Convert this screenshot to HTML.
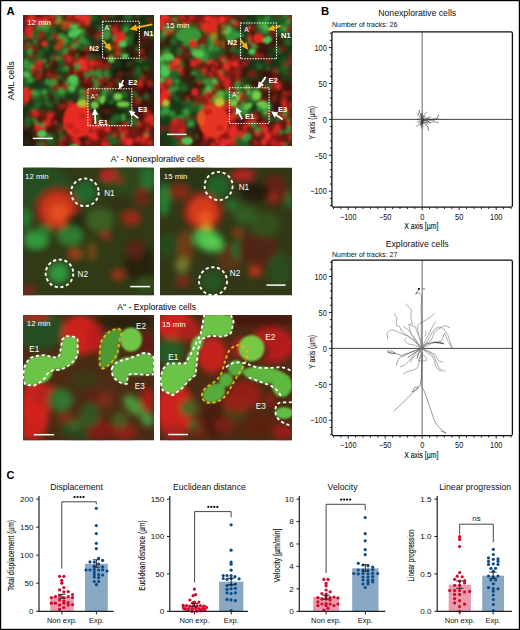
<!DOCTYPE html>
<html><head><meta charset="utf-8"><style>
html,body{margin:0;padding:0;background:#fff;}
body{width:520px;height:630px;overflow:hidden;}
svg{display:block;}
</style></head><body>
<svg width="520" height="630" viewBox="0 0 520 630">
<rect width="520" height="630" fill="#fff"/>
<rect x="0.5" y="0.5" width="519" height="629" fill="none" stroke="#000" stroke-width="1.4"/>
<text x="6.6" y="15" font-family="Liberation Sans, sans-serif" font-size="11.3" font-weight="bold">A</text>
<text x="321" y="15" font-family="Liberation Sans, sans-serif" font-size="11.3" font-weight="bold">B</text>
<text x="6.6" y="479.2" font-family="Liberation Sans, sans-serif" font-size="11" font-weight="bold">C</text>
<text transform="translate(14,100) rotate(-90)" font-family="Liberation Sans, sans-serif" font-size="9">AML cells</text>
<text x="110.8" y="162" font-family="Liberation Sans, sans-serif" font-size="8.75">A' - Nonexplorative cells</text>
<text x="117.2" y="309.6" font-family="Liberation Sans, sans-serif" font-size="8.6">A'' - Explorative cells</text>
<clipPath id="c1"><rect x="23" y="15" width="131" height="131"/></clipPath>
<g clip-path="url(#c1)">
<rect x="23" y="15" width="131" height="131" fill="#402a12"/>
<filter id="f1_0" x="-20%" y="-20%" width="140%" height="140%"><feGaussianBlur stdDeviation="3.2"/></filter>
<g filter="url(#f1_0)"><rect x="22.50" y="14.50" width="11.92" height="11.92" fill="#851914"/>
<rect x="33.42" y="14.50" width="11.92" height="11.92" fill="#851914"/>
<rect x="44.33" y="14.50" width="11.92" height="11.92" fill="#64150f"/>
<rect x="55.25" y="14.50" width="11.92" height="11.92" fill="#433410"/>
<rect x="66.17" y="14.50" width="11.92" height="11.92" fill="#851914"/>
<rect x="77.08" y="14.50" width="11.92" height="11.92" fill="#851914"/>
<rect x="88.00" y="14.50" width="11.92" height="11.92" fill="#163414"/>
<rect x="98.92" y="14.50" width="11.92" height="11.92" fill="#163414"/>
<rect x="109.83" y="14.50" width="11.92" height="11.92" fill="#191308"/>
<rect x="120.75" y="14.50" width="11.92" height="11.92" fill="#163414"/>
<rect x="131.67" y="14.50" width="11.92" height="11.92" fill="#191308"/>
<rect x="142.58" y="14.50" width="11.92" height="11.92" fill="#163414"/>
<rect x="22.50" y="25.42" width="11.92" height="11.92" fill="#64150f"/>
<rect x="33.42" y="25.42" width="11.92" height="11.92" fill="#1f5822"/>
<rect x="44.33" y="25.42" width="11.92" height="11.92" fill="#1f5822"/>
<rect x="55.25" y="25.42" width="11.92" height="11.92" fill="#163414"/>
<rect x="66.17" y="25.42" width="11.92" height="11.92" fill="#2e7531"/>
<rect x="77.08" y="25.42" width="11.92" height="11.92" fill="#433410"/>
<rect x="88.00" y="25.42" width="11.92" height="11.92" fill="#3c1009"/>
<rect x="98.92" y="25.42" width="11.92" height="11.92" fill="#1f5822"/>
<rect x="109.83" y="25.42" width="11.92" height="11.92" fill="#64150f"/>
<rect x="120.75" y="25.42" width="11.92" height="11.92" fill="#163414"/>
<rect x="131.67" y="25.42" width="11.92" height="11.92" fill="#191308"/>
<rect x="142.58" y="25.42" width="11.92" height="11.92" fill="#163414"/>
<rect x="22.50" y="36.33" width="11.92" height="11.92" fill="#3c1009"/>
<rect x="33.42" y="36.33" width="11.92" height="11.92" fill="#64150f"/>
<rect x="44.33" y="36.33" width="11.92" height="11.92" fill="#163414"/>
<rect x="55.25" y="36.33" width="11.92" height="11.92" fill="#433410"/>
<rect x="66.17" y="36.33" width="11.92" height="11.92" fill="#1f5822"/>
<rect x="77.08" y="36.33" width="11.92" height="11.92" fill="#1f5822"/>
<rect x="88.00" y="36.33" width="11.92" height="11.92" fill="#163414"/>
<rect x="98.92" y="36.33" width="11.92" height="11.92" fill="#163414"/>
<rect x="109.83" y="36.33" width="11.92" height="11.92" fill="#64150f"/>
<rect x="120.75" y="36.33" width="11.92" height="11.92" fill="#1f5822"/>
<rect x="131.67" y="36.33" width="11.92" height="11.92" fill="#191308"/>
<rect x="142.58" y="36.33" width="11.92" height="11.92" fill="#3c1009"/>
<rect x="22.50" y="47.25" width="11.92" height="11.92" fill="#1f5822"/>
<rect x="33.42" y="47.25" width="11.92" height="11.92" fill="#163414"/>
<rect x="44.33" y="47.25" width="11.92" height="11.92" fill="#163414"/>
<rect x="55.25" y="47.25" width="11.92" height="11.92" fill="#1f5822"/>
<rect x="66.17" y="47.25" width="11.92" height="11.92" fill="#64150f"/>
<rect x="77.08" y="47.25" width="11.92" height="11.92" fill="#3c1009"/>
<rect x="88.00" y="47.25" width="11.92" height="11.92" fill="#191308"/>
<rect x="98.92" y="47.25" width="11.92" height="11.92" fill="#191308"/>
<rect x="109.83" y="47.25" width="11.92" height="11.92" fill="#433410"/>
<rect x="120.75" y="47.25" width="11.92" height="11.92" fill="#191308"/>
<rect x="131.67" y="47.25" width="11.92" height="11.92" fill="#3c1009"/>
<rect x="142.58" y="47.25" width="11.92" height="11.92" fill="#191308"/>
<rect x="22.50" y="58.17" width="11.92" height="11.92" fill="#1f5822"/>
<rect x="33.42" y="58.17" width="11.92" height="11.92" fill="#64150f"/>
<rect x="44.33" y="58.17" width="11.92" height="11.92" fill="#3c1009"/>
<rect x="55.25" y="58.17" width="11.92" height="11.92" fill="#1f5822"/>
<rect x="66.17" y="58.17" width="11.92" height="11.92" fill="#64150f"/>
<rect x="77.08" y="58.17" width="11.92" height="11.92" fill="#851914"/>
<rect x="88.00" y="58.17" width="11.92" height="11.92" fill="#851914"/>
<rect x="98.92" y="58.17" width="11.92" height="11.92" fill="#3c1009"/>
<rect x="109.83" y="58.17" width="11.92" height="11.92" fill="#163414"/>
<rect x="120.75" y="58.17" width="11.92" height="11.92" fill="#191308"/>
<rect x="131.67" y="58.17" width="11.92" height="11.92" fill="#163414"/>
<rect x="142.58" y="58.17" width="11.92" height="11.92" fill="#163414"/>
<rect x="22.50" y="69.08" width="11.92" height="11.92" fill="#2e7531"/>
<rect x="33.42" y="69.08" width="11.92" height="11.92" fill="#3c1009"/>
<rect x="44.33" y="69.08" width="11.92" height="11.92" fill="#3c1009"/>
<rect x="55.25" y="69.08" width="11.92" height="11.92" fill="#163414"/>
<rect x="66.17" y="69.08" width="11.92" height="11.92" fill="#64150f"/>
<rect x="77.08" y="69.08" width="11.92" height="11.92" fill="#64150f"/>
<rect x="88.00" y="69.08" width="11.92" height="11.92" fill="#64150f"/>
<rect x="98.92" y="69.08" width="11.92" height="11.92" fill="#1f5822"/>
<rect x="109.83" y="69.08" width="11.92" height="11.92" fill="#191308"/>
<rect x="120.75" y="69.08" width="11.92" height="11.92" fill="#191308"/>
<rect x="131.67" y="69.08" width="11.92" height="11.92" fill="#163414"/>
<rect x="142.58" y="69.08" width="11.92" height="11.92" fill="#3c1009"/>
<rect x="22.50" y="80.00" width="11.92" height="11.92" fill="#163414"/>
<rect x="33.42" y="80.00" width="11.92" height="11.92" fill="#163414"/>
<rect x="44.33" y="80.00" width="11.92" height="11.92" fill="#1f5822"/>
<rect x="55.25" y="80.00" width="11.92" height="11.92" fill="#3c1009"/>
<rect x="66.17" y="80.00" width="11.92" height="11.92" fill="#2e7531"/>
<rect x="77.08" y="80.00" width="11.92" height="11.92" fill="#3c1009"/>
<rect x="88.00" y="80.00" width="11.92" height="11.92" fill="#64150f"/>
<rect x="98.92" y="80.00" width="11.92" height="11.92" fill="#3c1009"/>
<rect x="109.83" y="80.00" width="11.92" height="11.92" fill="#3c1009"/>
<rect x="120.75" y="80.00" width="11.92" height="11.92" fill="#3c1009"/>
<rect x="131.67" y="80.00" width="11.92" height="11.92" fill="#64150f"/>
<rect x="142.58" y="80.00" width="11.92" height="11.92" fill="#3c1009"/>
<rect x="22.50" y="90.92" width="11.92" height="11.92" fill="#851914"/>
<rect x="33.42" y="90.92" width="11.92" height="11.92" fill="#1f5822"/>
<rect x="44.33" y="90.92" width="11.92" height="11.92" fill="#3c1009"/>
<rect x="55.25" y="90.92" width="11.92" height="11.92" fill="#1f5822"/>
<rect x="66.17" y="90.92" width="11.92" height="11.92" fill="#163414"/>
<rect x="77.08" y="90.92" width="11.92" height="11.92" fill="#433410"/>
<rect x="88.00" y="90.92" width="11.92" height="11.92" fill="#3c1009"/>
<rect x="98.92" y="90.92" width="11.92" height="11.92" fill="#1f5822"/>
<rect x="109.83" y="90.92" width="11.92" height="11.92" fill="#163414"/>
<rect x="120.75" y="90.92" width="11.92" height="11.92" fill="#163414"/>
<rect x="131.67" y="90.92" width="11.92" height="11.92" fill="#3c1009"/>
<rect x="142.58" y="90.92" width="11.92" height="11.92" fill="#3c1009"/>
<rect x="22.50" y="101.83" width="11.92" height="11.92" fill="#163414"/>
<rect x="33.42" y="101.83" width="11.92" height="11.92" fill="#163414"/>
<rect x="44.33" y="101.83" width="11.92" height="11.92" fill="#163414"/>
<rect x="55.25" y="101.83" width="11.92" height="11.92" fill="#3c1009"/>
<rect x="66.17" y="101.83" width="11.92" height="11.92" fill="#851914"/>
<rect x="77.08" y="101.83" width="11.92" height="11.92" fill="#756419"/>
<rect x="88.00" y="101.83" width="11.92" height="11.92" fill="#163414"/>
<rect x="98.92" y="101.83" width="11.92" height="11.92" fill="#191308"/>
<rect x="109.83" y="101.83" width="11.92" height="11.92" fill="#191308"/>
<rect x="120.75" y="101.83" width="11.92" height="11.92" fill="#163414"/>
<rect x="131.67" y="101.83" width="11.92" height="11.92" fill="#3c1009"/>
<rect x="142.58" y="101.83" width="11.92" height="11.92" fill="#3c1009"/>
<rect x="22.50" y="112.75" width="11.92" height="11.92" fill="#163414"/>
<rect x="33.42" y="112.75" width="11.92" height="11.92" fill="#64150f"/>
<rect x="44.33" y="112.75" width="11.92" height="11.92" fill="#64150f"/>
<rect x="55.25" y="112.75" width="11.92" height="11.92" fill="#3c1009"/>
<rect x="66.17" y="112.75" width="11.92" height="11.92" fill="#851914"/>
<rect x="77.08" y="112.75" width="11.92" height="11.92" fill="#851914"/>
<rect x="88.00" y="112.75" width="11.92" height="11.92" fill="#3c1009"/>
<rect x="98.92" y="112.75" width="11.92" height="11.92" fill="#191308"/>
<rect x="109.83" y="112.75" width="11.92" height="11.92" fill="#163414"/>
<rect x="120.75" y="112.75" width="11.92" height="11.92" fill="#163414"/>
<rect x="131.67" y="112.75" width="11.92" height="11.92" fill="#3c1009"/>
<rect x="142.58" y="112.75" width="11.92" height="11.92" fill="#64150f"/>
<rect x="22.50" y="123.67" width="11.92" height="11.92" fill="#191308"/>
<rect x="33.42" y="123.67" width="11.92" height="11.92" fill="#64150f"/>
<rect x="44.33" y="123.67" width="11.92" height="11.92" fill="#3c1009"/>
<rect x="55.25" y="123.67" width="11.92" height="11.92" fill="#163414"/>
<rect x="66.17" y="123.67" width="11.92" height="11.92" fill="#851914"/>
<rect x="77.08" y="123.67" width="11.92" height="11.92" fill="#851914"/>
<rect x="88.00" y="123.67" width="11.92" height="11.92" fill="#851914"/>
<rect x="98.92" y="123.67" width="11.92" height="11.92" fill="#851914"/>
<rect x="109.83" y="123.67" width="11.92" height="11.92" fill="#64150f"/>
<rect x="120.75" y="123.67" width="11.92" height="11.92" fill="#64150f"/>
<rect x="131.67" y="123.67" width="11.92" height="11.92" fill="#64150f"/>
<rect x="142.58" y="123.67" width="11.92" height="11.92" fill="#64150f"/>
<rect x="22.50" y="134.58" width="11.92" height="11.92" fill="#191308"/>
<rect x="33.42" y="134.58" width="11.92" height="11.92" fill="#3c1009"/>
<rect x="44.33" y="134.58" width="11.92" height="11.92" fill="#1f5822"/>
<rect x="55.25" y="134.58" width="11.92" height="11.92" fill="#3c1009"/>
<rect x="66.17" y="134.58" width="11.92" height="11.92" fill="#64150f"/>
<rect x="77.08" y="134.58" width="11.92" height="11.92" fill="#3c1009"/>
<rect x="88.00" y="134.58" width="11.92" height="11.92" fill="#851914"/>
<rect x="98.92" y="134.58" width="11.92" height="11.92" fill="#64150f"/>
<rect x="109.83" y="134.58" width="11.92" height="11.92" fill="#163414"/>
<rect x="120.75" y="134.58" width="11.92" height="11.92" fill="#851914"/>
<rect x="131.67" y="134.58" width="11.92" height="11.92" fill="#64150f"/>
<rect x="142.58" y="134.58" width="11.92" height="11.92" fill="#851914"/></g>
<filter id="f1_1" x="-20%" y="-20%" width="140%" height="140%"><feGaussianBlur stdDeviation="1.4"/></filter>
<g filter="url(#f1_1)"><ellipse cx="31.6" cy="16.5" rx="2.7" ry="2.9" fill="#eb2d26" transform="rotate(142 31.6 16.5)"/>
<ellipse cx="45.4" cy="18.6" rx="2.7" ry="3.0" fill="#d72820" transform="rotate(41 45.4 18.6)"/>
<ellipse cx="52.3" cy="15.6" rx="2.9" ry="3.5" fill="#d72820" transform="rotate(69 52.3 15.6)"/>
<ellipse cx="58.9" cy="16.4" rx="2.8" ry="2.4" fill="#3c9637" transform="rotate(42 58.9 16.4)"/>
<ellipse cx="70.0" cy="15.6" rx="2.9" ry="3.1" fill="#c8231e" transform="rotate(33 70.0 15.6)"/>
<ellipse cx="77.4" cy="16.0" rx="3.2" ry="3.5" fill="#eb2d26" transform="rotate(169 77.4 16.0)"/>
<ellipse cx="82.3" cy="18.2" rx="2.9" ry="3.5" fill="#eb2d26" transform="rotate(152 82.3 18.2)"/>
<ellipse cx="86.3" cy="15.6" rx="3.3" ry="3.1" fill="#eb2d26" transform="rotate(31 86.3 15.6)"/>
<ellipse cx="91.8" cy="18.2" rx="2.7" ry="2.7" fill="#286428" transform="rotate(140 91.8 18.2)"/>
<ellipse cx="95.6" cy="17.5" rx="2.1" ry="2.3" fill="#286428" transform="rotate(177 95.6 17.5)"/>
<ellipse cx="100.7" cy="16.2" rx="3.6" ry="4.1" fill="#1e3716" transform="rotate(97 100.7 16.2)"/>
<ellipse cx="105.1" cy="17.6" rx="2.9" ry="2.9" fill="#781e14" transform="rotate(48 105.1 17.6)"/>
<ellipse cx="113.0" cy="15.5" rx="3.3" ry="4.0" fill="#2d5524" transform="rotate(133 113.0 15.5)"/>
<ellipse cx="116.3" cy="17.8" rx="2.1" ry="2.5" fill="#2d200f" transform="rotate(103 116.3 17.8)"/>
<ellipse cx="126.2" cy="16.9" rx="2.9" ry="3.0" fill="#286428" transform="rotate(110 126.2 16.9)"/>
<ellipse cx="129.4" cy="16.4" rx="2.9" ry="3.5" fill="#286428" transform="rotate(144 129.4 16.4)"/>
<ellipse cx="137.6" cy="16.5" rx="3.1" ry="2.4" fill="#2d5524" transform="rotate(3 137.6 16.5)"/>
<ellipse cx="145.4" cy="15.9" rx="2.6" ry="2.0" fill="#1e3716" transform="rotate(29 145.4 15.9)"/>
<ellipse cx="150.1" cy="16.6" rx="2.7" ry="2.5" fill="#1e3716" transform="rotate(85 150.1 16.6)"/>
<ellipse cx="30.2" cy="21.3" rx="3.4" ry="3.5" fill="#eb2d26" transform="rotate(38 30.2 21.3)"/>
<ellipse cx="36.9" cy="20.6" rx="2.2" ry="2.5" fill="#eb2d26" transform="rotate(29 36.9 20.6)"/>
<ellipse cx="41.4" cy="22.7" rx="3.6" ry="4.1" fill="#eb2d26" transform="rotate(93 41.4 22.7)"/>
<ellipse cx="50.3" cy="22.9" rx="3.0" ry="2.3" fill="#d72820" transform="rotate(54 50.3 22.9)"/>
<ellipse cx="57.3" cy="21.8" rx="2.5" ry="3.0" fill="#a08223" transform="rotate(134 57.3 21.8)"/>
<ellipse cx="59.8" cy="20.6" rx="2.1" ry="2.4" fill="#a08223" transform="rotate(173 59.8 20.6)"/>
<ellipse cx="64.5" cy="24.0" rx="3.1" ry="3.1" fill="#a08223" transform="rotate(68 64.5 24.0)"/>
<ellipse cx="69.7" cy="23.3" rx="2.3" ry="1.9" fill="#eb2d26" transform="rotate(120 69.7 23.3)"/>
<ellipse cx="80.2" cy="24.1" rx="2.0" ry="1.7" fill="#c8231e" transform="rotate(59 80.2 24.1)"/>
<ellipse cx="87.1" cy="21.9" rx="3.1" ry="3.6" fill="#eb2d26" transform="rotate(168 87.1 21.9)"/>
<ellipse cx="92.6" cy="23.3" rx="3.6" ry="3.1" fill="#1e3716" transform="rotate(131 92.6 23.3)"/>
<ellipse cx="105.0" cy="23.6" rx="3.3" ry="3.1" fill="#1e3716" transform="rotate(61 105.0 23.6)"/>
<ellipse cx="116.6" cy="24.4" rx="2.2" ry="2.3" fill="#6e1c12" transform="rotate(19 116.6 24.4)"/>
<ellipse cx="132.5" cy="23.9" rx="3.0" ry="3.4" fill="#2d200f" transform="rotate(68 132.5 23.9)"/>
<ellipse cx="135.3" cy="20.9" rx="3.4" ry="3.5" fill="#2d200f" transform="rotate(167 135.3 20.9)"/>
<ellipse cx="140.5" cy="23.7" rx="2.0" ry="2.2" fill="#2d5524" transform="rotate(17 140.5 23.7)"/>
<ellipse cx="149.6" cy="21.5" rx="2.7" ry="2.2" fill="#781e14" transform="rotate(30 149.6 21.5)"/>
<ellipse cx="29.0" cy="29.3" rx="3.6" ry="4.3" fill="#d72820" transform="rotate(53 29.0 29.3)"/>
<ellipse cx="39.0" cy="28.2" rx="2.0" ry="2.5" fill="#37963a" transform="rotate(53 39.0 28.2)"/>
<ellipse cx="45.5" cy="26.8" rx="3.5" ry="4.3" fill="#37963a" transform="rotate(175 45.5 26.8)"/>
<ellipse cx="62.7" cy="27.8" rx="3.1" ry="2.7" fill="#1e3716" transform="rotate(97 62.7 27.8)"/>
<ellipse cx="64.8" cy="25.9" rx="3.6" ry="3.5" fill="#b43c19" transform="rotate(117 64.8 25.9)"/>
<ellipse cx="72.6" cy="27.2" rx="2.5" ry="2.3" fill="#50c350" transform="rotate(152 72.6 27.2)"/>
<ellipse cx="75.1" cy="26.9" rx="2.9" ry="3.1" fill="#50c350" transform="rotate(44 75.1 26.9)"/>
<ellipse cx="94.3" cy="25.9" rx="2.5" ry="2.8" fill="#1e3716" transform="rotate(89 94.3 25.9)"/>
<ellipse cx="99.7" cy="27.6" rx="2.1" ry="2.6" fill="#235f23" transform="rotate(31 99.7 27.6)"/>
<ellipse cx="108.1" cy="28.9" rx="2.2" ry="2.2" fill="#37963a" transform="rotate(165 108.1 28.9)"/>
<ellipse cx="114.8" cy="29.3" rx="2.5" ry="3.0" fill="#d72820" transform="rotate(145 114.8 29.3)"/>
<ellipse cx="122.6" cy="28.6" rx="2.3" ry="2.2" fill="#1e3716" transform="rotate(28 122.6 28.6)"/>
<ellipse cx="127.0" cy="26.6" rx="3.5" ry="4.1" fill="#286428" transform="rotate(99 127.0 26.6)"/>
<ellipse cx="132.7" cy="27.4" rx="2.5" ry="2.2" fill="#2d200f" transform="rotate(4 132.7 27.4)"/>
<ellipse cx="136.0" cy="27.9" rx="2.6" ry="2.1" fill="#2d200f" transform="rotate(23 136.0 27.9)"/>
<ellipse cx="146.0" cy="27.2" rx="2.4" ry="1.8" fill="#1e3716" transform="rotate(95 146.0 27.2)"/>
<ellipse cx="152.1" cy="27.3" rx="3.2" ry="2.8" fill="#1e3716" transform="rotate(89 152.1 27.3)"/>
<ellipse cx="24.4" cy="32.3" rx="3.5" ry="4.2" fill="#781e12" transform="rotate(50 24.4 32.3)"/>
<ellipse cx="28.7" cy="30.9" rx="3.4" ry="2.8" fill="#d72820" transform="rotate(138 28.7 30.9)"/>
<ellipse cx="34.8" cy="33.4" rx="2.6" ry="2.9" fill="#235f23" transform="rotate(133 34.8 33.4)"/>
<ellipse cx="42.1" cy="34.2" rx="2.9" ry="2.4" fill="#96261c" transform="rotate(45 42.1 34.2)"/>
<ellipse cx="51.8" cy="30.8" rx="3.1" ry="2.9" fill="#235f23" transform="rotate(93 51.8 30.8)"/>
<ellipse cx="58.9" cy="34.6" rx="3.0" ry="2.7" fill="#1e3716" transform="rotate(164 58.9 34.6)"/>
<ellipse cx="64.4" cy="33.7" rx="3.1" ry="3.4" fill="#1e3716" transform="rotate(80 64.4 33.7)"/>
<ellipse cx="72.8" cy="32.2" rx="2.7" ry="2.2" fill="#379637" transform="rotate(59 72.8 32.2)"/>
<ellipse cx="82.8" cy="31.1" rx="2.7" ry="2.1" fill="#3c9637" transform="rotate(53 82.8 31.1)"/>
<ellipse cx="89.0" cy="31.4" rx="2.0" ry="2.2" fill="#3a1c0e" transform="rotate(109 89.0 31.4)"/>
<ellipse cx="94.9" cy="31.8" rx="2.4" ry="2.5" fill="#3a1c0e" transform="rotate(45 94.9 31.8)"/>
<ellipse cx="102.3" cy="33.9" rx="2.9" ry="2.9" fill="#96261c" transform="rotate(154 102.3 33.9)"/>
<ellipse cx="106.4" cy="32.2" rx="2.2" ry="2.5" fill="#37963a" transform="rotate(21 106.4 32.2)"/>
<ellipse cx="111.4" cy="34.5" rx="3.6" ry="2.9" fill="#781e12" transform="rotate(90 111.4 34.5)"/>
<ellipse cx="115.5" cy="32.6" rx="2.8" ry="2.1" fill="#d72820" transform="rotate(80 115.5 32.6)"/>
<ellipse cx="120.5" cy="32.2" rx="3.1" ry="3.1" fill="#781e12" transform="rotate(117 120.5 32.2)"/>
<ellipse cx="125.1" cy="30.6" rx="3.0" ry="3.5" fill="#286428" transform="rotate(149 125.1 30.6)"/>
<ellipse cx="133.3" cy="32.5" rx="2.7" ry="3.0" fill="#2d5524" transform="rotate(178 133.3 32.5)"/>
<ellipse cx="135.0" cy="33.1" rx="2.6" ry="1.9" fill="#2d200f" transform="rotate(70 135.0 33.1)"/>
<ellipse cx="141.0" cy="34.1" rx="3.2" ry="3.8" fill="#2d200f" transform="rotate(135 141.0 34.1)"/>
<ellipse cx="147.4" cy="33.2" rx="3.0" ry="2.9" fill="#1e3716" transform="rotate(113 147.4 33.2)"/>
<ellipse cx="153.2" cy="33.8" rx="3.2" ry="3.7" fill="#1e3716" transform="rotate(109 153.2 33.8)"/>
<ellipse cx="24.6" cy="38.5" rx="2.9" ry="2.4" fill="#2d6428" transform="rotate(150 24.6 38.5)"/>
<ellipse cx="30.4" cy="35.8" rx="3.2" ry="3.1" fill="#d72820" transform="rotate(64 30.4 35.8)"/>
<ellipse cx="33.7" cy="37.7" rx="3.1" ry="3.0" fill="#2d6428" transform="rotate(124 33.7 37.7)"/>
<ellipse cx="39.5" cy="36.5" rx="2.4" ry="1.9" fill="#96261c" transform="rotate(150 39.5 36.5)"/>
<ellipse cx="45.1" cy="37.7" rx="2.3" ry="2.4" fill="#1e3716" transform="rotate(128 45.1 37.7)"/>
<ellipse cx="49.8" cy="38.1" rx="2.9" ry="2.4" fill="#286428" transform="rotate(142 49.8 38.1)"/>
<ellipse cx="55.1" cy="36.6" rx="3.1" ry="3.7" fill="#96261c" transform="rotate(5 55.1 36.6)"/>
<ellipse cx="61.3" cy="36.9" rx="3.2" ry="3.7" fill="#3c9637" transform="rotate(34 61.3 36.9)"/>
<ellipse cx="64.5" cy="39.6" rx="3.5" ry="3.9" fill="#3c9637" transform="rotate(109 64.5 39.6)"/>
<ellipse cx="74.4" cy="36.2" rx="2.6" ry="2.9" fill="#379637" transform="rotate(43 74.4 36.2)"/>
<ellipse cx="81.8" cy="36.9" rx="2.6" ry="2.6" fill="#37963a" transform="rotate(18 81.8 36.9)"/>
<ellipse cx="97.6" cy="36.5" rx="3.1" ry="3.6" fill="#962016" transform="rotate(174 97.6 36.5)"/>
<ellipse cx="100.5" cy="39.0" rx="3.1" ry="2.5" fill="#286428" transform="rotate(72 100.5 39.0)"/>
<ellipse cx="105.6" cy="36.3" rx="3.3" ry="3.3" fill="#37963a" transform="rotate(104 105.6 36.3)"/>
<ellipse cx="115.5" cy="38.1" rx="3.6" ry="2.8" fill="#3c8c37" transform="rotate(144 115.5 38.1)"/>
<ellipse cx="120.5" cy="37.2" rx="3.5" ry="3.3" fill="#781e12" transform="rotate(158 120.5 37.2)"/>
<ellipse cx="124.9" cy="39.3" rx="2.2" ry="2.4" fill="#37963a" transform="rotate(10 124.9 39.3)"/>
<ellipse cx="129.8" cy="37.5" rx="3.4" ry="2.6" fill="#235f23" transform="rotate(11 129.8 37.5)"/>
<ellipse cx="134.5" cy="36.8" rx="2.1" ry="1.6" fill="#2d200f" transform="rotate(115 134.5 36.8)"/>
<ellipse cx="142.2" cy="39.1" rx="2.6" ry="2.8" fill="#2d200f" transform="rotate(175 142.2 39.1)"/>
<ellipse cx="145.4" cy="35.9" rx="2.9" ry="2.7" fill="#781e14" transform="rotate(109 145.4 35.9)"/>
<ellipse cx="151.6" cy="35.9" rx="2.7" ry="2.3" fill="#286428" transform="rotate(158 151.6 35.9)"/>
<ellipse cx="26.2" cy="43.6" rx="3.2" ry="3.6" fill="#3a1c0e" transform="rotate(45 26.2 43.6)"/>
<ellipse cx="29.2" cy="44.4" rx="3.4" ry="2.6" fill="#2d6428" transform="rotate(16 29.2 44.4)"/>
<ellipse cx="35.5" cy="42.2" rx="2.1" ry="2.1" fill="#3c8c37" transform="rotate(80 35.5 42.2)"/>
<ellipse cx="46.5" cy="44.3" rx="2.8" ry="2.3" fill="#286428" transform="rotate(144 46.5 44.3)"/>
<ellipse cx="61.7" cy="42.0" rx="3.3" ry="3.8" fill="#b43c19" transform="rotate(154 61.7 42.0)"/>
<ellipse cx="65.5" cy="41.7" rx="2.5" ry="2.3" fill="#3c9637" transform="rotate(141 65.5 41.7)"/>
<ellipse cx="71.2" cy="41.1" rx="2.7" ry="3.4" fill="#235f23" transform="rotate(129 71.2 41.1)"/>
<ellipse cx="76.7" cy="42.9" rx="3.3" ry="3.0" fill="#96261c" transform="rotate(28 76.7 42.9)"/>
<ellipse cx="81.0" cy="41.1" rx="2.9" ry="2.3" fill="#37963a" transform="rotate(147 81.0 41.1)"/>
<ellipse cx="85.2" cy="41.9" rx="2.5" ry="2.8" fill="#37963a" transform="rotate(90 85.2 41.9)"/>
<ellipse cx="89.6" cy="44.4" rx="2.5" ry="2.0" fill="#286428" transform="rotate(176 89.6 44.4)"/>
<ellipse cx="97.7" cy="44.4" rx="3.3" ry="4.0" fill="#781e14" transform="rotate(166 97.7 44.4)"/>
<ellipse cx="99.6" cy="42.8" rx="3.6" ry="4.1" fill="#1e3716" transform="rotate(127 99.6 42.8)"/>
<ellipse cx="105.6" cy="44.5" rx="2.6" ry="2.6" fill="#1e3716" transform="rotate(176 105.6 44.5)"/>
<ellipse cx="109.8" cy="41.3" rx="2.9" ry="3.5" fill="#1e3716" transform="rotate(33 109.8 41.3)"/>
<ellipse cx="117.1" cy="40.9" rx="2.9" ry="2.5" fill="#d72820" transform="rotate(19 117.1 40.9)"/>
<ellipse cx="126.4" cy="41.0" rx="3.4" ry="3.6" fill="#37963a" transform="rotate(31 126.4 41.0)"/>
<ellipse cx="129.4" cy="42.2" rx="3.1" ry="2.8" fill="#235f23" transform="rotate(160 129.4 42.2)"/>
<ellipse cx="137.8" cy="44.3" rx="3.1" ry="3.1" fill="#2d200f" transform="rotate(170 137.8 44.3)"/>
<ellipse cx="142.3" cy="44.0" rx="2.4" ry="2.1" fill="#6e1c12" transform="rotate(134 142.3 44.0)"/>
<ellipse cx="146.5" cy="42.7" rx="3.4" ry="3.9" fill="#3a1c0e" transform="rotate(105 146.5 42.7)"/>
<ellipse cx="25.4" cy="46.5" rx="3.1" ry="2.3" fill="#962016" transform="rotate(22 25.4 46.5)"/>
<ellipse cx="32.1" cy="48.7" rx="2.9" ry="3.0" fill="#96261c" transform="rotate(99 32.1 48.7)"/>
<ellipse cx="35.8" cy="49.0" rx="2.7" ry="2.8" fill="#781e14" transform="rotate(55 35.8 49.0)"/>
<ellipse cx="40.7" cy="48.1" rx="3.6" ry="3.0" fill="#1e3716" transform="rotate(115 40.7 48.1)"/>
<ellipse cx="46.6" cy="48.0" rx="2.6" ry="3.2" fill="#286428" transform="rotate(161 46.6 48.0)"/>
<ellipse cx="52.3" cy="49.5" rx="2.6" ry="2.6" fill="#1e3716" transform="rotate(143 52.3 49.5)"/>
<ellipse cx="56.8" cy="47.7" rx="2.7" ry="2.2" fill="#b43c19" transform="rotate(64 56.8 47.7)"/>
<ellipse cx="58.8" cy="46.4" rx="3.4" ry="3.5" fill="#b43c19" transform="rotate(52 58.8 46.4)"/>
<ellipse cx="64.9" cy="47.8" rx="3.1" ry="3.0" fill="#235f23" transform="rotate(140 64.9 47.8)"/>
<ellipse cx="71.7" cy="47.7" rx="3.1" ry="2.5" fill="#96261c" transform="rotate(23 71.7 47.7)"/>
<ellipse cx="74.8" cy="45.8" rx="2.8" ry="3.4" fill="#37963a" transform="rotate(72 74.8 45.8)"/>
<ellipse cx="82.3" cy="46.1" rx="3.6" ry="3.7" fill="#235f23" transform="rotate(96 82.3 46.1)"/>
<ellipse cx="87.8" cy="49.6" rx="2.9" ry="2.8" fill="#962016" transform="rotate(121 87.8 49.6)"/>
<ellipse cx="107.3" cy="49.2" rx="3.1" ry="2.4" fill="#2d5524" transform="rotate(70 107.3 49.2)"/>
<ellipse cx="110.3" cy="47.8" rx="2.2" ry="2.6" fill="#a08223" transform="rotate(19 110.3 47.8)"/>
<ellipse cx="117.8" cy="46.5" rx="2.7" ry="3.2" fill="#d72820" transform="rotate(179 117.8 46.5)"/>
<ellipse cx="127.9" cy="47.9" rx="3.2" ry="3.0" fill="#2d200f" transform="rotate(87 127.9 47.9)"/>
<ellipse cx="137.0" cy="49.5" rx="2.4" ry="2.5" fill="#2d6428" transform="rotate(79 137.0 49.5)"/>
<ellipse cx="142.8" cy="46.7" rx="3.1" ry="3.0" fill="#2d200f" transform="rotate(23 142.8 46.7)"/>
<ellipse cx="151.9" cy="49.6" rx="3.0" ry="2.5" fill="#2d200f" transform="rotate(74 151.9 49.6)"/>
<ellipse cx="29.6" cy="51.6" rx="2.8" ry="2.5" fill="#37963a" transform="rotate(109 29.6 51.6)"/>
<ellipse cx="41.4" cy="52.9" rx="2.5" ry="2.8" fill="#286428" transform="rotate(116 41.4 52.9)"/>
<ellipse cx="47.3" cy="52.0" rx="2.5" ry="2.1" fill="#1e3716" transform="rotate(25 47.3 52.0)"/>
<ellipse cx="61.6" cy="53.0" rx="2.4" ry="2.0" fill="#235f23" transform="rotate(102 61.6 53.0)"/>
<ellipse cx="65.5" cy="50.8" rx="2.5" ry="2.6" fill="#37963a" transform="rotate(15 65.5 50.8)"/>
<ellipse cx="77.9" cy="52.1" rx="2.8" ry="2.2" fill="#3a1c0e" transform="rotate(59 77.9 52.1)"/>
<ellipse cx="91.7" cy="50.9" rx="3.2" ry="2.5" fill="#2d200f" transform="rotate(57 91.7 50.9)"/>
<ellipse cx="118.0" cy="53.3" rx="3.1" ry="2.7" fill="#b43c19" transform="rotate(93 118.0 53.3)"/>
<ellipse cx="123.1" cy="52.2" rx="3.0" ry="3.5" fill="#2d5524" transform="rotate(109 123.1 52.2)"/>
<ellipse cx="125.9" cy="53.5" rx="2.8" ry="2.9" fill="#2d200f" transform="rotate(96 125.9 53.5)"/>
<ellipse cx="132.9" cy="53.3" rx="2.1" ry="2.1" fill="#3a1c0e" transform="rotate(32 132.9 53.3)"/>
<ellipse cx="141.6" cy="51.8" rx="2.8" ry="2.8" fill="#962016" transform="rotate(73 141.6 51.8)"/>
<ellipse cx="152.1" cy="53.0" rx="3.4" ry="3.7" fill="#2d200f" transform="rotate(123 152.1 53.0)"/>
<ellipse cx="31.3" cy="56.4" rx="2.2" ry="2.6" fill="#96261c" transform="rotate(39 31.3 56.4)"/>
<ellipse cx="37.0" cy="57.2" rx="2.3" ry="2.6" fill="#781e14" transform="rotate(69 37.0 57.2)"/>
<ellipse cx="39.1" cy="58.2" rx="3.1" ry="3.5" fill="#286428" transform="rotate(109 39.1 58.2)"/>
<ellipse cx="52.4" cy="58.4" rx="2.9" ry="3.5" fill="#286428" transform="rotate(83 52.4 58.4)"/>
<ellipse cx="56.1" cy="57.5" rx="2.7" ry="2.8" fill="#96261c" transform="rotate(10 56.1 57.5)"/>
<ellipse cx="58.9" cy="58.6" rx="2.1" ry="1.7" fill="#37963a" transform="rotate(25 58.9 58.6)"/>
<ellipse cx="65.2" cy="56.9" rx="3.5" ry="3.7" fill="#96261c" transform="rotate(144 65.2 56.9)"/>
<ellipse cx="69.8" cy="59.1" rx="2.9" ry="2.7" fill="#d72820" transform="rotate(29 69.8 59.1)"/>
<ellipse cx="77.6" cy="57.1" rx="2.6" ry="2.8" fill="#3c8c37" transform="rotate(179 77.6 57.1)"/>
<ellipse cx="79.2" cy="57.6" rx="2.5" ry="2.9" fill="#3a1c0e" transform="rotate(79 79.2 57.6)"/>
<ellipse cx="86.5" cy="57.9" rx="3.1" ry="3.7" fill="#962016" transform="rotate(31 86.5 57.9)"/>
<ellipse cx="91.0" cy="57.2" rx="3.6" ry="2.7" fill="#2d5524" transform="rotate(162 91.0 57.2)"/>
<ellipse cx="97.4" cy="56.5" rx="2.2" ry="2.0" fill="#2d5524" transform="rotate(175 97.4 56.5)"/>
<ellipse cx="102.2" cy="57.7" rx="2.8" ry="3.2" fill="#2d200f" transform="rotate(130 102.2 57.7)"/>
<ellipse cx="111.3" cy="58.1" rx="3.3" ry="2.8" fill="#a08223" transform="rotate(68 111.3 58.1)"/>
<ellipse cx="137.0" cy="59.0" rx="2.2" ry="2.8" fill="#286428" transform="rotate(149 137.0 59.0)"/>
<ellipse cx="139.5" cy="57.4" rx="3.2" ry="3.8" fill="#3a1c0e" transform="rotate(97 139.5 57.4)"/>
<ellipse cx="144.4" cy="59.1" rx="3.5" ry="3.7" fill="#781e14" transform="rotate(62 144.4 59.1)"/>
<ellipse cx="27.3" cy="64.7" rx="2.9" ry="3.0" fill="#37963a" transform="rotate(77 27.3 64.7)"/>
<ellipse cx="32.3" cy="63.8" rx="3.1" ry="3.3" fill="#235f23" transform="rotate(97 32.3 63.8)"/>
<ellipse cx="39.1" cy="63.4" rx="2.9" ry="3.1" fill="#d72820" transform="rotate(86 39.1 63.4)"/>
<ellipse cx="44.6" cy="60.9" rx="2.5" ry="2.2" fill="#3c8c37" transform="rotate(75 44.6 60.9)"/>
<ellipse cx="52.7" cy="63.7" rx="2.9" ry="2.8" fill="#962016" transform="rotate(90 52.7 63.7)"/>
<ellipse cx="54.4" cy="62.4" rx="2.3" ry="2.7" fill="#3a1c0e" transform="rotate(65 54.4 62.4)"/>
<ellipse cx="67.2" cy="64.0" rx="3.2" ry="2.9" fill="#781e12" transform="rotate(26 67.2 64.0)"/>
<ellipse cx="75.0" cy="62.7" rx="2.2" ry="1.9" fill="#d72820" transform="rotate(35 75.0 62.7)"/>
<ellipse cx="81.1" cy="61.6" rx="3.4" ry="3.5" fill="#eb2d26" transform="rotate(100 81.1 61.6)"/>
<ellipse cx="84.8" cy="63.4" rx="3.3" ry="2.5" fill="#eb2d26" transform="rotate(134 84.8 63.4)"/>
<ellipse cx="91.8" cy="63.2" rx="2.9" ry="2.3" fill="#eb2d26" transform="rotate(43 91.8 63.2)"/>
<ellipse cx="95.2" cy="63.5" rx="2.6" ry="3.0" fill="#c8231e" transform="rotate(41 95.2 63.5)"/>
<ellipse cx="100.5" cy="63.0" rx="3.3" ry="2.8" fill="#962016" transform="rotate(83 100.5 63.0)"/>
<ellipse cx="111.5" cy="63.3" rx="2.4" ry="1.9" fill="#1e3716" transform="rotate(149 111.5 63.3)"/>
<ellipse cx="117.5" cy="64.7" rx="2.2" ry="2.5" fill="#1e3716" transform="rotate(114 117.5 64.7)"/>
<ellipse cx="129.8" cy="64.5" rx="3.3" ry="3.1" fill="#2d5524" transform="rotate(166 129.8 64.5)"/>
<ellipse cx="140.4" cy="60.9" rx="2.3" ry="2.6" fill="#286428" transform="rotate(68 140.4 60.9)"/>
<ellipse cx="146.9" cy="61.9" rx="3.1" ry="3.7" fill="#1e3716" transform="rotate(91 146.9 61.9)"/>
<ellipse cx="153.4" cy="63.9" rx="2.4" ry="1.9" fill="#1e3716" transform="rotate(150 153.4 63.9)"/>
<ellipse cx="30.4" cy="66.1" rx="3.3" ry="3.4" fill="#37963a" transform="rotate(166 30.4 66.1)"/>
<ellipse cx="34.0" cy="68.6" rx="2.7" ry="2.6" fill="#d72820" transform="rotate(172 34.0 68.6)"/>
<ellipse cx="39.4" cy="67.9" rx="2.3" ry="2.2" fill="#d72820" transform="rotate(158 39.4 67.9)"/>
<ellipse cx="46.8" cy="66.1" rx="2.7" ry="3.2" fill="#2d6428" transform="rotate(32 46.8 66.1)"/>
<ellipse cx="54.9" cy="66.1" rx="3.6" ry="4.2" fill="#3a1c0e" transform="rotate(71 54.9 66.1)"/>
<ellipse cx="62.0" cy="69.3" rx="2.6" ry="3.2" fill="#235f23" transform="rotate(85 62.0 69.3)"/>
<ellipse cx="66.0" cy="69.6" rx="2.7" ry="2.8" fill="#37963a" transform="rotate(57 66.0 69.6)"/>
<ellipse cx="77.3" cy="67.0" rx="3.3" ry="3.7" fill="#3c8c37" transform="rotate(75 77.3 67.0)"/>
<ellipse cx="82.1" cy="68.2" rx="2.9" ry="2.2" fill="#eb2d26" transform="rotate(162 82.1 68.2)"/>
<ellipse cx="85.5" cy="68.1" rx="2.9" ry="2.9" fill="#eb2d26" transform="rotate(114 85.5 68.1)"/>
<ellipse cx="90.8" cy="67.9" rx="2.0" ry="1.7" fill="#c8231e" transform="rotate(59 90.8 67.9)"/>
<ellipse cx="99.7" cy="66.3" rx="2.8" ry="3.3" fill="#962016" transform="rotate(179 99.7 66.3)"/>
<ellipse cx="106.6" cy="66.0" rx="3.0" ry="3.5" fill="#962016" transform="rotate(48 106.6 66.0)"/>
<ellipse cx="111.4" cy="68.2" rx="2.1" ry="1.8" fill="#1e3716" transform="rotate(169 111.4 68.2)"/>
<ellipse cx="130.4" cy="66.7" rx="2.8" ry="3.1" fill="#2d200f" transform="rotate(54 130.4 66.7)"/>
<ellipse cx="138.3" cy="69.2" rx="2.5" ry="3.0" fill="#286428" transform="rotate(155 138.3 69.2)"/>
<ellipse cx="145.9" cy="68.9" rx="2.5" ry="2.8" fill="#286428" transform="rotate(160 145.9 68.9)"/>
<ellipse cx="26.2" cy="74.4" rx="3.6" ry="3.0" fill="#50c350" transform="rotate(21 26.2 74.4)"/>
<ellipse cx="34.1" cy="72.0" rx="2.1" ry="2.6" fill="#962016" transform="rotate(60 34.1 72.0)"/>
<ellipse cx="41.5" cy="71.8" rx="2.0" ry="2.5" fill="#2d6428" transform="rotate(6 41.5 71.8)"/>
<ellipse cx="48.7" cy="74.0" rx="3.3" ry="2.5" fill="#962016" transform="rotate(95 48.7 74.0)"/>
<ellipse cx="65.3" cy="72.5" rx="2.3" ry="1.9" fill="#1e3716" transform="rotate(123 65.3 72.5)"/>
<ellipse cx="75.6" cy="72.8" rx="2.0" ry="1.6" fill="#d72820" transform="rotate(113 75.6 72.8)"/>
<ellipse cx="82.8" cy="72.7" rx="2.5" ry="2.0" fill="#781e12" transform="rotate(76 82.8 72.7)"/>
<ellipse cx="87.2" cy="74.8" rx="2.9" ry="3.0" fill="#3c8c37" transform="rotate(90 87.2 74.8)"/>
<ellipse cx="91.7" cy="73.2" rx="2.7" ry="2.7" fill="#3c8c37" transform="rotate(150 91.7 73.2)"/>
<ellipse cx="96.2" cy="73.2" rx="3.0" ry="2.6" fill="#3c8c37" transform="rotate(56 96.2 73.2)"/>
<ellipse cx="99.3" cy="72.8" rx="2.4" ry="2.3" fill="#3c8c37" transform="rotate(126 99.3 72.8)"/>
<ellipse cx="106.9" cy="73.4" rx="2.7" ry="2.9" fill="#37963a" transform="rotate(64 106.9 73.4)"/>
<ellipse cx="109.2" cy="74.0" rx="2.5" ry="1.9" fill="#235f23" transform="rotate(61 109.2 74.0)"/>
<ellipse cx="117.4" cy="74.4" rx="2.1" ry="1.7" fill="#2d200f" transform="rotate(178 117.4 74.4)"/>
<ellipse cx="119.8" cy="73.7" rx="3.0" ry="2.6" fill="#6e1c12" transform="rotate(173 119.8 73.7)"/>
<ellipse cx="125.0" cy="74.0" rx="2.9" ry="2.7" fill="#2d200f" transform="rotate(53 125.0 74.0)"/>
<ellipse cx="131.4" cy="72.8" rx="2.1" ry="1.8" fill="#6e1c12" transform="rotate(169 131.4 72.8)"/>
<ellipse cx="136.8" cy="73.5" rx="2.6" ry="2.3" fill="#286428" transform="rotate(27 136.8 73.5)"/>
<ellipse cx="142.4" cy="74.5" rx="3.1" ry="2.8" fill="#286428" transform="rotate(90 142.4 74.5)"/>
<ellipse cx="144.6" cy="72.4" rx="3.4" ry="3.4" fill="#3a1c0e" transform="rotate(57 144.6 72.4)"/>
<ellipse cx="151.8" cy="72.1" rx="2.4" ry="1.8" fill="#3a1c0e" transform="rotate(56 151.8 72.1)"/>
<ellipse cx="30.6" cy="79.5" rx="3.2" ry="4.0" fill="#379637" transform="rotate(48 30.6 79.5)"/>
<ellipse cx="34.5" cy="76.4" rx="2.8" ry="2.3" fill="#3a1c0e" transform="rotate(166 34.5 76.4)"/>
<ellipse cx="38.9" cy="76.0" rx="3.2" ry="3.7" fill="#962016" transform="rotate(12 38.9 76.0)"/>
<ellipse cx="50.0" cy="76.0" rx="2.3" ry="2.0" fill="#962016" transform="rotate(53 50.0 76.0)"/>
<ellipse cx="54.7" cy="76.9" rx="3.4" ry="3.0" fill="#962016" transform="rotate(100 54.7 76.9)"/>
<ellipse cx="60.1" cy="77.6" rx="2.3" ry="2.5" fill="#286428" transform="rotate(137 60.1 77.6)"/>
<ellipse cx="74.3" cy="79.2" rx="2.2" ry="2.6" fill="#3c8c37" transform="rotate(27 74.3 79.2)"/>
<ellipse cx="91.4" cy="77.7" rx="3.1" ry="2.5" fill="#781e12" transform="rotate(36 91.4 77.7)"/>
<ellipse cx="94.5" cy="79.8" rx="2.4" ry="2.1" fill="#3c8c37" transform="rotate(45 94.5 79.8)"/>
<ellipse cx="100.1" cy="76.1" rx="2.3" ry="2.1" fill="#37963a" transform="rotate(82 100.1 76.1)"/>
<ellipse cx="106.8" cy="78.4" rx="2.6" ry="2.5" fill="#96261c" transform="rotate(44 106.8 78.4)"/>
<ellipse cx="112.7" cy="79.6" rx="2.2" ry="1.7" fill="#2d200f" transform="rotate(144 112.7 79.6)"/>
<ellipse cx="116.3" cy="79.7" rx="3.2" ry="3.0" fill="#6e1c12" transform="rotate(82 116.3 79.7)"/>
<ellipse cx="120.8" cy="77.9" rx="2.2" ry="1.8" fill="#2d200f" transform="rotate(102 120.8 77.9)"/>
<ellipse cx="127.1" cy="76.6" rx="3.0" ry="2.5" fill="#2d200f" transform="rotate(14 127.1 76.6)"/>
<ellipse cx="130.3" cy="78.6" rx="3.4" ry="3.0" fill="#2d200f" transform="rotate(77 130.3 78.6)"/>
<ellipse cx="137.9" cy="79.7" rx="3.1" ry="2.4" fill="#1e3716" transform="rotate(34 137.9 79.7)"/>
<ellipse cx="143.4" cy="78.9" rx="2.6" ry="3.2" fill="#962016" transform="rotate(91 143.4 78.9)"/>
<ellipse cx="147.9" cy="79.1" rx="3.1" ry="2.8" fill="#3a1c0e" transform="rotate(22 147.9 79.1)"/>
<ellipse cx="149.6" cy="77.1" rx="3.5" ry="3.0" fill="#3a1c0e" transform="rotate(44 149.6 77.1)"/>
<ellipse cx="24.8" cy="82.6" rx="2.1" ry="2.5" fill="#286428" transform="rotate(126 24.8 82.6)"/>
<ellipse cx="47.2" cy="81.6" rx="2.5" ry="2.5" fill="#37963a" transform="rotate(162 47.2 81.6)"/>
<ellipse cx="52.3" cy="83.2" rx="3.4" ry="3.5" fill="#37963a" transform="rotate(85 52.3 83.2)"/>
<ellipse cx="55.2" cy="82.7" rx="2.3" ry="2.6" fill="#37963a" transform="rotate(24 55.2 82.7)"/>
<ellipse cx="69.0" cy="82.5" rx="3.1" ry="3.7" fill="#379637" transform="rotate(16 69.0 82.5)"/>
<ellipse cx="74.7" cy="82.4" rx="3.3" ry="3.6" fill="#50c350" transform="rotate(177 74.7 82.4)"/>
<ellipse cx="85.9" cy="81.1" rx="2.6" ry="2.7" fill="#962016" transform="rotate(24 85.9 81.1)"/>
<ellipse cx="97.0" cy="83.3" rx="3.0" ry="3.5" fill="#3c8c37" transform="rotate(103 97.0 83.3)"/>
<ellipse cx="100.8" cy="81.3" rx="3.1" ry="3.6" fill="#962016" transform="rotate(3 100.8 81.3)"/>
<ellipse cx="110.4" cy="84.4" rx="2.5" ry="2.5" fill="#962016" transform="rotate(171 110.4 84.4)"/>
<ellipse cx="119.4" cy="82.7" rx="2.3" ry="2.2" fill="#2d6428" transform="rotate(118 119.4 82.7)"/>
<ellipse cx="126.6" cy="83.5" rx="2.5" ry="2.3" fill="#3a1c0e" transform="rotate(71 126.6 83.5)"/>
<ellipse cx="131.6" cy="84.5" rx="2.7" ry="3.2" fill="#3a1c0e" transform="rotate(175 131.6 84.5)"/>
<ellipse cx="140.4" cy="84.0" rx="2.8" ry="2.9" fill="#d72820" transform="rotate(126 140.4 84.0)"/>
<ellipse cx="147.6" cy="83.3" rx="2.0" ry="2.1" fill="#3a1c0e" transform="rotate(101 147.6 83.3)"/>
<ellipse cx="150.1" cy="83.4" rx="3.2" ry="3.7" fill="#962016" transform="rotate(79 150.1 83.4)"/>
<ellipse cx="26.2" cy="87.3" rx="3.2" ry="3.0" fill="#286428" transform="rotate(29 26.2 87.3)"/>
<ellipse cx="31.9" cy="89.9" rx="3.6" ry="3.0" fill="#1e3716" transform="rotate(88 31.9 89.9)"/>
<ellipse cx="43.9" cy="88.7" rx="3.6" ry="4.5" fill="#1e3716" transform="rotate(22 43.9 88.7)"/>
<ellipse cx="55.1" cy="86.8" rx="3.0" ry="2.7" fill="#96261c" transform="rotate(100 55.1 86.8)"/>
<ellipse cx="60.6" cy="88.3" rx="3.0" ry="3.7" fill="#962016" transform="rotate(107 60.6 88.3)"/>
<ellipse cx="65.0" cy="86.7" rx="3.6" ry="2.9" fill="#962016" transform="rotate(68 65.0 86.7)"/>
<ellipse cx="71.8" cy="88.5" rx="3.3" ry="3.2" fill="#50c350" transform="rotate(150 71.8 88.5)"/>
<ellipse cx="79.3" cy="87.6" rx="2.3" ry="2.2" fill="#3a1c0e" transform="rotate(154 79.3 87.6)"/>
<ellipse cx="95.9" cy="87.6" rx="3.2" ry="2.7" fill="#3c8c37" transform="rotate(108 95.9 87.6)"/>
<ellipse cx="106.4" cy="89.3" rx="3.5" ry="3.0" fill="#962016" transform="rotate(153 106.4 89.3)"/>
<ellipse cx="112.7" cy="86.5" rx="2.7" ry="3.3" fill="#962016" transform="rotate(84 112.7 86.5)"/>
<ellipse cx="114.9" cy="88.2" rx="3.4" ry="3.8" fill="#3a1c0e" transform="rotate(86 114.9 88.2)"/>
<ellipse cx="131.8" cy="86.9" rx="2.3" ry="2.3" fill="#3a1c0e" transform="rotate(158 131.8 86.9)"/>
<ellipse cx="24.8" cy="92.2" rx="2.8" ry="2.7" fill="#eb2d26" transform="rotate(133 24.8 92.2)"/>
<ellipse cx="30.9" cy="92.3" rx="2.3" ry="2.3" fill="#c8231e" transform="rotate(80 30.9 92.3)"/>
<ellipse cx="35.7" cy="93.2" rx="3.3" ry="4.1" fill="#37963a" transform="rotate(101 35.7 93.2)"/>
<ellipse cx="41.5" cy="92.4" rx="2.7" ry="2.7" fill="#235f23" transform="rotate(71 41.5 92.4)"/>
<ellipse cx="44.5" cy="92.1" rx="3.0" ry="2.6" fill="#37963a" transform="rotate(141 44.5 92.1)"/>
<ellipse cx="51.8" cy="92.4" rx="2.6" ry="2.4" fill="#2d6428" transform="rotate(107 51.8 92.4)"/>
<ellipse cx="55.4" cy="94.3" rx="2.5" ry="2.1" fill="#2d6428" transform="rotate(72 55.4 94.3)"/>
<ellipse cx="61.5" cy="91.8" rx="3.4" ry="4.2" fill="#37963a" transform="rotate(109 61.5 91.8)"/>
<ellipse cx="67.2" cy="92.0" rx="3.0" ry="2.8" fill="#286428" transform="rotate(128 67.2 92.0)"/>
<ellipse cx="77.1" cy="91.5" rx="2.2" ry="2.3" fill="#1e3716" transform="rotate(132 77.1 91.5)"/>
<ellipse cx="82.0" cy="91.7" rx="2.9" ry="3.1" fill="#3c9637" transform="rotate(126 82.0 91.7)"/>
<ellipse cx="87.8" cy="91.9" rx="3.6" ry="2.9" fill="#b43c19" transform="rotate(174 87.8 91.9)"/>
<ellipse cx="94.6" cy="91.6" rx="3.3" ry="3.6" fill="#962016" transform="rotate(57 94.6 91.6)"/>
<ellipse cx="104.8" cy="92.0" rx="2.8" ry="3.4" fill="#37963a" transform="rotate(16 104.8 92.0)"/>
<ellipse cx="111.4" cy="91.7" rx="2.2" ry="2.7" fill="#286428" transform="rotate(63 111.4 91.7)"/>
<ellipse cx="121.4" cy="94.7" rx="2.3" ry="2.8" fill="#1e3716" transform="rotate(1 121.4 94.7)"/>
<ellipse cx="124.4" cy="94.4" rx="3.3" ry="3.8" fill="#286428" transform="rotate(139 124.4 94.4)"/>
<ellipse cx="134.8" cy="94.0" rx="2.8" ry="3.1" fill="#2d6428" transform="rotate(120 134.8 94.0)"/>
<ellipse cx="145.8" cy="94.1" rx="2.6" ry="2.7" fill="#3a1c0e" transform="rotate(37 145.8 94.1)"/>
<ellipse cx="35.4" cy="98.6" rx="2.1" ry="2.4" fill="#235f23" transform="rotate(147 35.4 98.6)"/>
<ellipse cx="46.8" cy="97.8" rx="3.1" ry="3.4" fill="#2d6428" transform="rotate(163 46.8 97.8)"/>
<ellipse cx="51.1" cy="96.3" rx="3.1" ry="3.1" fill="#3a1c0e" transform="rotate(105 51.1 96.3)"/>
<ellipse cx="57.1" cy="97.1" rx="2.7" ry="2.2" fill="#235f23" transform="rotate(3 57.1 97.1)"/>
<ellipse cx="69.0" cy="96.4" rx="3.6" ry="3.4" fill="#1e3716" transform="rotate(85 69.0 96.4)"/>
<ellipse cx="74.3" cy="98.3" rx="3.5" ry="3.8" fill="#1e3716" transform="rotate(98 74.3 98.3)"/>
<ellipse cx="82.6" cy="98.2" rx="3.2" ry="3.1" fill="#3c9637" transform="rotate(12 82.6 98.2)"/>
<ellipse cx="87.5" cy="97.6" rx="2.2" ry="2.6" fill="#b43c19" transform="rotate(20 87.5 97.6)"/>
<ellipse cx="89.4" cy="98.2" rx="2.4" ry="2.1" fill="#2d6428" transform="rotate(110 89.4 98.2)"/>
<ellipse cx="96.3" cy="97.7" rx="3.0" ry="2.6" fill="#962016" transform="rotate(112 96.3 97.7)"/>
<ellipse cx="100.2" cy="100.1" rx="3.6" ry="3.5" fill="#37963a" transform="rotate(96 100.2 100.1)"/>
<ellipse cx="116.0" cy="98.5" rx="2.8" ry="3.0" fill="#286428" transform="rotate(137 116.0 98.5)"/>
<ellipse cx="120.9" cy="98.9" rx="2.8" ry="2.9" fill="#1e3716" transform="rotate(55 120.9 98.9)"/>
<ellipse cx="137.9" cy="99.5" rx="3.3" ry="3.8" fill="#962016" transform="rotate(97 137.9 99.5)"/>
<ellipse cx="139.8" cy="100.1" rx="3.4" ry="3.3" fill="#2d6428" transform="rotate(131 139.8 100.1)"/>
<ellipse cx="146.6" cy="96.6" rx="2.9" ry="3.2" fill="#2d6428" transform="rotate(112 146.6 96.6)"/>
<ellipse cx="23.6" cy="102.2" rx="3.1" ry="3.2" fill="#c8231e" transform="rotate(20 23.6 102.2)"/>
<ellipse cx="31.0" cy="103.7" rx="3.5" ry="3.4" fill="#1e3716" transform="rotate(110 31.0 103.7)"/>
<ellipse cx="36.0" cy="103.9" rx="2.1" ry="1.7" fill="#286428" transform="rotate(8 36.0 103.9)"/>
<ellipse cx="39.8" cy="104.3" rx="2.2" ry="2.6" fill="#286428" transform="rotate(16 39.8 104.3)"/>
<ellipse cx="46.4" cy="103.4" rx="2.2" ry="2.3" fill="#286428" transform="rotate(45 46.4 103.4)"/>
<ellipse cx="49.8" cy="104.9" rx="3.0" ry="2.7" fill="#286428" transform="rotate(85 49.8 104.9)"/>
<ellipse cx="57.0" cy="101.9" rx="2.1" ry="2.2" fill="#235f23" transform="rotate(148 57.0 101.9)"/>
<ellipse cx="62.2" cy="102.6" rx="3.5" ry="4.3" fill="#3a1c0e" transform="rotate(142 62.2 102.6)"/>
<ellipse cx="70.3" cy="104.7" rx="2.3" ry="2.1" fill="#eb2d26" transform="rotate(124 70.3 104.7)"/>
<ellipse cx="76.0" cy="101.6" rx="3.4" ry="3.9" fill="#1e3716" transform="rotate(0 76.0 101.6)"/>
<ellipse cx="82.1" cy="104.0" rx="3.4" ry="3.9" fill="#5ab43c" transform="rotate(124 82.1 104.0)"/>
<ellipse cx="84.1" cy="104.3" rx="3.4" ry="2.8" fill="#d2b42d" transform="rotate(154 84.1 104.3)"/>
<ellipse cx="92.6" cy="104.0" rx="2.8" ry="2.3" fill="#1e3716" transform="rotate(44 92.6 104.0)"/>
<ellipse cx="94.8" cy="102.6" rx="3.0" ry="3.5" fill="#1e3716" transform="rotate(78 94.8 102.6)"/>
<ellipse cx="100.8" cy="104.2" rx="3.5" ry="2.9" fill="#2d200f" transform="rotate(23 100.8 104.2)"/>
<ellipse cx="111.7" cy="102.0" rx="3.0" ry="2.6" fill="#286428" transform="rotate(149 111.7 102.0)"/>
<ellipse cx="119.9" cy="104.0" rx="3.5" ry="4.2" fill="#2d5524" transform="rotate(4 119.9 104.0)"/>
<ellipse cx="127.9" cy="104.3" rx="3.2" ry="2.9" fill="#1e3716" transform="rotate(145 127.9 104.3)"/>
<ellipse cx="133.2" cy="101.3" rx="2.2" ry="2.5" fill="#3a1c0e" transform="rotate(175 133.2 101.3)"/>
<ellipse cx="137.7" cy="102.1" rx="3.3" ry="3.1" fill="#962016" transform="rotate(15 137.7 102.1)"/>
<ellipse cx="143.0" cy="101.5" rx="2.6" ry="2.0" fill="#3a1c0e" transform="rotate(13 143.0 101.5)"/>
<ellipse cx="150.7" cy="103.3" rx="3.4" ry="4.0" fill="#3a1c0e" transform="rotate(31 150.7 103.3)"/>
<ellipse cx="27.0" cy="107.2" rx="3.6" ry="3.8" fill="#1e3716" transform="rotate(126 27.0 107.2)"/>
<ellipse cx="32.5" cy="109.5" rx="2.5" ry="1.9" fill="#286428" transform="rotate(87 32.5 109.5)"/>
<ellipse cx="36.7" cy="106.8" rx="2.3" ry="2.0" fill="#286428" transform="rotate(36 36.7 106.8)"/>
<ellipse cx="47.3" cy="109.6" rx="2.5" ry="3.0" fill="#1e3716" transform="rotate(38 47.3 109.6)"/>
<ellipse cx="61.6" cy="107.4" rx="3.0" ry="3.0" fill="#962016" transform="rotate(143 61.6 107.4)"/>
<ellipse cx="64.1" cy="106.5" rx="2.8" ry="3.1" fill="#962016" transform="rotate(100 64.1 106.5)"/>
<ellipse cx="75.7" cy="108.4" rx="2.4" ry="2.0" fill="#eb2d26" transform="rotate(109 75.7 108.4)"/>
<ellipse cx="80.0" cy="107.6" rx="2.0" ry="1.5" fill="#d2b42d" transform="rotate(141 80.0 107.6)"/>
<ellipse cx="84.1" cy="106.5" rx="2.5" ry="2.2" fill="#d2b42d" transform="rotate(157 84.1 106.5)"/>
<ellipse cx="101.6" cy="109.0" rx="2.0" ry="2.5" fill="#2d200f" transform="rotate(5 101.6 109.0)"/>
<ellipse cx="112.5" cy="110.0" rx="2.2" ry="1.7" fill="#2d200f" transform="rotate(25 112.5 110.0)"/>
<ellipse cx="114.5" cy="108.4" rx="2.0" ry="1.8" fill="#2d200f" transform="rotate(47 114.5 108.4)"/>
<ellipse cx="122.8" cy="108.3" rx="2.4" ry="2.1" fill="#1e3716" transform="rotate(86 122.8 108.3)"/>
<ellipse cx="127.9" cy="107.0" rx="2.1" ry="1.9" fill="#286428" transform="rotate(39 127.9 107.0)"/>
<ellipse cx="132.9" cy="109.1" rx="3.3" ry="4.0" fill="#3a1c0e" transform="rotate(12 132.9 109.1)"/>
<ellipse cx="134.9" cy="107.9" rx="2.4" ry="1.9" fill="#3a1c0e" transform="rotate(35 134.9 107.9)"/>
<ellipse cx="143.2" cy="109.9" rx="2.9" ry="2.5" fill="#962016" transform="rotate(94 143.2 109.9)"/>
<ellipse cx="145.1" cy="106.6" rx="2.1" ry="2.4" fill="#3a1c0e" transform="rotate(160 145.1 106.6)"/>
<ellipse cx="26.9" cy="111.4" rx="2.8" ry="2.3" fill="#1e3716" transform="rotate(147 26.9 111.4)"/>
<ellipse cx="31.8" cy="115.0" rx="3.1" ry="3.6" fill="#781e14" transform="rotate(11 31.8 115.0)"/>
<ellipse cx="35.5" cy="113.3" rx="3.3" ry="3.4" fill="#d72820" transform="rotate(152 35.5 113.3)"/>
<ellipse cx="42.4" cy="112.7" rx="2.9" ry="2.7" fill="#781e14" transform="rotate(112 42.4 112.7)"/>
<ellipse cx="51.1" cy="114.5" rx="2.7" ry="2.8" fill="#d72820" transform="rotate(11 51.1 114.5)"/>
<ellipse cx="57.4" cy="113.8" rx="3.5" ry="3.4" fill="#3a1c0e" transform="rotate(92 57.4 113.8)"/>
<ellipse cx="61.5" cy="112.3" rx="3.2" ry="3.8" fill="#3a1c0e" transform="rotate(23 61.5 112.3)"/>
<ellipse cx="71.7" cy="114.2" rx="2.6" ry="3.2" fill="#eb2d26" transform="rotate(46 71.7 114.2)"/>
<ellipse cx="91.7" cy="112.1" rx="2.3" ry="2.1" fill="#1e3716" transform="rotate(115 91.7 112.1)"/>
<ellipse cx="95.9" cy="114.5" rx="3.1" ry="3.6" fill="#3a1c0e" transform="rotate(101 95.9 114.5)"/>
<ellipse cx="102.8" cy="111.4" rx="2.1" ry="1.9" fill="#2d200f" transform="rotate(97 102.8 111.4)"/>
<ellipse cx="106.9" cy="111.3" rx="2.4" ry="2.9" fill="#6e1c12" transform="rotate(62 106.9 111.3)"/>
<ellipse cx="112.0" cy="111.3" rx="2.6" ry="3.3" fill="#2d200f" transform="rotate(42 112.0 111.3)"/>
<ellipse cx="114.9" cy="111.3" rx="3.0" ry="2.5" fill="#2d200f" transform="rotate(151 114.9 111.3)"/>
<ellipse cx="127.0" cy="115.1" rx="3.3" ry="3.5" fill="#1e3716" transform="rotate(129 127.0 115.1)"/>
<ellipse cx="131.4" cy="112.3" rx="3.5" ry="2.7" fill="#286428" transform="rotate(150 131.4 112.3)"/>
<ellipse cx="135.0" cy="113.0" rx="2.8" ry="2.8" fill="#3a1c0e" transform="rotate(91 135.0 113.0)"/>
<ellipse cx="147.4" cy="112.4" rx="3.1" ry="3.7" fill="#962016" transform="rotate(99 147.4 112.4)"/>
<ellipse cx="25.7" cy="119.8" rx="2.4" ry="1.8" fill="#1e3716" transform="rotate(118 25.7 119.8)"/>
<ellipse cx="34.2" cy="120.3" rx="2.4" ry="1.8" fill="#3c8c37" transform="rotate(148 34.2 120.3)"/>
<ellipse cx="49.4" cy="116.7" rx="3.0" ry="3.5" fill="#d72820" transform="rotate(10 49.4 116.7)"/>
<ellipse cx="61.8" cy="117.1" rx="2.2" ry="2.6" fill="#3a1c0e" transform="rotate(157 61.8 117.1)"/>
<ellipse cx="65.4" cy="116.6" rx="2.7" ry="2.5" fill="#3a1c0e" transform="rotate(77 65.4 116.6)"/>
<ellipse cx="71.8" cy="118.0" rx="2.2" ry="1.7" fill="#eb2d26" transform="rotate(173 71.8 118.0)"/>
<ellipse cx="74.2" cy="118.7" rx="2.9" ry="3.6" fill="#c8231e" transform="rotate(26 74.2 118.7)"/>
<ellipse cx="82.3" cy="116.7" rx="3.5" ry="3.0" fill="#eb2d26" transform="rotate(111 82.3 116.7)"/>
<ellipse cx="86.8" cy="119.4" rx="3.4" ry="2.8" fill="#eb2d26" transform="rotate(72 86.8 119.4)"/>
<ellipse cx="91.8" cy="116.4" rx="2.6" ry="2.1" fill="#962016" transform="rotate(164 91.8 116.4)"/>
<ellipse cx="96.4" cy="118.0" rx="3.5" ry="4.2" fill="#2d6428" transform="rotate(15 96.4 118.0)"/>
<ellipse cx="102.2" cy="120.0" rx="2.8" ry="2.3" fill="#2d200f" transform="rotate(1 102.2 120.0)"/>
<ellipse cx="115.8" cy="118.5" rx="3.6" ry="4.3" fill="#286428" transform="rotate(48 115.8 118.5)"/>
<ellipse cx="119.7" cy="117.9" rx="3.2" ry="2.9" fill="#286428" transform="rotate(123 119.7 117.9)"/>
<ellipse cx="131.9" cy="117.4" rx="3.4" ry="4.1" fill="#1e3716" transform="rotate(125 131.9 117.4)"/>
<ellipse cx="136.7" cy="119.3" rx="3.4" ry="3.9" fill="#962016" transform="rotate(125 136.7 119.3)"/>
<ellipse cx="139.6" cy="119.6" rx="3.1" ry="3.3" fill="#3a1c0e" transform="rotate(76 139.6 119.6)"/>
<ellipse cx="147.9" cy="120.3" rx="3.5" ry="3.9" fill="#d72820" transform="rotate(107 147.9 120.3)"/>
<ellipse cx="150.9" cy="117.9" rx="3.5" ry="4.0" fill="#d72820" transform="rotate(93 150.9 117.9)"/>
<ellipse cx="26.8" cy="122.0" rx="3.2" ry="3.3" fill="#1e3716" transform="rotate(176 26.8 122.0)"/>
<ellipse cx="36.7" cy="122.9" rx="2.7" ry="2.2" fill="#3c8c37" transform="rotate(31 36.7 122.9)"/>
<ellipse cx="42.6" cy="125.0" rx="3.1" ry="3.1" fill="#3c8c37" transform="rotate(116 42.6 125.0)"/>
<ellipse cx="47.5" cy="122.9" rx="3.2" ry="3.6" fill="#d72820" transform="rotate(133 47.5 122.9)"/>
<ellipse cx="54.8" cy="122.4" rx="2.0" ry="1.6" fill="#d72820" transform="rotate(121 54.8 122.4)"/>
<ellipse cx="59.2" cy="125.1" rx="3.3" ry="2.5" fill="#1e3716" transform="rotate(14 59.2 125.1)"/>
<ellipse cx="64.2" cy="121.5" rx="2.1" ry="2.0" fill="#3a1c0e" transform="rotate(147 64.2 121.5)"/>
<ellipse cx="77.6" cy="125.2" rx="3.3" ry="2.7" fill="#eb2d26" transform="rotate(103 77.6 125.2)"/>
<ellipse cx="82.4" cy="122.0" rx="2.6" ry="2.7" fill="#c8231e" transform="rotate(144 82.4 122.0)"/>
<ellipse cx="85.3" cy="124.8" rx="3.3" ry="2.6" fill="#c8231e" transform="rotate(3 85.3 124.8)"/>
<ellipse cx="89.4" cy="121.7" rx="2.1" ry="1.8" fill="#2d6428" transform="rotate(55 89.4 121.7)"/>
<ellipse cx="97.9" cy="124.5" rx="2.2" ry="2.7" fill="#eb2d26" transform="rotate(40 97.9 124.5)"/>
<ellipse cx="102.2" cy="123.4" rx="3.5" ry="3.3" fill="#6e1c12" transform="rotate(128 102.2 123.4)"/>
<ellipse cx="111.9" cy="122.4" rx="3.2" ry="2.8" fill="#286428" transform="rotate(166 111.9 122.4)"/>
<ellipse cx="125.2" cy="124.7" rx="2.2" ry="2.4" fill="#d72820" transform="rotate(77 125.2 124.7)"/>
<ellipse cx="129.8" cy="121.5" rx="2.8" ry="2.4" fill="#286428" transform="rotate(37 129.8 121.5)"/>
<ellipse cx="135.3" cy="122.7" rx="3.6" ry="4.1" fill="#2d6428" transform="rotate(25 135.3 122.7)"/>
<ellipse cx="139.8" cy="124.5" rx="2.4" ry="2.3" fill="#d72820" transform="rotate(26 139.8 124.5)"/>
<ellipse cx="147.7" cy="124.0" rx="2.3" ry="2.0" fill="#781e12" transform="rotate(151 147.7 124.0)"/>
<ellipse cx="152.5" cy="123.6" rx="2.4" ry="2.9" fill="#d72820" transform="rotate(162 152.5 123.6)"/>
<ellipse cx="23.6" cy="126.4" rx="3.3" ry="3.6" fill="#6e1c12" transform="rotate(47 23.6 126.4)"/>
<ellipse cx="28.8" cy="129.1" rx="2.6" ry="3.0" fill="#2d200f" transform="rotate(34 28.8 129.1)"/>
<ellipse cx="37.3" cy="127.7" rx="3.3" ry="3.0" fill="#d72820" transform="rotate(106 37.3 127.7)"/>
<ellipse cx="42.4" cy="129.4" rx="2.6" ry="2.0" fill="#d72820" transform="rotate(145 42.4 129.4)"/>
<ellipse cx="44.6" cy="128.3" rx="2.5" ry="1.9" fill="#d72820" transform="rotate(107 44.6 128.3)"/>
<ellipse cx="49.4" cy="129.4" rx="2.9" ry="3.4" fill="#3a1c0e" transform="rotate(76 49.4 129.4)"/>
<ellipse cx="54.0" cy="127.0" rx="3.3" ry="3.3" fill="#3a1c0e" transform="rotate(168 54.0 127.0)"/>
<ellipse cx="60.4" cy="129.5" rx="3.4" ry="3.7" fill="#781e14" transform="rotate(39 60.4 129.5)"/>
<ellipse cx="66.1" cy="126.5" rx="3.3" ry="2.9" fill="#286428" transform="rotate(117 66.1 126.5)"/>
<ellipse cx="69.4" cy="127.7" rx="2.4" ry="2.2" fill="#eb2d26" transform="rotate(165 69.4 127.7)"/>
<ellipse cx="75.9" cy="127.4" rx="3.3" ry="3.0" fill="#eb2d26" transform="rotate(27 75.9 127.4)"/>
<ellipse cx="81.6" cy="130.1" rx="2.8" ry="2.3" fill="#c8231e" transform="rotate(159 81.6 130.1)"/>
<ellipse cx="92.9" cy="127.6" rx="2.5" ry="2.4" fill="#eb2d26" transform="rotate(20 92.9 127.6)"/>
<ellipse cx="96.9" cy="126.9" rx="2.4" ry="2.2" fill="#eb2d26" transform="rotate(78 96.9 126.9)"/>
<ellipse cx="101.2" cy="126.5" rx="2.7" ry="2.3" fill="#eb2d26" transform="rotate(145 101.2 126.5)"/>
<ellipse cx="107.4" cy="128.8" rx="3.3" ry="2.9" fill="#eb2d26" transform="rotate(30 107.4 128.8)"/>
<ellipse cx="118.0" cy="129.1" rx="2.6" ry="2.5" fill="#781e12" transform="rotate(164 118.0 129.1)"/>
<ellipse cx="120.6" cy="128.7" rx="2.3" ry="2.3" fill="#d72820" transform="rotate(16 120.6 128.7)"/>
<ellipse cx="125.9" cy="129.0" rx="2.4" ry="2.9" fill="#781e12" transform="rotate(178 125.9 129.0)"/>
<ellipse cx="129.6" cy="128.9" rx="2.3" ry="2.7" fill="#781e12" transform="rotate(51 129.6 128.9)"/>
<ellipse cx="147.5" cy="129.1" rx="2.5" ry="1.9" fill="#d72820" transform="rotate(32 147.5 129.1)"/>
<ellipse cx="33.6" cy="133.4" rx="2.6" ry="2.1" fill="#2d200f" transform="rotate(29 33.6 133.4)"/>
<ellipse cx="38.9" cy="134.5" rx="3.0" ry="3.1" fill="#781e12" transform="rotate(130 38.9 134.5)"/>
<ellipse cx="48.8" cy="131.4" rx="3.0" ry="3.7" fill="#3a1c0e" transform="rotate(151 48.8 131.4)"/>
<ellipse cx="60.4" cy="133.1" rx="2.1" ry="2.1" fill="#286428" transform="rotate(98 60.4 133.1)"/>
<ellipse cx="66.5" cy="132.2" rx="3.3" ry="2.9" fill="#1e3716" transform="rotate(53 66.5 132.2)"/>
<ellipse cx="74.5" cy="133.9" rx="3.2" ry="3.2" fill="#eb2d26" transform="rotate(39 74.5 133.9)"/>
<ellipse cx="81.1" cy="131.5" rx="2.3" ry="2.1" fill="#eb2d26" transform="rotate(29 81.1 131.5)"/>
<ellipse cx="86.4" cy="133.0" rx="3.0" ry="2.8" fill="#eb2d26" transform="rotate(138 86.4 133.0)"/>
<ellipse cx="91.9" cy="135.2" rx="3.4" ry="3.2" fill="#eb2d26" transform="rotate(154 91.9 135.2)"/>
<ellipse cx="95.2" cy="132.5" rx="2.8" ry="2.3" fill="#c8231e" transform="rotate(104 95.2 132.5)"/>
<ellipse cx="115.0" cy="134.9" rx="2.5" ry="1.9" fill="#d72820" transform="rotate(124 115.0 134.9)"/>
<ellipse cx="122.4" cy="134.7" rx="2.7" ry="2.5" fill="#3c8c37" transform="rotate(110 122.4 134.7)"/>
<ellipse cx="125.1" cy="133.1" rx="3.4" ry="2.7" fill="#d72820" transform="rotate(131 125.1 133.1)"/>
<ellipse cx="133.0" cy="133.7" rx="2.2" ry="2.6" fill="#781e12" transform="rotate(9 133.0 133.7)"/>
<ellipse cx="134.8" cy="132.3" rx="2.6" ry="2.9" fill="#781e12" transform="rotate(40 134.8 132.3)"/>
<ellipse cx="146.5" cy="134.7" rx="2.6" ry="3.2" fill="#3c8c37" transform="rotate(101 146.5 134.7)"/>
<ellipse cx="26.2" cy="139.5" rx="3.6" ry="3.7" fill="#2d200f" transform="rotate(1 26.2 139.5)"/>
<ellipse cx="33.8" cy="137.7" rx="2.2" ry="2.4" fill="#2d200f" transform="rotate(106 33.8 137.7)"/>
<ellipse cx="44.0" cy="137.2" rx="3.0" ry="2.5" fill="#3a1c0e" transform="rotate(71 44.0 137.2)"/>
<ellipse cx="49.4" cy="136.7" rx="2.3" ry="2.5" fill="#37963a" transform="rotate(44 49.4 136.7)"/>
<ellipse cx="62.6" cy="138.6" rx="3.6" ry="4.0" fill="#2d6428" transform="rotate(103 62.6 138.6)"/>
<ellipse cx="64.1" cy="138.6" rx="2.9" ry="2.8" fill="#962016" transform="rotate(100 64.1 138.6)"/>
<ellipse cx="71.1" cy="140.2" rx="2.2" ry="2.6" fill="#781e12" transform="rotate(133 71.1 140.2)"/>
<ellipse cx="75.7" cy="138.7" rx="3.1" ry="3.8" fill="#d72820" transform="rotate(9 75.7 138.7)"/>
<ellipse cx="82.9" cy="139.9" rx="3.1" ry="3.0" fill="#3a1c0e" transform="rotate(67 82.9 139.9)"/>
<ellipse cx="95.2" cy="137.3" rx="2.5" ry="2.9" fill="#eb2d26" transform="rotate(16 95.2 137.3)"/>
<ellipse cx="105.0" cy="139.8" rx="2.1" ry="1.8" fill="#d72820" transform="rotate(126 105.0 139.8)"/>
<ellipse cx="110.4" cy="137.3" rx="3.2" ry="2.9" fill="#286428" transform="rotate(44 110.4 137.3)"/>
<ellipse cx="122.2" cy="140.2" rx="2.0" ry="2.0" fill="#c8231e" transform="rotate(87 122.2 140.2)"/>
<ellipse cx="126.0" cy="140.2" rx="2.7" ry="3.3" fill="#eb2d26" transform="rotate(93 126.0 140.2)"/>
<ellipse cx="138.2" cy="139.1" rx="3.3" ry="2.6" fill="#d72820" transform="rotate(152 138.2 139.1)"/>
<ellipse cx="145.1" cy="137.0" rx="2.8" ry="3.1" fill="#eb2d26" transform="rotate(92 145.1 137.0)"/>
<ellipse cx="26.9" cy="142.9" rx="2.7" ry="3.3" fill="#2d200f" transform="rotate(172 26.9 142.9)"/>
<ellipse cx="40.0" cy="144.3" rx="3.3" ry="3.8" fill="#2d6428" transform="rotate(110 40.0 144.3)"/>
<ellipse cx="44.6" cy="145.1" rx="2.2" ry="2.5" fill="#962016" transform="rotate(178 44.6 145.1)"/>
<ellipse cx="51.2" cy="141.8" rx="2.3" ry="2.3" fill="#235f23" transform="rotate(74 51.2 141.8)"/>
<ellipse cx="62.0" cy="144.3" rx="3.5" ry="4.3" fill="#962016" transform="rotate(65 62.0 144.3)"/>
<ellipse cx="64.6" cy="143.1" rx="2.1" ry="2.0" fill="#3a1c0e" transform="rotate(2 64.6 143.1)"/>
<ellipse cx="77.3" cy="144.0" rx="3.3" ry="3.7" fill="#d72820" transform="rotate(55 77.3 144.0)"/>
<ellipse cx="87.7" cy="142.3" rx="2.5" ry="3.1" fill="#962016" transform="rotate(9 87.7 142.3)"/>
<ellipse cx="103.0" cy="141.6" rx="2.8" ry="3.4" fill="#781e12" transform="rotate(174 103.0 141.6)"/>
<ellipse cx="105.1" cy="145.1" rx="3.6" ry="3.4" fill="#d72820" transform="rotate(49 105.1 145.1)"/>
<ellipse cx="111.2" cy="143.0" rx="2.7" ry="2.3" fill="#286428" transform="rotate(93 111.2 143.0)"/>
<ellipse cx="115.3" cy="141.5" rx="3.2" ry="3.6" fill="#286428" transform="rotate(166 115.3 141.5)"/>
<ellipse cx="127.8" cy="142.9" rx="3.6" ry="4.2" fill="#c8231e" transform="rotate(100 127.8 142.9)"/>
<ellipse cx="129.9" cy="142.0" rx="3.1" ry="3.8" fill="#eb2d26" transform="rotate(35 129.9 142.0)"/>
<ellipse cx="142.9" cy="142.0" rx="2.4" ry="2.2" fill="#d72820" transform="rotate(1 142.9 142.0)"/>
<ellipse cx="149.7" cy="143.3" rx="3.1" ry="2.8" fill="#c8231e" transform="rotate(24 149.7 143.3)"/></g>
<filter id="f1_2" x="-20%" y="-20%" width="140%" height="140%"><feGaussianBlur stdDeviation="1.2"/></filter>
<g filter="url(#f1_2)"><ellipse cx="94.7" cy="105" rx="4" ry="3.8" fill="#73c846" opacity="1"/>
<ellipse cx="102.6" cy="99.5" rx="2.6" ry="4.5" fill="#6ec644" opacity="1" transform="rotate(20 102.6 99.5)"/>
<ellipse cx="117.9" cy="96.5" rx="4.5" ry="3.8" fill="#73c846" opacity="1"/>
<ellipse cx="123.2" cy="104.2" rx="6.5" ry="3" fill="#6ec644" opacity="1"/>
<ellipse cx="123.5" cy="117.5" rx="2.5" ry="4" fill="#3c8c32" opacity="1"/>
<ellipse cx="75" cy="33" rx="7.5" ry="3.5" fill="#4ec452" opacity="1" transform="rotate(-20 75 33)"/>
<ellipse cx="73" cy="79" rx="5" ry="4" fill="#4ec452" opacity="1"/>
<ellipse cx="125" cy="56" rx="4" ry="2.5" fill="#4ec452" opacity="1"/>
<ellipse cx="120.7" cy="36.9" rx="5" ry="5" fill="#de2a22" opacity="1"/>
<ellipse cx="122.6" cy="44.2" rx="4" ry="3" fill="#4ec452" opacity="1"/>
<ellipse cx="107" cy="34.5" rx="3.5" ry="3.5" fill="#34943a" opacity="1"/>
<ellipse cx="126" cy="29.5" rx="2.5" ry="2.5" fill="#34943a" opacity="1"/>
<ellipse cx="111" cy="60" rx="3" ry="2.5" fill="#4ec452" opacity="1"/>
<ellipse cx="44.5" cy="43.8" rx="3.2" ry="3" fill="#de2a22" opacity="1"/>
<ellipse cx="42" cy="134" rx="5" ry="4" fill="#4ec452" opacity="1"/>
<ellipse cx="74" cy="148" rx="5" ry="4" fill="#4ec452" opacity="1"/>
<ellipse cx="77.5" cy="120.5" rx="14.5" ry="17" fill="#e82c22" opacity="1"/>
<ellipse cx="70" cy="126" rx="4" ry="3" fill="#c3231c" opacity="1"/>
<ellipse cx="82" cy="116" rx="3.5" ry="3" fill="#c8261e" opacity="1"/>
<ellipse cx="76" cy="131" rx="4" ry="3" fill="#d2281e" opacity="1"/>
<ellipse cx="82" cy="103.5" rx="4.5" ry="3.5" fill="#afbe37" opacity="1"/>
<ellipse cx="26" cy="95" rx="4" ry="7" fill="#de2a22" opacity="1"/>
<ellipse cx="26" cy="64" rx="3" ry="5" fill="#34943a" opacity="1"/>
<ellipse cx="28" cy="122" rx="4" ry="6" fill="#265822" opacity="1"/></g>
</g>
<text x="27.2" y="25.2" font-family="Liberation Sans, sans-serif" font-size="7.9" fill="#fff">12 min</text>
<rect x="102.6" y="21.3" width="36.80000000000001" height="36.900000000000006" fill="none" stroke="#fff" stroke-width="1.1" stroke-dasharray="1.5 1.2"/>
<rect x="87.9" y="88.7" width="43.900000000000006" height="36.89999999999999" fill="none" stroke="#fff" stroke-width="1.1" stroke-dasharray="1.5 1.2"/>
<text x="104.6" y="30" font-family="Liberation Sans, sans-serif" font-size="6.8" fill="#fff">A'</text>
<text x="90.6" y="98.5" font-family="Liberation Sans, sans-serif" font-size="6.8" fill="#fff">A''</text>
<text x="143.8" y="36.3" font-family="Liberation Sans, sans-serif" font-size="7.6" font-weight="bold" fill="#fff">N1</text>
<text x="89.2" y="51.2" font-family="Liberation Sans, sans-serif" font-size="7.6" font-weight="bold" fill="#fff">N2</text>
<line x1="152.3" y1="24.4" x2="136.25" y2="27.76" stroke="#f2b214" stroke-width="1.9"/><polygon points="129.4,29.2 136.04,24.33 137.44,30.99" fill="#f2b214"/>
<line x1="103.2" y1="40.6" x2="107.06" y2="45.29" stroke="#f2b214" stroke-width="1.9"/><polygon points="111.2,50.3 104.12,47.06 109.37,42.74" fill="#f2b214"/>
<line x1="95.4" y1="124" x2="95.03" y2="114.30" stroke="#fff" stroke-width="1.8"/><polygon points="94.8,108.3 98.30,114.67 91.80,114.92" fill="#fff"/>
<line x1="123.3" y1="80" x2="121.33" y2="84.22" stroke="#fff" stroke-width="1.7"/><polygon points="119,89.2 118.82,82.49 124.26,85.03" fill="#fff"/>
<line x1="138.2" y1="118.2" x2="133.08" y2="114.06" stroke="#fff" stroke-width="1.7"/><polygon points="128.8,110.6 135.35,112.04 131.58,116.71" fill="#fff"/>
<text x="98.8" y="125" font-family="Liberation Sans, sans-serif" font-size="7.6" font-weight="bold" fill="#fff">E1</text>
<text x="128.3" y="85.3" font-family="Liberation Sans, sans-serif" font-size="7.6" font-weight="bold" fill="#fff">E2</text>
<text x="138" y="111.8" font-family="Liberation Sans, sans-serif" font-size="7.6" font-weight="bold" fill="#fff">E3</text>
<line x1="32.8" y1="138.4" x2="52.8" y2="138.4" stroke="#fff" stroke-width="1.5"/>
<clipPath id="c2"><rect x="160" y="15" width="132" height="131"/></clipPath>
<g clip-path="url(#c2)">
<rect x="160" y="15" width="132" height="131" fill="#402a12"/>
<filter id="f2_0" x="-20%" y="-20%" width="140%" height="140%"><feGaussianBlur stdDeviation="3.2"/></filter>
<g filter="url(#f2_0)"><rect x="159.50" y="14.50" width="12.00" height="11.92" fill="#851914"/>
<rect x="170.50" y="14.50" width="12.00" height="11.92" fill="#433410"/>
<rect x="181.50" y="14.50" width="12.00" height="11.92" fill="#851914"/>
<rect x="192.50" y="14.50" width="12.00" height="11.92" fill="#64150f"/>
<rect x="203.50" y="14.50" width="12.00" height="11.92" fill="#851914"/>
<rect x="214.50" y="14.50" width="12.00" height="11.92" fill="#851914"/>
<rect x="225.50" y="14.50" width="12.00" height="11.92" fill="#64150f"/>
<rect x="236.50" y="14.50" width="12.00" height="11.92" fill="#163414"/>
<rect x="247.50" y="14.50" width="12.00" height="11.92" fill="#163414"/>
<rect x="258.50" y="14.50" width="12.00" height="11.92" fill="#1f5822"/>
<rect x="269.50" y="14.50" width="12.00" height="11.92" fill="#1f5822"/>
<rect x="280.50" y="14.50" width="12.00" height="11.92" fill="#1f5822"/>
<rect x="159.50" y="25.42" width="12.00" height="11.92" fill="#64150f"/>
<rect x="170.50" y="25.42" width="12.00" height="11.92" fill="#1f5822"/>
<rect x="181.50" y="25.42" width="12.00" height="11.92" fill="#1f5822"/>
<rect x="192.50" y="25.42" width="12.00" height="11.92" fill="#1f5822"/>
<rect x="203.50" y="25.42" width="12.00" height="11.92" fill="#433410"/>
<rect x="214.50" y="25.42" width="12.00" height="11.92" fill="#433410"/>
<rect x="225.50" y="25.42" width="12.00" height="11.92" fill="#2e7531"/>
<rect x="236.50" y="25.42" width="12.00" height="11.92" fill="#163414"/>
<rect x="247.50" y="25.42" width="12.00" height="11.92" fill="#3c1009"/>
<rect x="258.50" y="25.42" width="12.00" height="11.92" fill="#2e7531"/>
<rect x="269.50" y="25.42" width="12.00" height="11.92" fill="#163414"/>
<rect x="280.50" y="25.42" width="12.00" height="11.92" fill="#1f5822"/>
<rect x="159.50" y="36.33" width="12.00" height="11.92" fill="#3c1009"/>
<rect x="170.50" y="36.33" width="12.00" height="11.92" fill="#163414"/>
<rect x="181.50" y="36.33" width="12.00" height="11.92" fill="#1f5822"/>
<rect x="192.50" y="36.33" width="12.00" height="11.92" fill="#64150f"/>
<rect x="203.50" y="36.33" width="12.00" height="11.92" fill="#1f5822"/>
<rect x="214.50" y="36.33" width="12.00" height="11.92" fill="#433410"/>
<rect x="225.50" y="36.33" width="12.00" height="11.92" fill="#3c1009"/>
<rect x="236.50" y="36.33" width="12.00" height="11.92" fill="#163414"/>
<rect x="247.50" y="36.33" width="12.00" height="11.92" fill="#64150f"/>
<rect x="258.50" y="36.33" width="12.00" height="11.92" fill="#3c1009"/>
<rect x="269.50" y="36.33" width="12.00" height="11.92" fill="#3c1009"/>
<rect x="280.50" y="36.33" width="12.00" height="11.92" fill="#163414"/>
<rect x="159.50" y="47.25" width="12.00" height="11.92" fill="#1f5822"/>
<rect x="170.50" y="47.25" width="12.00" height="11.92" fill="#163414"/>
<rect x="181.50" y="47.25" width="12.00" height="11.92" fill="#163414"/>
<rect x="192.50" y="47.25" width="12.00" height="11.92" fill="#2e7531"/>
<rect x="203.50" y="47.25" width="12.00" height="11.92" fill="#1f5822"/>
<rect x="214.50" y="47.25" width="12.00" height="11.92" fill="#1f5822"/>
<rect x="225.50" y="47.25" width="12.00" height="11.92" fill="#3c1009"/>
<rect x="236.50" y="47.25" width="12.00" height="11.92" fill="#163414"/>
<rect x="247.50" y="47.25" width="12.00" height="11.92" fill="#3c1009"/>
<rect x="258.50" y="47.25" width="12.00" height="11.92" fill="#3c1009"/>
<rect x="269.50" y="47.25" width="12.00" height="11.92" fill="#163414"/>
<rect x="280.50" y="47.25" width="12.00" height="11.92" fill="#163414"/>
<rect x="159.50" y="58.17" width="12.00" height="11.92" fill="#2e7531"/>
<rect x="170.50" y="58.17" width="12.00" height="11.92" fill="#64150f"/>
<rect x="181.50" y="58.17" width="12.00" height="11.92" fill="#3c1009"/>
<rect x="192.50" y="58.17" width="12.00" height="11.92" fill="#64150f"/>
<rect x="203.50" y="58.17" width="12.00" height="11.92" fill="#64150f"/>
<rect x="214.50" y="58.17" width="12.00" height="11.92" fill="#64150f"/>
<rect x="225.50" y="58.17" width="12.00" height="11.92" fill="#851914"/>
<rect x="236.50" y="58.17" width="12.00" height="11.92" fill="#3c1009"/>
<rect x="247.50" y="58.17" width="12.00" height="11.92" fill="#163414"/>
<rect x="258.50" y="58.17" width="12.00" height="11.92" fill="#163414"/>
<rect x="269.50" y="58.17" width="12.00" height="11.92" fill="#163414"/>
<rect x="280.50" y="58.17" width="12.00" height="11.92" fill="#1f5822"/>
<rect x="159.50" y="69.08" width="12.00" height="11.92" fill="#2e7531"/>
<rect x="170.50" y="69.08" width="12.00" height="11.92" fill="#163414"/>
<rect x="181.50" y="69.08" width="12.00" height="11.92" fill="#3c1009"/>
<rect x="192.50" y="69.08" width="12.00" height="11.92" fill="#1f5822"/>
<rect x="203.50" y="69.08" width="12.00" height="11.92" fill="#64150f"/>
<rect x="214.50" y="69.08" width="12.00" height="11.92" fill="#64150f"/>
<rect x="225.50" y="69.08" width="12.00" height="11.92" fill="#64150f"/>
<rect x="236.50" y="69.08" width="12.00" height="11.92" fill="#3c1009"/>
<rect x="247.50" y="69.08" width="12.00" height="11.92" fill="#163414"/>
<rect x="258.50" y="69.08" width="12.00" height="11.92" fill="#3c1009"/>
<rect x="269.50" y="69.08" width="12.00" height="11.92" fill="#3c1009"/>
<rect x="280.50" y="69.08" width="12.00" height="11.92" fill="#163414"/>
<rect x="159.50" y="80.00" width="12.00" height="11.92" fill="#851914"/>
<rect x="170.50" y="80.00" width="12.00" height="11.92" fill="#1f5822"/>
<rect x="181.50" y="80.00" width="12.00" height="11.92" fill="#163414"/>
<rect x="192.50" y="80.00" width="12.00" height="11.92" fill="#3c1009"/>
<rect x="203.50" y="80.00" width="12.00" height="11.92" fill="#2e7531"/>
<rect x="214.50" y="80.00" width="12.00" height="11.92" fill="#3c1009"/>
<rect x="225.50" y="80.00" width="12.00" height="11.92" fill="#64150f"/>
<rect x="236.50" y="80.00" width="12.00" height="11.92" fill="#1f5822"/>
<rect x="247.50" y="80.00" width="12.00" height="11.92" fill="#3c1009"/>
<rect x="258.50" y="80.00" width="12.00" height="11.92" fill="#3c1009"/>
<rect x="269.50" y="80.00" width="12.00" height="11.92" fill="#64150f"/>
<rect x="280.50" y="80.00" width="12.00" height="11.92" fill="#3c1009"/>
<rect x="159.50" y="90.92" width="12.00" height="11.92" fill="#851914"/>
<rect x="170.50" y="90.92" width="12.00" height="11.92" fill="#163414"/>
<rect x="181.50" y="90.92" width="12.00" height="11.92" fill="#3c1009"/>
<rect x="192.50" y="90.92" width="12.00" height="11.92" fill="#3c1009"/>
<rect x="203.50" y="90.92" width="12.00" height="11.92" fill="#64150f"/>
<rect x="214.50" y="90.92" width="12.00" height="11.92" fill="#756419"/>
<rect x="225.50" y="90.92" width="12.00" height="11.92" fill="#1f5822"/>
<rect x="236.50" y="90.92" width="12.00" height="11.92" fill="#64150f"/>
<rect x="247.50" y="90.92" width="12.00" height="11.92" fill="#2e7531"/>
<rect x="258.50" y="90.92" width="12.00" height="11.92" fill="#3c1009"/>
<rect x="269.50" y="90.92" width="12.00" height="11.92" fill="#3c1009"/>
<rect x="280.50" y="90.92" width="12.00" height="11.92" fill="#3c1009"/>
<rect x="159.50" y="101.83" width="12.00" height="11.92" fill="#1f5822"/>
<rect x="170.50" y="101.83" width="12.00" height="11.92" fill="#163414"/>
<rect x="181.50" y="101.83" width="12.00" height="11.92" fill="#1f5822"/>
<rect x="192.50" y="101.83" width="12.00" height="11.92" fill="#1f5822"/>
<rect x="203.50" y="101.83" width="12.00" height="11.92" fill="#851914"/>
<rect x="214.50" y="101.83" width="12.00" height="11.92" fill="#851914"/>
<rect x="225.50" y="101.83" width="12.00" height="11.92" fill="#64150f"/>
<rect x="236.50" y="101.83" width="12.00" height="11.92" fill="#1f5822"/>
<rect x="247.50" y="101.83" width="12.00" height="11.92" fill="#163414"/>
<rect x="258.50" y="101.83" width="12.00" height="11.92" fill="#2e7531"/>
<rect x="269.50" y="101.83" width="12.00" height="11.92" fill="#3c1009"/>
<rect x="280.50" y="101.83" width="12.00" height="11.92" fill="#64150f"/>
<rect x="159.50" y="112.75" width="12.00" height="11.92" fill="#163414"/>
<rect x="170.50" y="112.75" width="12.00" height="11.92" fill="#1f5822"/>
<rect x="181.50" y="112.75" width="12.00" height="11.92" fill="#1f5822"/>
<rect x="192.50" y="112.75" width="12.00" height="11.92" fill="#163414"/>
<rect x="203.50" y="112.75" width="12.00" height="11.92" fill="#851914"/>
<rect x="214.50" y="112.75" width="12.00" height="11.92" fill="#851914"/>
<rect x="225.50" y="112.75" width="12.00" height="11.92" fill="#851914"/>
<rect x="236.50" y="112.75" width="12.00" height="11.92" fill="#3c1009"/>
<rect x="247.50" y="112.75" width="12.00" height="11.92" fill="#64150f"/>
<rect x="258.50" y="112.75" width="12.00" height="11.92" fill="#3c1009"/>
<rect x="269.50" y="112.75" width="12.00" height="11.92" fill="#3c1009"/>
<rect x="280.50" y="112.75" width="12.00" height="11.92" fill="#64150f"/>
<rect x="159.50" y="123.67" width="12.00" height="11.92" fill="#163414"/>
<rect x="170.50" y="123.67" width="12.00" height="11.92" fill="#64150f"/>
<rect x="181.50" y="123.67" width="12.00" height="11.92" fill="#163414"/>
<rect x="192.50" y="123.67" width="12.00" height="11.92" fill="#3c1009"/>
<rect x="203.50" y="123.67" width="12.00" height="11.92" fill="#851914"/>
<rect x="214.50" y="123.67" width="12.00" height="11.92" fill="#851914"/>
<rect x="225.50" y="123.67" width="12.00" height="11.92" fill="#851914"/>
<rect x="236.50" y="123.67" width="12.00" height="11.92" fill="#64150f"/>
<rect x="247.50" y="123.67" width="12.00" height="11.92" fill="#64150f"/>
<rect x="258.50" y="123.67" width="12.00" height="11.92" fill="#851914"/>
<rect x="269.50" y="123.67" width="12.00" height="11.92" fill="#64150f"/>
<rect x="280.50" y="123.67" width="12.00" height="11.92" fill="#64150f"/>
<rect x="159.50" y="134.58" width="12.00" height="11.92" fill="#163414"/>
<rect x="170.50" y="134.58" width="12.00" height="11.92" fill="#1f5822"/>
<rect x="181.50" y="134.58" width="12.00" height="11.92" fill="#3c1009"/>
<rect x="192.50" y="134.58" width="12.00" height="11.92" fill="#3c1009"/>
<rect x="203.50" y="134.58" width="12.00" height="11.92" fill="#64150f"/>
<rect x="214.50" y="134.58" width="12.00" height="11.92" fill="#851914"/>
<rect x="225.50" y="134.58" width="12.00" height="11.92" fill="#851914"/>
<rect x="236.50" y="134.58" width="12.00" height="11.92" fill="#1f5822"/>
<rect x="247.50" y="134.58" width="12.00" height="11.92" fill="#3c1009"/>
<rect x="258.50" y="134.58" width="12.00" height="11.92" fill="#851914"/>
<rect x="269.50" y="134.58" width="12.00" height="11.92" fill="#851914"/>
<rect x="280.50" y="134.58" width="12.00" height="11.92" fill="#64150f"/></g>
<filter id="f2_1" x="-20%" y="-20%" width="140%" height="140%"><feGaussianBlur stdDeviation="1.4"/></filter>
<g filter="url(#f2_1)"><ellipse cx="164.4" cy="15.7" rx="3.3" ry="3.7" fill="#eb2d26" transform="rotate(121 164.4 15.7)"/>
<ellipse cx="168.0" cy="17.9" rx="2.3" ry="2.2" fill="#eb2d26" transform="rotate(71 168.0 17.9)"/>
<ellipse cx="174.7" cy="19.3" rx="2.7" ry="2.4" fill="#3c9637" transform="rotate(6 174.7 19.3)"/>
<ellipse cx="182.1" cy="17.0" rx="2.8" ry="2.9" fill="#c8231e" transform="rotate(43 182.1 17.0)"/>
<ellipse cx="191.5" cy="17.6" rx="3.1" ry="2.6" fill="#c8231e" transform="rotate(161 191.5 17.6)"/>
<ellipse cx="199.0" cy="19.2" rx="3.3" ry="3.0" fill="#781e12" transform="rotate(177 199.0 19.2)"/>
<ellipse cx="201.8" cy="18.5" rx="2.7" ry="2.8" fill="#781e12" transform="rotate(88 201.8 18.5)"/>
<ellipse cx="208.2" cy="18.9" rx="3.4" ry="4.1" fill="#eb2d26" transform="rotate(83 208.2 18.9)"/>
<ellipse cx="215.0" cy="18.4" rx="2.4" ry="2.1" fill="#eb2d26" transform="rotate(126 215.0 18.4)"/>
<ellipse cx="222.5" cy="19.2" rx="3.5" ry="3.9" fill="#eb2d26" transform="rotate(91 222.5 19.2)"/>
<ellipse cx="229.2" cy="17.9" rx="2.3" ry="2.3" fill="#d72820" transform="rotate(168 229.2 17.9)"/>
<ellipse cx="231.9" cy="18.8" rx="3.5" ry="2.9" fill="#781e12" transform="rotate(134 231.9 18.8)"/>
<ellipse cx="242.8" cy="16.4" rx="2.2" ry="2.2" fill="#781e14" transform="rotate(154 242.8 16.4)"/>
<ellipse cx="258.7" cy="18.4" rx="2.6" ry="2.2" fill="#286428" transform="rotate(121 258.7 18.4)"/>
<ellipse cx="267.2" cy="18.4" rx="2.4" ry="2.8" fill="#37963a" transform="rotate(28 267.2 18.4)"/>
<ellipse cx="278.8" cy="15.7" rx="2.2" ry="1.7" fill="#96261c" transform="rotate(62 278.8 15.7)"/>
<ellipse cx="285.4" cy="16.0" rx="2.0" ry="2.0" fill="#37963a" transform="rotate(138 285.4 16.0)"/>
<ellipse cx="291.1" cy="18.5" rx="3.1" ry="3.1" fill="#96261c" transform="rotate(41 291.1 18.5)"/>
<ellipse cx="161.8" cy="21.0" rx="3.4" ry="2.8" fill="#eb2d26" transform="rotate(105 161.8 21.0)"/>
<ellipse cx="167.7" cy="21.1" rx="2.4" ry="2.5" fill="#c8231e" transform="rotate(76 167.7 21.1)"/>
<ellipse cx="176.3" cy="20.8" rx="2.3" ry="1.8" fill="#b43c19" transform="rotate(114 176.3 20.8)"/>
<ellipse cx="184.8" cy="24.3" rx="2.4" ry="2.3" fill="#c8231e" transform="rotate(45 184.8 24.3)"/>
<ellipse cx="188.4" cy="23.8" rx="2.4" ry="2.3" fill="#c8231e" transform="rotate(95 188.4 23.8)"/>
<ellipse cx="201.6" cy="23.5" rx="2.2" ry="1.8" fill="#d72820" transform="rotate(42 201.6 23.5)"/>
<ellipse cx="213.2" cy="21.8" rx="2.3" ry="2.8" fill="#eb2d26" transform="rotate(173 213.2 21.8)"/>
<ellipse cx="218.1" cy="22.6" rx="2.1" ry="2.0" fill="#eb2d26" transform="rotate(95 218.1 22.6)"/>
<ellipse cx="233.1" cy="22.6" rx="3.0" ry="2.7" fill="#3c8c37" transform="rotate(177 233.1 22.6)"/>
<ellipse cx="236.7" cy="23.3" rx="2.5" ry="2.9" fill="#d72820" transform="rotate(121 236.7 23.3)"/>
<ellipse cx="248.5" cy="22.5" rx="2.9" ry="2.3" fill="#286428" transform="rotate(51 248.5 22.5)"/>
<ellipse cx="255.7" cy="20.9" rx="2.3" ry="2.4" fill="#1e3716" transform="rotate(71 255.7 20.9)"/>
<ellipse cx="260.0" cy="22.1" rx="2.2" ry="1.7" fill="#37963a" transform="rotate(153 260.0 22.1)"/>
<ellipse cx="265.9" cy="23.3" rx="3.1" ry="3.5" fill="#37963a" transform="rotate(130 265.9 23.3)"/>
<ellipse cx="268.6" cy="22.4" rx="2.4" ry="2.5" fill="#235f23" transform="rotate(86 268.6 22.4)"/>
<ellipse cx="275.5" cy="24.3" rx="2.5" ry="2.1" fill="#235f23" transform="rotate(88 275.5 24.3)"/>
<ellipse cx="285.1" cy="24.2" rx="3.3" ry="2.6" fill="#235f23" transform="rotate(64 285.1 24.2)"/>
<ellipse cx="288.0" cy="22.2" rx="2.1" ry="2.6" fill="#37963a" transform="rotate(178 288.0 22.2)"/>
<ellipse cx="161.0" cy="26.8" rx="3.1" ry="3.4" fill="#d72820" transform="rotate(79 161.0 26.8)"/>
<ellipse cx="166.0" cy="27.8" rx="3.2" ry="2.6" fill="#3c8c37" transform="rotate(93 166.0 27.8)"/>
<ellipse cx="171.7" cy="29.2" rx="3.1" ry="3.0" fill="#37963a" transform="rotate(179 171.7 29.2)"/>
<ellipse cx="178.1" cy="26.2" rx="2.0" ry="2.1" fill="#37963a" transform="rotate(159 178.1 26.2)"/>
<ellipse cx="187.9" cy="27.2" rx="3.5" ry="3.9" fill="#235f23" transform="rotate(85 187.9 27.2)"/>
<ellipse cx="192.3" cy="28.6" rx="3.2" ry="3.8" fill="#235f23" transform="rotate(40 192.3 28.6)"/>
<ellipse cx="197.7" cy="28.3" rx="3.0" ry="2.3" fill="#96261c" transform="rotate(84 197.7 28.3)"/>
<ellipse cx="204.7" cy="28.2" rx="2.0" ry="2.5" fill="#a08223" transform="rotate(131 204.7 28.2)"/>
<ellipse cx="209.9" cy="29.1" rx="3.3" ry="3.7" fill="#b43c19" transform="rotate(36 209.9 29.1)"/>
<ellipse cx="213.7" cy="26.4" rx="2.2" ry="2.3" fill="#a08223" transform="rotate(78 213.7 26.4)"/>
<ellipse cx="223.3" cy="26.4" rx="2.1" ry="1.6" fill="#a08223" transform="rotate(87 223.3 26.4)"/>
<ellipse cx="229.2" cy="28.6" rx="3.1" ry="2.8" fill="#50c350" transform="rotate(48 229.2 28.6)"/>
<ellipse cx="231.7" cy="25.9" rx="2.3" ry="2.6" fill="#781e12" transform="rotate(141 231.7 25.9)"/>
<ellipse cx="239.4" cy="28.8" rx="2.2" ry="1.8" fill="#781e14" transform="rotate(69 239.4 28.8)"/>
<ellipse cx="242.9" cy="25.6" rx="3.5" ry="3.3" fill="#1e3716" transform="rotate(97 242.9 25.6)"/>
<ellipse cx="248.6" cy="29.1" rx="3.0" ry="3.0" fill="#962016" transform="rotate(97 248.6 29.1)"/>
<ellipse cx="252.2" cy="28.9" rx="3.0" ry="3.5" fill="#962016" transform="rotate(118 252.2 28.9)"/>
<ellipse cx="260.4" cy="26.0" rx="2.6" ry="2.7" fill="#379637" transform="rotate(153 260.4 26.0)"/>
<ellipse cx="264.6" cy="26.8" rx="2.7" ry="2.4" fill="#50c350" transform="rotate(50 264.6 26.8)"/>
<ellipse cx="267.6" cy="28.9" rx="2.6" ry="2.3" fill="#50c350" transform="rotate(14 267.6 28.9)"/>
<ellipse cx="272.9" cy="27.4" rx="3.4" ry="4.2" fill="#286428" transform="rotate(80 272.9 27.4)"/>
<ellipse cx="281.1" cy="26.9" rx="2.4" ry="2.0" fill="#37963a" transform="rotate(122 281.1 26.9)"/>
<ellipse cx="283.8" cy="28.8" rx="3.3" ry="3.5" fill="#37963a" transform="rotate(72 283.8 28.8)"/>
<ellipse cx="288.8" cy="29.1" rx="2.8" ry="3.1" fill="#96261c" transform="rotate(171 288.8 29.1)"/>
<ellipse cx="163.6" cy="34.1" rx="3.2" ry="4.0" fill="#3c8c37" transform="rotate(52 163.6 34.1)"/>
<ellipse cx="168.3" cy="32.1" rx="2.3" ry="2.8" fill="#d72820" transform="rotate(64 168.3 32.1)"/>
<ellipse cx="174.3" cy="31.4" rx="2.2" ry="1.7" fill="#96261c" transform="rotate(63 174.3 31.4)"/>
<ellipse cx="179.5" cy="34.2" rx="2.7" ry="2.8" fill="#235f23" transform="rotate(43 179.5 34.2)"/>
<ellipse cx="182.4" cy="31.8" rx="2.2" ry="2.0" fill="#235f23" transform="rotate(167 182.4 31.8)"/>
<ellipse cx="207.2" cy="32.0" rx="2.4" ry="2.5" fill="#b43c19" transform="rotate(61 207.2 32.0)"/>
<ellipse cx="214.4" cy="30.9" rx="3.4" ry="3.2" fill="#b43c19" transform="rotate(140 214.4 30.9)"/>
<ellipse cx="224.9" cy="32.0" rx="3.0" ry="2.8" fill="#a08223" transform="rotate(180 224.9 32.0)"/>
<ellipse cx="228.4" cy="33.1" rx="3.3" ry="3.5" fill="#50c350" transform="rotate(106 228.4 33.1)"/>
<ellipse cx="235.6" cy="34.6" rx="2.7" ry="2.6" fill="#379637" transform="rotate(94 235.6 34.6)"/>
<ellipse cx="247.3" cy="34.4" rx="3.5" ry="2.7" fill="#1e3716" transform="rotate(55 247.3 34.4)"/>
<ellipse cx="251.9" cy="31.0" rx="2.3" ry="1.9" fill="#3a1c0e" transform="rotate(121 251.9 31.0)"/>
<ellipse cx="264.7" cy="30.8" rx="2.4" ry="2.4" fill="#379637" transform="rotate(101 264.7 30.8)"/>
<ellipse cx="272.4" cy="31.4" rx="3.3" ry="3.4" fill="#781e14" transform="rotate(123 272.4 31.4)"/>
<ellipse cx="277.8" cy="32.6" rx="2.2" ry="1.8" fill="#286428" transform="rotate(38 277.8 32.6)"/>
<ellipse cx="163.0" cy="39.1" rx="3.1" ry="3.2" fill="#2d6428" transform="rotate(165 163.0 39.1)"/>
<ellipse cx="178.3" cy="36.5" rx="2.5" ry="2.4" fill="#37963a" transform="rotate(77 178.3 36.5)"/>
<ellipse cx="184.1" cy="38.9" rx="2.8" ry="2.5" fill="#235f23" transform="rotate(138 184.1 38.9)"/>
<ellipse cx="186.8" cy="38.5" rx="3.1" ry="2.3" fill="#235f23" transform="rotate(99 186.8 38.5)"/>
<ellipse cx="203.7" cy="38.2" rx="3.1" ry="3.1" fill="#781e12" transform="rotate(9 203.7 38.2)"/>
<ellipse cx="209.5" cy="39.0" rx="2.1" ry="1.7" fill="#235f23" transform="rotate(20 209.5 39.0)"/>
<ellipse cx="213.5" cy="36.4" rx="3.6" ry="4.3" fill="#a08223" transform="rotate(83 213.5 36.4)"/>
<ellipse cx="229.4" cy="36.8" rx="2.9" ry="2.8" fill="#379637" transform="rotate(75 229.4 36.8)"/>
<ellipse cx="233.4" cy="38.3" rx="3.1" ry="2.8" fill="#962016" transform="rotate(164 233.4 38.3)"/>
<ellipse cx="243.9" cy="37.2" rx="3.5" ry="3.0" fill="#1e3716" transform="rotate(139 243.9 37.2)"/>
<ellipse cx="250.0" cy="37.5" rx="2.6" ry="2.5" fill="#d72820" transform="rotate(46 250.0 37.5)"/>
<ellipse cx="257.7" cy="37.5" rx="2.5" ry="2.1" fill="#781e12" transform="rotate(109 257.7 37.5)"/>
<ellipse cx="262.9" cy="38.1" rx="3.4" ry="3.7" fill="#3a1c0e" transform="rotate(55 262.9 38.1)"/>
<ellipse cx="273.4" cy="35.7" rx="2.3" ry="2.1" fill="#781e14" transform="rotate(57 273.4 35.7)"/>
<ellipse cx="283.7" cy="37.4" rx="3.3" ry="2.5" fill="#1e3716" transform="rotate(104 283.7 37.4)"/>
<ellipse cx="167.1" cy="41.0" rx="3.5" ry="3.7" fill="#3a1c0e" transform="rotate(89 167.1 41.0)"/>
<ellipse cx="174.4" cy="41.3" rx="3.5" ry="4.3" fill="#286428" transform="rotate(37 174.4 41.3)"/>
<ellipse cx="179.3" cy="43.1" rx="2.8" ry="2.5" fill="#1e3716" transform="rotate(38 179.3 43.1)"/>
<ellipse cx="186.5" cy="43.2" rx="2.7" ry="3.3" fill="#37963a" transform="rotate(71 186.5 43.2)"/>
<ellipse cx="192.5" cy="41.6" rx="2.9" ry="3.3" fill="#37963a" transform="rotate(16 192.5 41.6)"/>
<ellipse cx="198.8" cy="40.9" rx="2.6" ry="2.7" fill="#781e12" transform="rotate(18 198.8 40.9)"/>
<ellipse cx="203.2" cy="43.9" rx="3.1" ry="3.5" fill="#781e12" transform="rotate(40 203.2 43.9)"/>
<ellipse cx="211.8" cy="41.3" rx="2.9" ry="3.0" fill="#37963a" transform="rotate(116 211.8 41.3)"/>
<ellipse cx="216.8" cy="42.9" rx="3.1" ry="3.0" fill="#b43c19" transform="rotate(25 216.8 42.9)"/>
<ellipse cx="224.1" cy="42.6" rx="2.6" ry="2.4" fill="#a08223" transform="rotate(166 224.1 42.6)"/>
<ellipse cx="226.9" cy="43.9" rx="3.5" ry="3.8" fill="#3a1c0e" transform="rotate(145 226.9 43.9)"/>
<ellipse cx="233.7" cy="44.6" rx="2.5" ry="3.0" fill="#962016" transform="rotate(1 233.7 44.6)"/>
<ellipse cx="240.7" cy="43.6" rx="2.1" ry="2.2" fill="#781e14" transform="rotate(110 240.7 43.6)"/>
<ellipse cx="243.4" cy="43.9" rx="2.1" ry="2.2" fill="#286428" transform="rotate(174 243.4 43.9)"/>
<ellipse cx="249.5" cy="41.9" rx="2.1" ry="1.8" fill="#3c8c37" transform="rotate(142 249.5 41.9)"/>
<ellipse cx="253.5" cy="44.4" rx="3.0" ry="2.3" fill="#d72820" transform="rotate(42 253.5 44.4)"/>
<ellipse cx="269.2" cy="41.8" rx="2.1" ry="2.1" fill="#3a1c0e" transform="rotate(95 269.2 41.8)"/>
<ellipse cx="275.9" cy="41.2" rx="2.7" ry="2.6" fill="#3a1c0e" transform="rotate(175 275.9 41.2)"/>
<ellipse cx="279.4" cy="42.5" rx="3.5" ry="4.0" fill="#3a1c0e" transform="rotate(117 279.4 42.5)"/>
<ellipse cx="287.9" cy="42.1" rx="3.1" ry="3.9" fill="#286428" transform="rotate(115 287.9 42.1)"/>
<ellipse cx="161.5" cy="47.5" rx="2.7" ry="2.4" fill="#3a1c0e" transform="rotate(39 161.5 47.5)"/>
<ellipse cx="169.5" cy="49.0" rx="2.0" ry="1.8" fill="#235f23" transform="rotate(151 169.5 49.0)"/>
<ellipse cx="172.9" cy="48.0" rx="2.4" ry="2.6" fill="#1e3716" transform="rotate(66 172.9 48.0)"/>
<ellipse cx="177.6" cy="48.4" rx="2.9" ry="2.8" fill="#1e3716" transform="rotate(171 177.6 48.4)"/>
<ellipse cx="182.5" cy="47.8" rx="3.2" ry="3.4" fill="#781e14" transform="rotate(173 182.5 47.8)"/>
<ellipse cx="193.5" cy="47.6" rx="3.5" ry="3.4" fill="#3c8c37" transform="rotate(111 193.5 47.6)"/>
<ellipse cx="198.9" cy="47.2" rx="2.6" ry="2.1" fill="#781e12" transform="rotate(120 198.9 47.2)"/>
<ellipse cx="202.8" cy="47.7" rx="3.3" ry="3.1" fill="#3c8c37" transform="rotate(164 202.8 47.7)"/>
<ellipse cx="207.8" cy="48.3" rx="3.4" ry="3.7" fill="#235f23" transform="rotate(120 207.8 48.3)"/>
<ellipse cx="211.4" cy="47.6" rx="3.5" ry="3.3" fill="#37963a" transform="rotate(109 211.4 47.6)"/>
<ellipse cx="217.1" cy="49.1" rx="2.1" ry="2.2" fill="#37963a" transform="rotate(72 217.1 49.1)"/>
<ellipse cx="223.2" cy="46.1" rx="2.0" ry="2.0" fill="#b43c19" transform="rotate(129 223.2 46.1)"/>
<ellipse cx="233.5" cy="49.4" rx="3.4" ry="3.6" fill="#2d6428" transform="rotate(104 233.5 49.4)"/>
<ellipse cx="242.4" cy="47.0" rx="2.9" ry="3.2" fill="#1e3716" transform="rotate(84 242.4 47.0)"/>
<ellipse cx="254.2" cy="46.7" rx="3.6" ry="3.0" fill="#3c8c37" transform="rotate(44 254.2 46.7)"/>
<ellipse cx="259.9" cy="46.6" rx="2.4" ry="2.8" fill="#3a1c0e" transform="rotate(106 259.9 46.6)"/>
<ellipse cx="262.7" cy="47.4" rx="2.6" ry="2.2" fill="#3a1c0e" transform="rotate(36 262.7 47.4)"/>
<ellipse cx="270.9" cy="49.1" rx="3.3" ry="2.7" fill="#1e3716" transform="rotate(38 270.9 49.1)"/>
<ellipse cx="272.2" cy="46.1" rx="2.3" ry="2.0" fill="#3a1c0e" transform="rotate(71 272.2 46.1)"/>
<ellipse cx="277.3" cy="49.3" rx="2.9" ry="2.9" fill="#286428" transform="rotate(22 277.3 49.3)"/>
<ellipse cx="283.1" cy="49.0" rx="2.7" ry="3.4" fill="#781e14" transform="rotate(11 283.1 49.0)"/>
<ellipse cx="160.8" cy="54.0" rx="3.3" ry="2.9" fill="#235f23" transform="rotate(5 160.8 54.0)"/>
<ellipse cx="166.4" cy="52.5" rx="2.9" ry="2.9" fill="#37963a" transform="rotate(36 166.4 52.5)"/>
<ellipse cx="178.9" cy="51.4" rx="3.0" ry="3.2" fill="#286428" transform="rotate(145 178.9 51.4)"/>
<ellipse cx="184.3" cy="51.4" rx="2.0" ry="1.7" fill="#781e14" transform="rotate(19 184.3 51.4)"/>
<ellipse cx="187.9" cy="54.5" rx="3.5" ry="3.7" fill="#781e14" transform="rotate(63 187.9 54.5)"/>
<ellipse cx="193.9" cy="51.6" rx="2.0" ry="1.5" fill="#50c350" transform="rotate(115 193.9 51.6)"/>
<ellipse cx="199.5" cy="53.8" rx="3.2" ry="3.9" fill="#50c350" transform="rotate(122 199.5 53.8)"/>
<ellipse cx="202.3" cy="51.0" rx="3.5" ry="2.9" fill="#379637" transform="rotate(148 202.3 51.0)"/>
<ellipse cx="207.6" cy="54.2" rx="2.5" ry="2.6" fill="#37963a" transform="rotate(158 207.6 54.2)"/>
<ellipse cx="211.6" cy="54.5" rx="3.2" ry="2.8" fill="#235f23" transform="rotate(60 211.6 54.5)"/>
<ellipse cx="228.2" cy="53.4" rx="2.5" ry="3.1" fill="#3a1c0e" transform="rotate(118 228.2 53.4)"/>
<ellipse cx="232.3" cy="54.6" rx="2.1" ry="2.3" fill="#3a1c0e" transform="rotate(68 232.3 54.6)"/>
<ellipse cx="239.8" cy="51.7" rx="2.9" ry="3.4" fill="#286428" transform="rotate(15 239.8 51.7)"/>
<ellipse cx="244.7" cy="51.5" rx="3.0" ry="3.3" fill="#1e3716" transform="rotate(97 244.7 51.5)"/>
<ellipse cx="248.9" cy="51.7" rx="2.6" ry="2.1" fill="#3a1c0e" transform="rotate(42 248.9 51.7)"/>
<ellipse cx="253.5" cy="53.0" rx="2.4" ry="2.5" fill="#3a1c0e" transform="rotate(61 253.5 53.0)"/>
<ellipse cx="270.9" cy="54.1" rx="2.2" ry="1.8" fill="#286428" transform="rotate(54 270.9 54.1)"/>
<ellipse cx="272.2" cy="52.5" rx="3.3" ry="2.8" fill="#1e3716" transform="rotate(0 272.2 52.5)"/>
<ellipse cx="278.8" cy="52.0" rx="2.4" ry="2.1" fill="#286428" transform="rotate(46 278.8 52.0)"/>
<ellipse cx="290.7" cy="52.0" rx="2.8" ry="3.2" fill="#1e3716" transform="rotate(138 290.7 52.0)"/>
<ellipse cx="161.2" cy="59.1" rx="2.9" ry="3.0" fill="#50c350" transform="rotate(103 161.2 59.1)"/>
<ellipse cx="165.9" cy="55.8" rx="3.4" ry="3.4" fill="#96261c" transform="rotate(16 165.9 55.8)"/>
<ellipse cx="172.7" cy="57.7" rx="2.3" ry="1.9" fill="#1e3716" transform="rotate(147 172.7 57.7)"/>
<ellipse cx="179.7" cy="57.6" rx="3.4" ry="3.4" fill="#781e14" transform="rotate(161 179.7 57.6)"/>
<ellipse cx="191.5" cy="57.9" rx="3.1" ry="2.7" fill="#1e3716" transform="rotate(142 191.5 57.9)"/>
<ellipse cx="204.8" cy="58.0" rx="3.6" ry="4.0" fill="#37963a" transform="rotate(142 204.8 58.0)"/>
<ellipse cx="210.0" cy="58.1" rx="2.8" ry="2.5" fill="#235f23" transform="rotate(50 210.0 58.1)"/>
<ellipse cx="223.1" cy="59.5" rx="3.3" ry="2.8" fill="#d72820" transform="rotate(58 223.1 59.5)"/>
<ellipse cx="234.2" cy="57.7" rx="2.1" ry="1.9" fill="#962016" transform="rotate(175 234.2 57.7)"/>
<ellipse cx="239.4" cy="59.4" rx="2.5" ry="2.4" fill="#962016" transform="rotate(41 239.4 59.4)"/>
<ellipse cx="244.5" cy="56.4" rx="2.5" ry="2.7" fill="#1e3716" transform="rotate(31 244.5 56.4)"/>
<ellipse cx="248.5" cy="59.2" rx="2.9" ry="2.2" fill="#781e14" transform="rotate(66 248.5 59.2)"/>
<ellipse cx="254.5" cy="58.9" rx="3.5" ry="4.2" fill="#1e3716" transform="rotate(110 254.5 58.9)"/>
<ellipse cx="257.4" cy="55.8" rx="3.2" ry="3.7" fill="#962016" transform="rotate(139 257.4 55.8)"/>
<ellipse cx="262.2" cy="55.9" rx="2.0" ry="2.1" fill="#962016" transform="rotate(167 262.2 55.9)"/>
<ellipse cx="267.6" cy="58.5" rx="3.1" ry="2.9" fill="#3a1c0e" transform="rotate(43 267.6 58.5)"/>
<ellipse cx="275.9" cy="58.7" rx="2.1" ry="1.8" fill="#1e3716" transform="rotate(43 275.9 58.7)"/>
<ellipse cx="290.2" cy="56.5" rx="2.0" ry="2.5" fill="#781e14" transform="rotate(105 290.2 56.5)"/>
<ellipse cx="161.7" cy="63.6" rx="2.3" ry="1.9" fill="#379637" transform="rotate(142 161.7 63.6)"/>
<ellipse cx="176.5" cy="61.7" rx="2.1" ry="2.5" fill="#d72820" transform="rotate(102 176.5 61.7)"/>
<ellipse cx="182.0" cy="64.0" rx="3.6" ry="2.8" fill="#2d6428" transform="rotate(56 182.0 64.0)"/>
<ellipse cx="193.6" cy="63.3" rx="3.5" ry="3.8" fill="#d72820" transform="rotate(179 193.6 63.3)"/>
<ellipse cx="198.7" cy="61.2" rx="3.0" ry="2.6" fill="#d72820" transform="rotate(112 198.7 61.2)"/>
<ellipse cx="208.7" cy="62.8" rx="2.3" ry="2.2" fill="#d72820" transform="rotate(117 208.7 62.8)"/>
<ellipse cx="212.1" cy="62.2" rx="2.2" ry="2.3" fill="#d72820" transform="rotate(85 212.1 62.2)"/>
<ellipse cx="216.4" cy="64.5" rx="2.2" ry="2.0" fill="#d72820" transform="rotate(142 216.4 64.5)"/>
<ellipse cx="224.5" cy="61.7" rx="2.1" ry="1.7" fill="#3c8c37" transform="rotate(20 224.5 61.7)"/>
<ellipse cx="228.9" cy="63.4" rx="3.2" ry="3.6" fill="#c8231e" transform="rotate(31 228.9 63.4)"/>
<ellipse cx="235.3" cy="64.2" rx="3.1" ry="3.2" fill="#eb2d26" transform="rotate(97 235.3 64.2)"/>
<ellipse cx="245.0" cy="64.0" rx="3.2" ry="2.5" fill="#962016" transform="rotate(123 245.0 64.0)"/>
<ellipse cx="266.0" cy="62.7" rx="2.9" ry="3.4" fill="#1e3716" transform="rotate(175 266.0 62.7)"/>
<ellipse cx="268.5" cy="61.1" rx="2.4" ry="2.8" fill="#781e14" transform="rotate(156 268.5 61.1)"/>
<ellipse cx="285.8" cy="64.3" rx="2.4" ry="2.6" fill="#96261c" transform="rotate(157 285.8 64.3)"/>
<ellipse cx="289.8" cy="61.8" rx="2.7" ry="2.7" fill="#96261c" transform="rotate(118 289.8 61.8)"/>
<ellipse cx="163.8" cy="67.7" rx="3.2" ry="3.4" fill="#50c350" transform="rotate(128 163.8 67.7)"/>
<ellipse cx="168.9" cy="67.5" rx="3.4" ry="2.6" fill="#379637" transform="rotate(119 168.9 67.5)"/>
<ellipse cx="172.3" cy="66.4" rx="3.2" ry="3.8" fill="#d72820" transform="rotate(178 172.3 66.4)"/>
<ellipse cx="179.3" cy="69.2" rx="3.1" ry="3.7" fill="#d72820" transform="rotate(135 179.3 69.2)"/>
<ellipse cx="187.5" cy="67.6" rx="3.1" ry="2.5" fill="#3a1c0e" transform="rotate(115 187.5 67.6)"/>
<ellipse cx="204.8" cy="66.9" rx="2.3" ry="2.3" fill="#781e12" transform="rotate(63 204.8 66.9)"/>
<ellipse cx="213.5" cy="69.3" rx="2.5" ry="1.9" fill="#d72820" transform="rotate(38 213.5 69.3)"/>
<ellipse cx="225.2" cy="66.8" rx="2.8" ry="2.8" fill="#d72820" transform="rotate(173 225.2 66.8)"/>
<ellipse cx="226.7" cy="67.5" rx="3.0" ry="3.1" fill="#eb2d26" transform="rotate(148 226.7 67.5)"/>
<ellipse cx="240.0" cy="66.6" rx="3.0" ry="2.5" fill="#962016" transform="rotate(98 240.0 66.6)"/>
<ellipse cx="255.1" cy="68.4" rx="3.0" ry="2.8" fill="#1e3716" transform="rotate(176 255.1 68.4)"/>
<ellipse cx="259.5" cy="66.2" rx="2.9" ry="3.6" fill="#286428" transform="rotate(127 259.5 66.2)"/>
<ellipse cx="268.0" cy="68.3" rx="2.1" ry="2.4" fill="#286428" transform="rotate(87 268.0 68.3)"/>
<ellipse cx="275.1" cy="68.3" rx="2.5" ry="2.6" fill="#1e3716" transform="rotate(44 275.1 68.3)"/>
<ellipse cx="283.7" cy="68.8" rx="2.7" ry="3.1" fill="#235f23" transform="rotate(59 283.7 68.8)"/>
<ellipse cx="163.6" cy="73.9" rx="2.7" ry="2.6" fill="#379637" transform="rotate(110 163.6 73.9)"/>
<ellipse cx="166.7" cy="74.0" rx="2.4" ry="1.8" fill="#379637" transform="rotate(29 166.7 74.0)"/>
<ellipse cx="171.5" cy="74.7" rx="3.4" ry="3.2" fill="#286428" transform="rotate(166 171.5 74.7)"/>
<ellipse cx="176.2" cy="73.6" rx="3.5" ry="4.1" fill="#286428" transform="rotate(46 176.2 73.6)"/>
<ellipse cx="183.1" cy="74.0" rx="2.9" ry="2.9" fill="#962016" transform="rotate(106 183.1 74.0)"/>
<ellipse cx="187.6" cy="72.5" rx="3.6" ry="3.6" fill="#3a1c0e" transform="rotate(19 187.6 72.5)"/>
<ellipse cx="194.1" cy="73.7" rx="2.7" ry="2.6" fill="#37963a" transform="rotate(152 194.1 73.7)"/>
<ellipse cx="204.4" cy="71.0" rx="2.9" ry="3.0" fill="#d72820" transform="rotate(160 204.4 71.0)"/>
<ellipse cx="211.3" cy="74.3" rx="2.0" ry="2.4" fill="#d72820" transform="rotate(175 211.3 74.3)"/>
<ellipse cx="219.5" cy="72.5" rx="3.1" ry="3.5" fill="#d72820" transform="rotate(48 219.5 72.5)"/>
<ellipse cx="222.5" cy="72.0" rx="2.0" ry="1.5" fill="#3c8c37" transform="rotate(33 222.5 72.0)"/>
<ellipse cx="228.8" cy="74.0" rx="3.4" ry="3.6" fill="#781e12" transform="rotate(4 228.8 74.0)"/>
<ellipse cx="237.1" cy="72.2" rx="3.6" ry="4.4" fill="#962016" transform="rotate(121 237.1 72.2)"/>
<ellipse cx="243.4" cy="71.2" rx="2.2" ry="2.3" fill="#3a1c0e" transform="rotate(147 243.4 71.2)"/>
<ellipse cx="249.7" cy="74.2" rx="2.7" ry="2.3" fill="#781e14" transform="rotate(160 249.7 74.2)"/>
<ellipse cx="253.0" cy="73.7" rx="3.6" ry="3.4" fill="#781e14" transform="rotate(48 253.0 73.7)"/>
<ellipse cx="274.8" cy="71.1" rx="2.3" ry="2.8" fill="#962016" transform="rotate(62 274.8 71.1)"/>
<ellipse cx="278.2" cy="71.7" rx="2.1" ry="2.1" fill="#2d6428" transform="rotate(95 278.2 71.7)"/>
<ellipse cx="285.4" cy="74.4" rx="2.5" ry="2.5" fill="#286428" transform="rotate(86 285.4 74.4)"/>
<ellipse cx="290.6" cy="72.3" rx="2.7" ry="2.1" fill="#781e14" transform="rotate(76 290.6 72.3)"/>
<ellipse cx="161.3" cy="79.5" rx="2.8" ry="2.5" fill="#50c350" transform="rotate(24 161.3 79.5)"/>
<ellipse cx="173.4" cy="78.7" rx="3.2" ry="3.6" fill="#286428" transform="rotate(123 173.4 78.7)"/>
<ellipse cx="179.2" cy="79.8" rx="2.7" ry="2.7" fill="#1e3716" transform="rotate(144 179.2 79.8)"/>
<ellipse cx="184.0" cy="77.2" rx="2.4" ry="2.5" fill="#3a1c0e" transform="rotate(3 184.0 77.2)"/>
<ellipse cx="188.8" cy="79.6" rx="3.4" ry="2.9" fill="#3a1c0e" transform="rotate(2 188.8 79.6)"/>
<ellipse cx="192.4" cy="77.6" rx="3.2" ry="3.8" fill="#3a1c0e" transform="rotate(58 192.4 77.6)"/>
<ellipse cx="198.6" cy="78.7" rx="2.7" ry="3.2" fill="#235f23" transform="rotate(4 198.6 78.7)"/>
<ellipse cx="201.8" cy="76.7" rx="2.7" ry="2.5" fill="#235f23" transform="rotate(14 201.8 76.7)"/>
<ellipse cx="222.2" cy="77.5" rx="3.1" ry="3.6" fill="#d72820" transform="rotate(114 222.2 77.5)"/>
<ellipse cx="238.1" cy="78.9" rx="3.1" ry="2.9" fill="#962016" transform="rotate(50 238.1 78.9)"/>
<ellipse cx="248.9" cy="78.2" rx="2.0" ry="2.1" fill="#1e3716" transform="rotate(59 248.9 78.2)"/>
<ellipse cx="258.0" cy="77.6" rx="2.2" ry="2.0" fill="#1e3716" transform="rotate(1 258.0 77.6)"/>
<ellipse cx="264.6" cy="80.0" rx="2.5" ry="3.1" fill="#2d6428" transform="rotate(19 264.6 80.0)"/>
<ellipse cx="275.0" cy="78.4" rx="2.7" ry="2.6" fill="#962016" transform="rotate(70 275.0 78.4)"/>
<ellipse cx="280.3" cy="76.3" rx="3.1" ry="3.6" fill="#3a1c0e" transform="rotate(119 280.3 76.3)"/>
<ellipse cx="285.4" cy="77.6" rx="3.0" ry="3.1" fill="#1e3716" transform="rotate(107 285.4 77.6)"/>
<ellipse cx="290.3" cy="77.8" rx="2.7" ry="3.0" fill="#1e3716" transform="rotate(165 290.3 77.8)"/>
<ellipse cx="161.1" cy="84.7" rx="2.3" ry="1.8" fill="#eb2d26" transform="rotate(75 161.1 84.7)"/>
<ellipse cx="168.9" cy="81.7" rx="3.2" ry="2.5" fill="#eb2d26" transform="rotate(74 168.9 81.7)"/>
<ellipse cx="177.0" cy="81.6" rx="2.3" ry="2.6" fill="#37963a" transform="rotate(21 177.0 81.6)"/>
<ellipse cx="199.1" cy="83.2" rx="2.1" ry="2.3" fill="#962016" transform="rotate(44 199.1 83.2)"/>
<ellipse cx="205.1" cy="82.0" rx="2.7" ry="2.7" fill="#379637" transform="rotate(73 205.1 82.0)"/>
<ellipse cx="208.3" cy="81.1" rx="2.4" ry="2.2" fill="#379637" transform="rotate(86 208.3 81.1)"/>
<ellipse cx="214.4" cy="81.5" rx="3.0" ry="2.9" fill="#50c350" transform="rotate(44 214.4 81.5)"/>
<ellipse cx="220.3" cy="83.6" rx="2.2" ry="2.2" fill="#3a1c0e" transform="rotate(141 220.3 83.6)"/>
<ellipse cx="223.2" cy="82.8" rx="3.0" ry="2.7" fill="#962016" transform="rotate(166 223.2 82.8)"/>
<ellipse cx="227.8" cy="81.3" rx="3.3" ry="3.2" fill="#d72820" transform="rotate(22 227.8 81.3)"/>
<ellipse cx="237.5" cy="84.7" rx="3.0" ry="2.8" fill="#37963a" transform="rotate(118 237.5 84.7)"/>
<ellipse cx="266.1" cy="81.0" rx="2.5" ry="2.0" fill="#2d6428" transform="rotate(6 266.1 81.0)"/>
<ellipse cx="267.5" cy="83.0" rx="2.3" ry="2.7" fill="#3a1c0e" transform="rotate(105 267.5 83.0)"/>
<ellipse cx="273.2" cy="83.9" rx="3.2" ry="2.7" fill="#781e12" transform="rotate(171 273.2 83.9)"/>
<ellipse cx="277.6" cy="84.7" rx="3.4" ry="2.9" fill="#d72820" transform="rotate(13 277.6 84.7)"/>
<ellipse cx="284.6" cy="83.7" rx="2.6" ry="2.9" fill="#3a1c0e" transform="rotate(93 284.6 83.7)"/>
<ellipse cx="161.9" cy="88.2" rx="2.4" ry="2.1" fill="#eb2d26" transform="rotate(119 161.9 88.2)"/>
<ellipse cx="172.3" cy="89.6" rx="2.8" ry="3.3" fill="#37963a" transform="rotate(73 172.3 89.6)"/>
<ellipse cx="176.8" cy="88.0" rx="2.5" ry="1.9" fill="#37963a" transform="rotate(140 176.8 88.0)"/>
<ellipse cx="184.2" cy="88.0" rx="3.1" ry="3.7" fill="#286428" transform="rotate(100 184.2 88.0)"/>
<ellipse cx="194.4" cy="89.3" rx="3.2" ry="2.4" fill="#3a1c0e" transform="rotate(25 194.4 89.3)"/>
<ellipse cx="203.1" cy="86.1" rx="2.9" ry="3.2" fill="#3a1c0e" transform="rotate(174 203.1 86.1)"/>
<ellipse cx="209.2" cy="88.6" rx="3.2" ry="3.7" fill="#50c350" transform="rotate(54 209.2 88.6)"/>
<ellipse cx="211.9" cy="88.2" rx="2.3" ry="2.8" fill="#379637" transform="rotate(87 211.9 88.2)"/>
<ellipse cx="217.0" cy="86.2" rx="3.0" ry="3.5" fill="#962016" transform="rotate(102 217.0 86.2)"/>
<ellipse cx="223.0" cy="88.1" rx="3.4" ry="3.1" fill="#3a1c0e" transform="rotate(121 223.0 88.1)"/>
<ellipse cx="227.5" cy="86.3" rx="3.0" ry="3.0" fill="#d72820" transform="rotate(81 227.5 86.3)"/>
<ellipse cx="233.4" cy="88.8" rx="3.5" ry="3.2" fill="#781e12" transform="rotate(80 233.4 88.8)"/>
<ellipse cx="237.9" cy="89.2" rx="2.2" ry="2.3" fill="#37963a" transform="rotate(101 237.9 89.2)"/>
<ellipse cx="242.8" cy="90.1" rx="3.1" ry="3.0" fill="#235f23" transform="rotate(99 242.8 90.1)"/>
<ellipse cx="259.7" cy="87.3" rx="2.9" ry="2.3" fill="#3a1c0e" transform="rotate(111 259.7 87.3)"/>
<ellipse cx="264.8" cy="87.9" rx="2.9" ry="3.0" fill="#962016" transform="rotate(126 264.8 87.9)"/>
<ellipse cx="268.2" cy="86.5" rx="2.9" ry="3.4" fill="#2d6428" transform="rotate(109 268.2 86.5)"/>
<ellipse cx="274.6" cy="89.0" rx="3.5" ry="4.0" fill="#781e12" transform="rotate(175 274.6 89.0)"/>
<ellipse cx="278.1" cy="86.9" rx="2.9" ry="3.2" fill="#d72820" transform="rotate(84 278.1 86.9)"/>
<ellipse cx="284.0" cy="86.1" rx="3.1" ry="2.7" fill="#3a1c0e" transform="rotate(134 284.0 86.1)"/>
<ellipse cx="162.3" cy="94.9" rx="3.2" ry="2.7" fill="#eb2d26" transform="rotate(159 162.3 94.9)"/>
<ellipse cx="166.2" cy="93.4" rx="3.4" ry="4.0" fill="#eb2d26" transform="rotate(164 166.2 93.4)"/>
<ellipse cx="172.2" cy="93.6" rx="2.2" ry="2.2" fill="#286428" transform="rotate(133 172.2 93.6)"/>
<ellipse cx="192.5" cy="94.7" rx="3.4" ry="3.8" fill="#3a1c0e" transform="rotate(126 192.5 94.7)"/>
<ellipse cx="196.9" cy="94.1" rx="3.0" ry="3.0" fill="#3a1c0e" transform="rotate(81 196.9 94.1)"/>
<ellipse cx="204.4" cy="91.9" rx="2.9" ry="2.2" fill="#3c8c37" transform="rotate(142 204.4 91.9)"/>
<ellipse cx="208.0" cy="92.8" rx="2.3" ry="2.4" fill="#d72820" transform="rotate(79 208.0 92.8)"/>
<ellipse cx="213.9" cy="91.9" rx="2.7" ry="2.6" fill="#781e12" transform="rotate(33 213.9 91.9)"/>
<ellipse cx="219.1" cy="94.2" rx="2.6" ry="2.6" fill="#5ab43c" transform="rotate(111 219.1 94.2)"/>
<ellipse cx="221.5" cy="94.0" rx="2.8" ry="3.3" fill="#5ab43c" transform="rotate(9 221.5 94.0)"/>
<ellipse cx="228.1" cy="93.7" rx="3.2" ry="2.7" fill="#37963a" transform="rotate(52 228.1 93.7)"/>
<ellipse cx="233.3" cy="92.8" rx="2.8" ry="2.9" fill="#96261c" transform="rotate(23 233.3 92.8)"/>
<ellipse cx="239.8" cy="93.9" rx="3.0" ry="2.8" fill="#3c8c37" transform="rotate(157 239.8 93.9)"/>
<ellipse cx="245.7" cy="91.5" rx="2.3" ry="2.0" fill="#781e12" transform="rotate(140 245.7 91.5)"/>
<ellipse cx="249.2" cy="92.4" rx="2.5" ry="2.2" fill="#50c350" transform="rotate(37 249.2 92.4)"/>
<ellipse cx="255.7" cy="91.8" rx="3.2" ry="3.6" fill="#379637" transform="rotate(46 255.7 91.8)"/>
<ellipse cx="260.3" cy="93.9" rx="2.1" ry="1.9" fill="#2d6428" transform="rotate(67 260.3 93.9)"/>
<ellipse cx="266.1" cy="95.0" rx="3.1" ry="3.5" fill="#3a1c0e" transform="rotate(153 266.1 95.0)"/>
<ellipse cx="276.2" cy="91.8" rx="2.6" ry="3.0" fill="#3a1c0e" transform="rotate(83 276.2 91.8)"/>
<ellipse cx="285.0" cy="93.3" rx="3.3" ry="2.9" fill="#962016" transform="rotate(6 285.0 93.3)"/>
<ellipse cx="290.2" cy="93.5" rx="2.0" ry="2.3" fill="#962016" transform="rotate(92 290.2 93.5)"/>
<ellipse cx="165.9" cy="98.0" rx="2.4" ry="2.2" fill="#c8231e" transform="rotate(130 165.9 98.0)"/>
<ellipse cx="176.0" cy="99.0" rx="2.7" ry="3.4" fill="#286428" transform="rotate(140 176.0 99.0)"/>
<ellipse cx="187.5" cy="98.1" rx="2.3" ry="2.8" fill="#962016" transform="rotate(70 187.5 98.1)"/>
<ellipse cx="196.5" cy="97.8" rx="2.1" ry="2.6" fill="#962016" transform="rotate(88 196.5 97.8)"/>
<ellipse cx="201.7" cy="97.6" rx="3.3" ry="2.5" fill="#962016" transform="rotate(169 201.7 97.6)"/>
<ellipse cx="207.0" cy="97.3" rx="2.0" ry="2.0" fill="#d72820" transform="rotate(95 207.0 97.3)"/>
<ellipse cx="213.2" cy="96.8" rx="2.3" ry="1.7" fill="#d72820" transform="rotate(70 213.2 96.8)"/>
<ellipse cx="216.7" cy="100.0" rx="3.6" ry="3.8" fill="#5ab43c" transform="rotate(55 216.7 100.0)"/>
<ellipse cx="222.0" cy="98.2" rx="2.9" ry="3.2" fill="#5ab43c" transform="rotate(32 222.0 98.2)"/>
<ellipse cx="227.1" cy="97.5" rx="3.5" ry="2.8" fill="#235f23" transform="rotate(50 227.1 97.5)"/>
<ellipse cx="232.6" cy="97.7" rx="3.6" ry="4.1" fill="#37963a" transform="rotate(68 232.6 97.7)"/>
<ellipse cx="240.3" cy="97.4" rx="3.1" ry="3.4" fill="#d72820" transform="rotate(48 240.3 97.4)"/>
<ellipse cx="254.7" cy="98.8" rx="2.4" ry="2.9" fill="#379637" transform="rotate(85 254.7 98.8)"/>
<ellipse cx="259.5" cy="98.9" rx="3.6" ry="4.0" fill="#2d6428" transform="rotate(170 259.5 98.9)"/>
<ellipse cx="263.3" cy="97.2" rx="3.4" ry="3.1" fill="#3a1c0e" transform="rotate(44 263.3 97.2)"/>
<ellipse cx="276.0" cy="97.8" rx="3.2" ry="3.8" fill="#962016" transform="rotate(73 276.0 97.8)"/>
<ellipse cx="278.8" cy="98.3" rx="3.5" ry="3.2" fill="#3a1c0e" transform="rotate(173 278.8 98.3)"/>
<ellipse cx="284.2" cy="99.5" rx="2.9" ry="3.5" fill="#962016" transform="rotate(150 284.2 99.5)"/>
<ellipse cx="289.6" cy="98.7" rx="2.4" ry="2.9" fill="#3a1c0e" transform="rotate(144 289.6 98.7)"/>
<ellipse cx="162.9" cy="105.0" rx="2.4" ry="2.9" fill="#37963a" transform="rotate(9 162.9 105.0)"/>
<ellipse cx="166.8" cy="102.1" rx="2.5" ry="2.3" fill="#eb2d26" transform="rotate(118 166.8 102.1)"/>
<ellipse cx="173.1" cy="101.8" rx="3.5" ry="3.0" fill="#1e3716" transform="rotate(126 173.1 101.8)"/>
<ellipse cx="183.0" cy="104.5" rx="2.3" ry="2.4" fill="#235f23" transform="rotate(9 183.0 104.5)"/>
<ellipse cx="188.2" cy="102.5" rx="2.6" ry="2.6" fill="#235f23" transform="rotate(106 188.2 102.5)"/>
<ellipse cx="191.7" cy="105.0" rx="2.3" ry="2.8" fill="#235f23" transform="rotate(48 191.7 105.0)"/>
<ellipse cx="196.9" cy="104.6" rx="2.9" ry="3.2" fill="#96261c" transform="rotate(136 196.9 104.6)"/>
<ellipse cx="202.5" cy="104.3" rx="2.9" ry="3.4" fill="#96261c" transform="rotate(65 202.5 104.3)"/>
<ellipse cx="209.0" cy="102.4" rx="3.3" ry="2.8" fill="#c8231e" transform="rotate(72 209.0 102.4)"/>
<ellipse cx="213.4" cy="101.3" rx="2.3" ry="2.3" fill="#3c8c37" transform="rotate(163 213.4 101.3)"/>
<ellipse cx="219.4" cy="101.2" rx="2.2" ry="2.7" fill="#d2b42d" transform="rotate(39 219.4 101.2)"/>
<ellipse cx="229.7" cy="104.0" rx="3.4" ry="3.6" fill="#d72820" transform="rotate(7 229.7 104.0)"/>
<ellipse cx="231.6" cy="105.2" rx="3.0" ry="2.6" fill="#781e12" transform="rotate(155 231.6 105.2)"/>
<ellipse cx="239.0" cy="101.4" rx="3.3" ry="3.5" fill="#781e12" transform="rotate(145 239.0 101.4)"/>
<ellipse cx="244.0" cy="104.5" rx="2.6" ry="3.0" fill="#37963a" transform="rotate(133 244.0 104.5)"/>
<ellipse cx="249.8" cy="103.9" rx="2.4" ry="2.7" fill="#1e3716" transform="rotate(147 249.8 103.9)"/>
<ellipse cx="258.7" cy="104.1" rx="2.2" ry="2.7" fill="#286428" transform="rotate(138 258.7 104.1)"/>
<ellipse cx="262.7" cy="101.2" rx="3.4" ry="2.7" fill="#962016" transform="rotate(153 262.7 101.2)"/>
<ellipse cx="273.1" cy="104.0" rx="2.8" ry="2.5" fill="#3a1c0e" transform="rotate(89 273.1 104.0)"/>
<ellipse cx="284.2" cy="103.5" rx="2.7" ry="3.2" fill="#d72820" transform="rotate(160 284.2 103.5)"/>
<ellipse cx="291.3" cy="105.1" rx="2.5" ry="2.0" fill="#d72820" transform="rotate(151 291.3 105.1)"/>
<ellipse cx="166.4" cy="107.0" rx="3.4" ry="3.0" fill="#37963a" transform="rotate(34 166.4 107.0)"/>
<ellipse cx="171.7" cy="108.5" rx="3.1" ry="3.1" fill="#1e3716" transform="rotate(41 171.7 108.5)"/>
<ellipse cx="181.7" cy="107.2" rx="3.5" ry="3.3" fill="#1e3716" transform="rotate(58 181.7 107.2)"/>
<ellipse cx="187.7" cy="109.9" rx="2.9" ry="2.6" fill="#235f23" transform="rotate(61 187.7 109.9)"/>
<ellipse cx="194.2" cy="109.8" rx="2.3" ry="2.9" fill="#235f23" transform="rotate(55 194.2 109.8)"/>
<ellipse cx="198.0" cy="106.6" rx="3.5" ry="2.8" fill="#235f23" transform="rotate(174 198.0 106.6)"/>
<ellipse cx="202.1" cy="108.4" rx="2.5" ry="2.9" fill="#37963a" transform="rotate(54 202.1 108.4)"/>
<ellipse cx="207.3" cy="109.2" rx="2.9" ry="2.9" fill="#c8231e" transform="rotate(41 207.3 109.2)"/>
<ellipse cx="217.8" cy="109.6" rx="2.1" ry="2.0" fill="#eb2d26" transform="rotate(99 217.8 109.6)"/>
<ellipse cx="224.0" cy="107.2" rx="3.1" ry="2.5" fill="#eb2d26" transform="rotate(141 224.0 107.2)"/>
<ellipse cx="230.2" cy="108.0" rx="3.0" ry="2.4" fill="#d72820" transform="rotate(153 230.2 108.0)"/>
<ellipse cx="234.4" cy="106.5" rx="2.2" ry="2.0" fill="#d72820" transform="rotate(69 234.4 106.5)"/>
<ellipse cx="238.6" cy="108.5" rx="2.7" ry="2.1" fill="#37963a" transform="rotate(122 238.6 108.5)"/>
<ellipse cx="242.6" cy="109.2" rx="3.4" ry="3.5" fill="#37963a" transform="rotate(151 242.6 109.2)"/>
<ellipse cx="247.4" cy="108.1" rx="2.9" ry="2.2" fill="#37963a" transform="rotate(124 247.4 108.1)"/>
<ellipse cx="254.2" cy="107.6" rx="2.6" ry="3.2" fill="#1e3716" transform="rotate(163 254.2 107.6)"/>
<ellipse cx="260.2" cy="107.2" rx="3.1" ry="2.3" fill="#379637" transform="rotate(116 260.2 107.2)"/>
<ellipse cx="264.7" cy="106.7" rx="3.5" ry="3.6" fill="#50c350" transform="rotate(91 264.7 106.7)"/>
<ellipse cx="267.6" cy="106.7" rx="2.6" ry="2.5" fill="#50c350" transform="rotate(99 267.6 106.7)"/>
<ellipse cx="285.4" cy="108.7" rx="3.1" ry="2.4" fill="#d72820" transform="rotate(37 285.4 108.7)"/>
<ellipse cx="161.9" cy="112.5" rx="2.7" ry="3.1" fill="#37963a" transform="rotate(62 161.9 112.5)"/>
<ellipse cx="166.1" cy="111.9" rx="3.3" ry="3.9" fill="#37963a" transform="rotate(85 166.1 111.9)"/>
<ellipse cx="172.3" cy="114.0" rx="2.6" ry="2.8" fill="#37963a" transform="rotate(62 172.3 114.0)"/>
<ellipse cx="177.6" cy="111.2" rx="3.4" ry="2.8" fill="#1e3716" transform="rotate(79 177.6 111.2)"/>
<ellipse cx="184.4" cy="111.3" rx="2.1" ry="2.4" fill="#235f23" transform="rotate(169 184.4 111.3)"/>
<ellipse cx="186.0" cy="112.3" rx="3.4" ry="3.3" fill="#37963a" transform="rotate(45 186.0 112.3)"/>
<ellipse cx="194.0" cy="115.2" rx="3.2" ry="3.8" fill="#1e3716" transform="rotate(35 194.0 115.2)"/>
<ellipse cx="203.7" cy="114.7" rx="2.2" ry="1.9" fill="#1e3716" transform="rotate(153 203.7 114.7)"/>
<ellipse cx="209.4" cy="114.9" rx="2.4" ry="1.9" fill="#eb2d26" transform="rotate(41 209.4 114.9)"/>
<ellipse cx="215.0" cy="112.1" rx="2.7" ry="3.3" fill="#eb2d26" transform="rotate(122 215.0 112.1)"/>
<ellipse cx="216.7" cy="112.3" rx="3.6" ry="3.2" fill="#eb2d26" transform="rotate(32 216.7 112.3)"/>
<ellipse cx="233.6" cy="113.6" rx="2.3" ry="2.4" fill="#c8231e" transform="rotate(106 233.6 113.6)"/>
<ellipse cx="238.3" cy="112.1" rx="3.1" ry="3.6" fill="#37963a" transform="rotate(54 238.3 112.1)"/>
<ellipse cx="245.5" cy="112.8" rx="3.5" ry="3.1" fill="#37963a" transform="rotate(178 245.5 112.8)"/>
<ellipse cx="248.8" cy="113.0" rx="2.6" ry="2.0" fill="#286428" transform="rotate(88 248.8 113.0)"/>
<ellipse cx="259.2" cy="114.9" rx="3.0" ry="3.4" fill="#3a1c0e" transform="rotate(72 259.2 114.9)"/>
<ellipse cx="264.6" cy="114.6" rx="3.1" ry="3.7" fill="#2d6428" transform="rotate(2 264.6 114.6)"/>
<ellipse cx="269.1" cy="113.3" rx="2.5" ry="2.6" fill="#962016" transform="rotate(65 269.1 113.3)"/>
<ellipse cx="277.9" cy="115.2" rx="3.2" ry="3.6" fill="#962016" transform="rotate(180 277.9 115.2)"/>
<ellipse cx="285.3" cy="113.7" rx="3.3" ry="3.4" fill="#3c8c37" transform="rotate(174 285.3 113.7)"/>
<ellipse cx="289.1" cy="112.4" rx="2.9" ry="2.6" fill="#781e12" transform="rotate(85 289.1 112.4)"/>
<ellipse cx="164.0" cy="116.8" rx="2.8" ry="2.9" fill="#286428" transform="rotate(6 164.0 116.8)"/>
<ellipse cx="166.1" cy="117.1" rx="2.0" ry="1.7" fill="#1e3716" transform="rotate(88 166.1 117.1)"/>
<ellipse cx="173.8" cy="118.3" rx="3.3" ry="3.4" fill="#235f23" transform="rotate(141 173.8 118.3)"/>
<ellipse cx="176.2" cy="120.0" rx="2.9" ry="3.2" fill="#37963a" transform="rotate(89 176.2 120.0)"/>
<ellipse cx="181.1" cy="118.0" rx="2.9" ry="2.8" fill="#37963a" transform="rotate(13 181.1 118.0)"/>
<ellipse cx="187.7" cy="117.4" rx="2.5" ry="2.0" fill="#96261c" transform="rotate(6 187.7 117.4)"/>
<ellipse cx="196.2" cy="118.1" rx="2.4" ry="2.7" fill="#781e14" transform="rotate(96 196.2 118.1)"/>
<ellipse cx="206.3" cy="118.0" rx="2.2" ry="2.1" fill="#eb2d26" transform="rotate(67 206.3 118.0)"/>
<ellipse cx="230.4" cy="117.5" rx="2.8" ry="3.3" fill="#eb2d26" transform="rotate(43 230.4 117.5)"/>
<ellipse cx="233.3" cy="117.4" rx="2.5" ry="2.5" fill="#eb2d26" transform="rotate(52 233.3 117.4)"/>
<ellipse cx="239.6" cy="118.3" rx="2.1" ry="2.5" fill="#962016" transform="rotate(31 239.6 118.3)"/>
<ellipse cx="244.5" cy="120.2" rx="3.2" ry="3.4" fill="#3a1c0e" transform="rotate(144 244.5 120.2)"/>
<ellipse cx="247.7" cy="118.5" rx="2.2" ry="2.3" fill="#3a1c0e" transform="rotate(82 247.7 118.5)"/>
<ellipse cx="253.9" cy="117.7" rx="3.6" ry="3.3" fill="#d72820" transform="rotate(85 253.9 117.7)"/>
<ellipse cx="269.2" cy="119.0" rx="3.1" ry="3.8" fill="#2d6428" transform="rotate(156 269.2 119.0)"/>
<ellipse cx="277.4" cy="118.8" rx="3.2" ry="3.8" fill="#2d6428" transform="rotate(103 277.4 118.8)"/>
<ellipse cx="283.3" cy="117.4" rx="2.2" ry="2.5" fill="#d72820" transform="rotate(19 283.3 117.4)"/>
<ellipse cx="288.5" cy="119.7" rx="2.1" ry="2.1" fill="#3c8c37" transform="rotate(120 288.5 119.7)"/>
<ellipse cx="160.6" cy="123.3" rx="2.8" ry="2.4" fill="#1e3716" transform="rotate(98 160.6 123.3)"/>
<ellipse cx="177.7" cy="122.8" rx="3.5" ry="2.8" fill="#37963a" transform="rotate(29 177.7 122.8)"/>
<ellipse cx="182.1" cy="124.8" rx="2.8" ry="3.0" fill="#1e3716" transform="rotate(68 182.1 124.8)"/>
<ellipse cx="189.8" cy="123.8" rx="3.5" ry="2.6" fill="#37963a" transform="rotate(136 189.8 123.8)"/>
<ellipse cx="191.9" cy="123.9" rx="2.6" ry="3.2" fill="#37963a" transform="rotate(16 191.9 123.9)"/>
<ellipse cx="218.8" cy="123.4" rx="3.1" ry="3.8" fill="#c8231e" transform="rotate(61 218.8 123.4)"/>
<ellipse cx="225.1" cy="122.6" rx="2.6" ry="2.5" fill="#c8231e" transform="rotate(72 225.1 122.6)"/>
<ellipse cx="234.5" cy="124.7" rx="2.1" ry="2.2" fill="#eb2d26" transform="rotate(117 234.5 124.7)"/>
<ellipse cx="237.7" cy="121.6" rx="2.4" ry="2.8" fill="#3a1c0e" transform="rotate(154 237.7 121.6)"/>
<ellipse cx="248.6" cy="123.0" rx="3.4" ry="2.7" fill="#d72820" transform="rotate(170 248.6 123.0)"/>
<ellipse cx="253.7" cy="125.2" rx="3.1" ry="3.1" fill="#3c8c37" transform="rotate(129 253.7 125.2)"/>
<ellipse cx="260.2" cy="122.3" rx="2.4" ry="1.8" fill="#3a1c0e" transform="rotate(127 260.2 122.3)"/>
<ellipse cx="263.0" cy="124.6" rx="3.2" ry="3.4" fill="#c8231e" transform="rotate(55 263.0 124.6)"/>
<ellipse cx="268.2" cy="123.5" rx="2.8" ry="3.3" fill="#3a1c0e" transform="rotate(148 268.2 123.5)"/>
<ellipse cx="273.8" cy="122.4" rx="2.1" ry="2.5" fill="#3a1c0e" transform="rotate(44 273.8 122.4)"/>
<ellipse cx="288.8" cy="123.8" rx="2.3" ry="2.3" fill="#d72820" transform="rotate(91 288.8 123.8)"/>
<ellipse cx="162.1" cy="128.6" rx="2.6" ry="2.8" fill="#781e14" transform="rotate(78 162.1 128.6)"/>
<ellipse cx="167.2" cy="129.6" rx="3.1" ry="3.5" fill="#781e14" transform="rotate(9 167.2 129.6)"/>
<ellipse cx="173.5" cy="127.0" rx="3.3" ry="4.0" fill="#781e12" transform="rotate(74 173.5 127.0)"/>
<ellipse cx="194.9" cy="127.8" rx="2.2" ry="2.5" fill="#3a1c0e" transform="rotate(64 194.9 127.8)"/>
<ellipse cx="203.9" cy="128.7" rx="2.2" ry="2.4" fill="#3a1c0e" transform="rotate(103 203.9 128.7)"/>
<ellipse cx="207.5" cy="128.2" rx="2.7" ry="2.7" fill="#eb2d26" transform="rotate(102 207.5 128.2)"/>
<ellipse cx="213.8" cy="128.6" rx="2.3" ry="2.4" fill="#c8231e" transform="rotate(134 213.8 128.6)"/>
<ellipse cx="217.1" cy="127.4" rx="3.0" ry="2.7" fill="#c8231e" transform="rotate(147 217.1 127.4)"/>
<ellipse cx="222.5" cy="128.2" rx="3.2" ry="3.9" fill="#eb2d26" transform="rotate(130 222.5 128.2)"/>
<ellipse cx="226.9" cy="130.2" rx="3.3" ry="3.7" fill="#c8231e" transform="rotate(14 226.9 130.2)"/>
<ellipse cx="233.6" cy="128.8" rx="3.4" ry="3.4" fill="#eb2d26" transform="rotate(130 233.6 128.8)"/>
<ellipse cx="237.7" cy="127.1" rx="2.2" ry="1.7" fill="#781e12" transform="rotate(6 237.7 127.1)"/>
<ellipse cx="245.2" cy="127.9" rx="2.9" ry="2.6" fill="#d72820" transform="rotate(61 245.2 127.9)"/>
<ellipse cx="247.9" cy="129.2" rx="2.2" ry="1.7" fill="#781e12" transform="rotate(134 247.9 129.2)"/>
<ellipse cx="255.4" cy="129.2" rx="2.4" ry="2.5" fill="#781e12" transform="rotate(84 255.4 129.2)"/>
<ellipse cx="258.0" cy="130.3" rx="3.6" ry="3.4" fill="#3c8c37" transform="rotate(35 258.0 130.3)"/>
<ellipse cx="265.2" cy="129.0" rx="2.4" ry="2.9" fill="#eb2d26" transform="rotate(96 265.2 129.0)"/>
<ellipse cx="275.4" cy="130.0" rx="3.1" ry="2.5" fill="#d72820" transform="rotate(115 275.4 130.0)"/>
<ellipse cx="277.4" cy="127.1" rx="3.1" ry="3.9" fill="#d72820" transform="rotate(50 277.4 127.1)"/>
<ellipse cx="289.3" cy="128.8" rx="3.2" ry="3.1" fill="#3c8c37" transform="rotate(65 289.3 128.8)"/>
<ellipse cx="162.9" cy="134.1" rx="3.2" ry="2.7" fill="#1e3716" transform="rotate(146 162.9 134.1)"/>
<ellipse cx="167.3" cy="131.6" rx="2.9" ry="3.1" fill="#1e3716" transform="rotate(59 167.3 131.6)"/>
<ellipse cx="177.8" cy="132.2" rx="2.1" ry="2.4" fill="#3c8c37" transform="rotate(164 177.8 132.2)"/>
<ellipse cx="189.7" cy="132.8" rx="3.3" ry="2.6" fill="#1e3716" transform="rotate(147 189.7 132.8)"/>
<ellipse cx="196.2" cy="133.2" rx="2.9" ry="2.7" fill="#3a1c0e" transform="rotate(48 196.2 133.2)"/>
<ellipse cx="232.0" cy="134.3" rx="3.2" ry="3.3" fill="#eb2d26" transform="rotate(129 232.0 134.3)"/>
<ellipse cx="238.1" cy="134.1" rx="3.4" ry="3.7" fill="#d72820" transform="rotate(166 238.1 134.1)"/>
<ellipse cx="242.4" cy="134.3" rx="3.4" ry="3.1" fill="#d72820" transform="rotate(155 242.4 134.3)"/>
<ellipse cx="257.3" cy="134.3" rx="2.9" ry="2.4" fill="#d72820" transform="rotate(44 257.3 134.3)"/>
<ellipse cx="265.0" cy="131.8" rx="2.2" ry="1.8" fill="#eb2d26" transform="rotate(51 265.0 131.8)"/>
<ellipse cx="268.4" cy="135.2" rx="2.8" ry="3.0" fill="#eb2d26" transform="rotate(142 268.4 135.2)"/>
<ellipse cx="274.8" cy="132.0" rx="3.4" ry="2.6" fill="#d72820" transform="rotate(98 274.8 132.0)"/>
<ellipse cx="281.0" cy="132.2" rx="2.7" ry="2.2" fill="#3c8c37" transform="rotate(146 281.0 132.2)"/>
<ellipse cx="286.4" cy="131.9" rx="2.5" ry="1.9" fill="#3c8c37" transform="rotate(29 286.4 131.9)"/>
<ellipse cx="291.1" cy="134.3" rx="2.7" ry="2.4" fill="#781e12" transform="rotate(68 291.1 134.3)"/>
<ellipse cx="179.4" cy="137.6" rx="2.2" ry="2.4" fill="#96261c" transform="rotate(20 179.4 137.6)"/>
<ellipse cx="184.8" cy="139.4" rx="3.1" ry="3.6" fill="#3a1c0e" transform="rotate(89 184.8 139.4)"/>
<ellipse cx="188.8" cy="139.3" rx="3.3" ry="4.0" fill="#962016" transform="rotate(11 188.8 139.3)"/>
<ellipse cx="193.8" cy="139.7" rx="2.5" ry="2.5" fill="#3a1c0e" transform="rotate(134 193.8 139.7)"/>
<ellipse cx="196.5" cy="136.5" rx="2.1" ry="1.6" fill="#2d6428" transform="rotate(66 196.5 136.5)"/>
<ellipse cx="206.3" cy="136.7" rx="2.6" ry="3.0" fill="#d72820" transform="rotate(156 206.3 136.7)"/>
<ellipse cx="216.6" cy="137.9" rx="2.3" ry="1.8" fill="#eb2d26" transform="rotate(144 216.6 137.9)"/>
<ellipse cx="222.8" cy="140.0" rx="2.2" ry="1.8" fill="#eb2d26" transform="rotate(65 222.8 140.0)"/>
<ellipse cx="233.1" cy="139.2" rx="2.1" ry="2.6" fill="#eb2d26" transform="rotate(135 233.1 139.2)"/>
<ellipse cx="237.2" cy="139.0" rx="3.1" ry="2.4" fill="#235f23" transform="rotate(120 237.2 139.0)"/>
<ellipse cx="245.0" cy="139.1" rx="3.0" ry="3.3" fill="#37963a" transform="rotate(44 245.0 139.1)"/>
<ellipse cx="248.0" cy="136.7" rx="3.5" ry="3.8" fill="#37963a" transform="rotate(47 248.0 136.7)"/>
<ellipse cx="255.5" cy="140.2" rx="2.8" ry="2.5" fill="#3a1c0e" transform="rotate(121 255.5 140.2)"/>
<ellipse cx="258.3" cy="139.7" rx="3.1" ry="3.5" fill="#3a1c0e" transform="rotate(114 258.3 139.7)"/>
<ellipse cx="267.3" cy="137.3" rx="3.1" ry="3.0" fill="#eb2d26" transform="rotate(176 267.3 137.3)"/>
<ellipse cx="290.7" cy="137.9" rx="2.5" ry="2.2" fill="#d72820" transform="rotate(131 290.7 137.9)"/>
<ellipse cx="169.4" cy="142.7" rx="3.0" ry="2.7" fill="#1e3716" transform="rotate(35 169.4 142.7)"/>
<ellipse cx="170.7" cy="142.4" rx="2.1" ry="1.6" fill="#1e3716" transform="rotate(157 170.7 142.4)"/>
<ellipse cx="177.9" cy="145.3" rx="3.2" ry="3.0" fill="#235f23" transform="rotate(132 177.9 145.3)"/>
<ellipse cx="182.2" cy="142.2" rx="3.3" ry="3.7" fill="#962016" transform="rotate(152 182.2 142.2)"/>
<ellipse cx="188.7" cy="143.9" rx="2.7" ry="2.2" fill="#962016" transform="rotate(148 188.7 143.9)"/>
<ellipse cx="191.1" cy="144.3" rx="2.1" ry="2.6" fill="#3a1c0e" transform="rotate(178 191.1 144.3)"/>
<ellipse cx="197.6" cy="141.5" rx="3.2" ry="2.7" fill="#3a1c0e" transform="rotate(12 197.6 141.5)"/>
<ellipse cx="204.4" cy="142.8" rx="3.1" ry="2.6" fill="#781e12" transform="rotate(104 204.4 142.8)"/>
<ellipse cx="213.2" cy="145.1" rx="2.6" ry="2.6" fill="#d72820" transform="rotate(79 213.2 145.1)"/>
<ellipse cx="217.6" cy="141.5" rx="2.2" ry="1.9" fill="#eb2d26" transform="rotate(61 217.6 141.5)"/>
<ellipse cx="222.4" cy="145.1" rx="3.5" ry="3.1" fill="#eb2d26" transform="rotate(3 222.4 145.1)"/>
<ellipse cx="228.1" cy="141.6" rx="3.3" ry="3.1" fill="#eb2d26" transform="rotate(123 228.1 141.6)"/>
<ellipse cx="232.7" cy="144.0" rx="2.5" ry="2.9" fill="#c8231e" transform="rotate(17 232.7 144.0)"/>
<ellipse cx="238.8" cy="144.5" rx="3.1" ry="2.5" fill="#235f23" transform="rotate(156 238.8 144.5)"/>
<ellipse cx="244.5" cy="144.5" rx="3.4" ry="3.8" fill="#235f23" transform="rotate(46 244.5 144.5)"/>
<ellipse cx="255.6" cy="142.8" rx="3.1" ry="3.8" fill="#962016" transform="rotate(111 255.6 142.8)"/>
<ellipse cx="264.0" cy="142.3" rx="2.9" ry="2.8" fill="#eb2d26" transform="rotate(110 264.0 142.3)"/>
<ellipse cx="273.6" cy="142.8" rx="2.9" ry="3.6" fill="#c8231e" transform="rotate(142 273.6 142.8)"/>
<ellipse cx="281.2" cy="144.3" rx="2.9" ry="2.9" fill="#d72820" transform="rotate(96 281.2 144.3)"/>
<ellipse cx="286.3" cy="144.4" rx="2.0" ry="2.0" fill="#3c8c37" transform="rotate(84 286.3 144.4)"/></g>
<filter id="f2_2" x="-20%" y="-20%" width="140%" height="140%"><feGaussianBlur stdDeviation="1.2"/></filter>
<g filter="url(#f2_2)"><ellipse cx="233.5" cy="103" rx="4" ry="3.5" fill="#73c846" opacity="1"/>
<ellipse cx="238" cy="98" rx="2" ry="3.5" fill="#73c846" opacity="1"/>
<ellipse cx="256.5" cy="95.5" rx="4.5" ry="4.5" fill="#78cd46" opacity="1"/>
<ellipse cx="248" cy="106" rx="5" ry="2.5" fill="#64be41" opacity="1" transform="rotate(-30 248 106)"/>
<ellipse cx="262" cy="104" rx="5.5" ry="3" fill="#6ec644" opacity="1"/>
<ellipse cx="265.5" cy="112.5" rx="2.5" ry="1.6" fill="#64be41" opacity="1"/>
<ellipse cx="247.5" cy="87" rx="3.5" ry="2" fill="#64be41" opacity="1"/>
<ellipse cx="258.5" cy="38.2" rx="5.5" ry="5" fill="#de2a22" opacity="1"/>
<ellipse cx="267.5" cy="40" rx="4.5" ry="3.5" fill="#4ec452" opacity="1" transform="rotate(-30 267.5 40)"/>
<ellipse cx="252" cy="51.7" rx="3.5" ry="3.2" fill="#4ec452" opacity="1"/>
<ellipse cx="236" cy="35" rx="8" ry="3" fill="#34943a" opacity="1"/>
<ellipse cx="213.6" cy="121" rx="15" ry="17" fill="#e63420" opacity="1"/>
<ellipse cx="201" cy="118" rx="4" ry="8" fill="#e15523" opacity="1"/>
<ellipse cx="208" cy="112" rx="4" ry="3" fill="#be231c" opacity="1"/>
<ellipse cx="220" cy="128" rx="4" ry="3" fill="#c8261e" opacity="1"/>
<ellipse cx="219.8" cy="102.6" rx="5" ry="3.8" fill="#c3c332" opacity="1"/>
<ellipse cx="163" cy="100" rx="4" ry="6" fill="#de2a22" opacity="1"/>
<ellipse cx="166" cy="103" rx="3" ry="3" fill="#aac832" opacity="1"/>
<ellipse cx="209" cy="27" rx="8" ry="5" fill="#de2a22" opacity="1"/>
<ellipse cx="178" cy="128" rx="9" ry="10" fill="#a0201e" opacity="1"/>
<ellipse cx="175" cy="122" rx="3" ry="3" fill="#c82823" opacity="1"/>
<ellipse cx="182" cy="131" rx="3" ry="3" fill="#c32620" opacity="1"/>
<ellipse cx="195" cy="92" rx="4" ry="4" fill="#cd2622" opacity="1"/>
<ellipse cx="189" cy="35" rx="12" ry="8" fill="#379637" opacity="1"/>
<ellipse cx="193" cy="44" rx="4" ry="4" fill="#d72d23" opacity="1"/>
<ellipse cx="198" cy="53.8" rx="6" ry="3.5" fill="#55c350" opacity="1"/>
<ellipse cx="176.5" cy="62" rx="4" ry="4" fill="#d24623" opacity="1"/>
<ellipse cx="231" cy="38" rx="5" ry="4" fill="#34943a" opacity="1"/>
<ellipse cx="168" cy="57" rx="6" ry="4" fill="#4ec452" opacity="1"/>
<ellipse cx="165" cy="72" rx="5" ry="5" fill="#4ec452" opacity="1"/>
<ellipse cx="187" cy="141" rx="6" ry="4" fill="#4ec452" opacity="1"/></g>
</g>
<text x="165.8" y="27.6" font-family="Liberation Sans, sans-serif" font-size="7.9" fill="#fff">15 min</text>
<rect x="240.5" y="23" width="36.0" height="35.8" fill="none" stroke="#fff" stroke-width="1.1" stroke-dasharray="1.5 1.2"/>
<rect x="229.4" y="87.8" width="39.70000000000002" height="35.7" fill="none" stroke="#fff" stroke-width="1.1" stroke-dasharray="1.5 1.2"/>
<text x="244.2" y="31.8" font-family="Liberation Sans, sans-serif" font-size="6.8" fill="#fff">A'</text>
<text x="232" y="97.2" font-family="Liberation Sans, sans-serif" font-size="6.8" fill="#fff">A''</text>
<text x="281" y="37.6" font-family="Liberation Sans, sans-serif" font-size="7.6" font-weight="bold" fill="#fff">N1</text>
<text x="227.6" y="45.4" font-family="Liberation Sans, sans-serif" font-size="7.6" font-weight="bold" fill="#fff">N2</text>
<line x1="280.4" y1="26" x2="273.74" y2="27.96" stroke="#f2b214" stroke-width="1.9"/><polygon points="267.5,29.8 273.30,24.70 275.13,30.94" fill="#f2b214"/>
<line x1="240.5" y1="40.1" x2="244.16" y2="44.71" stroke="#f2b214" stroke-width="1.9"/><polygon points="248.2,49.8 241.30,46.34 246.39,42.30" fill="#f2b214"/>
<line x1="242.2" y1="119.4" x2="238.80" y2="112.66" stroke="#fff" stroke-width="1.8"/><polygon points="236.1,107.3 241.93,111.64 236.12,114.57" fill="#fff"/>
<line x1="265.7" y1="77" x2="261.13" y2="83.57" stroke="#fff" stroke-width="1.8"/><polygon points="257.7,88.5 258.74,81.31 264.08,85.02" fill="#fff"/>
<line x1="282.6" y1="119.4" x2="276.01" y2="114.76" stroke="#fff" stroke-width="1.8"/><polygon points="271.1,111.3 278.29,112.39 274.54,117.70" fill="#fff"/>
<text x="244.9" y="119.3" font-family="Liberation Sans, sans-serif" font-size="7.6" font-weight="bold" fill="#fff">E1</text>
<text x="268.4" y="83.1" font-family="Liberation Sans, sans-serif" font-size="7.6" font-weight="bold" fill="#fff">E2</text>
<text x="277.9" y="112.1" font-family="Liberation Sans, sans-serif" font-size="7.6" font-weight="bold" fill="#fff">E3</text>
<line x1="167" y1="134.4" x2="186.6" y2="134.4" stroke="#fff" stroke-width="1.5"/>
<clipPath id="c3"><rect x="23" y="167.5" width="131" height="128"/></clipPath>
<g clip-path="url(#c3)">
<rect x="23" y="167.5" width="131" height="128" fill="#303a16"/>
<filter id="f3_0" x="-20%" y="-20%" width="140%" height="140%"><feGaussianBlur stdDeviation="3.0"/></filter>
<g filter="url(#f3_0)"><ellipse cx="40" cy="185" rx="30" ry="20" fill="#284e20" opacity="1"/>
<ellipse cx="130" cy="180" rx="30" ry="15" fill="#2d461c" opacity="1"/>
<ellipse cx="148" cy="178" rx="8" ry="12" fill="#286e2d" opacity="1"/>
<ellipse cx="57.5" cy="209" rx="22" ry="21" fill="#8c2412" opacity="1"/>
<ellipse cx="57.5" cy="210" rx="17" ry="17" fill="#cd371c" opacity="1"/>
<ellipse cx="59" cy="213" rx="9" ry="9" fill="#e45020" opacity="1"/>
<ellipse cx="80" cy="222" rx="14" ry="10" fill="#282c13" opacity="1"/>
<ellipse cx="140" cy="265" rx="16" ry="18" fill="#262310" opacity="1"/>
<ellipse cx="108" cy="175" rx="9" ry="6" fill="#be2028" opacity="1"/>
<ellipse cx="120" cy="180" rx="3" ry="3" fill="#a0281e" opacity="1"/>
<ellipse cx="85.2" cy="192.4" rx="11" ry="11" fill="#22692d" opacity="1"/>
<ellipse cx="26" cy="218" rx="5" ry="12" fill="#287d32" opacity="1"/>
<ellipse cx="36" cy="240" rx="13" ry="10" fill="#32963c" opacity="1"/>
<ellipse cx="70" cy="236" rx="13" ry="10" fill="#2d7d32" opacity="1"/>
<ellipse cx="45" cy="230" rx="8" ry="5" fill="#2d732d" opacity="1"/>
<ellipse cx="142" cy="197" rx="7" ry="10" fill="#6e2616" opacity="1"/>
<ellipse cx="131" cy="218" rx="10" ry="8" fill="#962a19" opacity="1"/>
<ellipse cx="100" cy="220" rx="14" ry="12" fill="#3c5f23" opacity="1"/>
<ellipse cx="76" cy="254" rx="8" ry="6" fill="#8c4616" opacity="1"/>
<ellipse cx="72.5" cy="254.5" rx="3" ry="3" fill="#be2d19" opacity="1"/>
<ellipse cx="58.5" cy="272.9" rx="10.5" ry="10.5" fill="#32963c" opacity="1"/>
<ellipse cx="28" cy="290" rx="8" ry="5" fill="#782814" opacity="1"/>
<ellipse cx="106" cy="236" rx="5" ry="4" fill="#a52a1e" opacity="1"/>
<ellipse cx="92" cy="252" rx="4" ry="10" fill="#784b19" opacity="1"/>
<ellipse cx="135" cy="249" rx="9" ry="10" fill="#5a2314" opacity="1"/>
<ellipse cx="118" cy="275" rx="7" ry="6" fill="#9b3219" opacity="1"/>
<ellipse cx="145" cy="285" rx="10" ry="8" fill="#32501e" opacity="1"/>
<ellipse cx="120" cy="205" rx="10" ry="10" fill="#323016" opacity="1"/></g>
</g>
<text x="25" y="179" font-family="Liberation Sans, sans-serif" font-size="7.9" fill="#fff">12 min</text>
<circle cx="84.9" cy="192.3" r="13.8" fill="none" stroke="#fff" stroke-width="1.9" stroke-dasharray="3.2 2.6"/>
<circle cx="59.5" cy="273.4" r="13.8" fill="none" stroke="#fff" stroke-width="1.9" stroke-dasharray="3.2 2.6"/>
<text x="104.2" y="196.2" font-family="Liberation Sans, sans-serif" font-size="8.2" fill="#fff">N1</text>
<text x="77.6" y="276.8" font-family="Liberation Sans, sans-serif" font-size="8.2" fill="#fff">N2</text>
<line x1="130.2" y1="286.6" x2="150" y2="286.6" stroke="#fff" stroke-width="1.5"/>
<clipPath id="c4"><rect x="160" y="167.5" width="132" height="128"/></clipPath>
<g clip-path="url(#c4)">
<rect x="160" y="167.5" width="132" height="128" fill="#323817"/>
<filter id="f4_0" x="-20%" y="-20%" width="140%" height="140%"><feGaussianBlur stdDeviation="3.0"/></filter>
<g filter="url(#f4_0)"><ellipse cx="190" cy="180" rx="30" ry="14" fill="#2a3416" opacity="1"/>
<ellipse cx="180" cy="192" rx="10" ry="8" fill="#822a14" opacity="1"/>
<ellipse cx="164" cy="200" rx="6" ry="16" fill="#288032" opacity="1"/>
<ellipse cx="203" cy="212" rx="20" ry="19" fill="#8c2412" opacity="1"/>
<ellipse cx="203" cy="212" rx="15" ry="15" fill="#d43a1c" opacity="1"/>
<ellipse cx="205" cy="218" rx="7" ry="7" fill="#e85a20" opacity="1"/>
<ellipse cx="207" cy="228" rx="5" ry="3" fill="#dcaa28" opacity="1"/>
<ellipse cx="218.4" cy="186" rx="11" ry="11" fill="#22642a" opacity="1"/>
<ellipse cx="243" cy="175" rx="12" ry="6" fill="#b92020" opacity="1"/>
<ellipse cx="275" cy="190" rx="12" ry="16" fill="#642314" opacity="1"/>
<ellipse cx="273" cy="197" rx="4" ry="4" fill="#a02d19" opacity="1"/>
<ellipse cx="255" cy="192" rx="15" ry="10" fill="#231e0f" opacity="1"/>
<ellipse cx="232" cy="205" rx="7" ry="6" fill="#286e2d" opacity="1"/>
<ellipse cx="289" cy="200" rx="3" ry="8" fill="#287832" opacity="1"/>
<ellipse cx="208.5" cy="240.5" rx="16" ry="10.5" fill="#44b946" opacity="1" transform="rotate(22 208.5 240.5)"/>
<ellipse cx="211" cy="242" rx="9" ry="6" fill="#5acd50" opacity="1" transform="rotate(22 211 242)"/>
<ellipse cx="168" cy="245" rx="10" ry="12" fill="#28481e" opacity="1"/>
<ellipse cx="185" cy="250" rx="8" ry="20" fill="#6e3c16" opacity="1"/>
<ellipse cx="182" cy="265" rx="7" ry="8" fill="#6e782a" opacity="1"/>
<ellipse cx="183" cy="281" rx="7" ry="6" fill="#822a14" opacity="1"/>
<ellipse cx="212" cy="281.8" rx="11" ry="11" fill="#265421" opacity="1"/>
<ellipse cx="230" cy="258" rx="12" ry="14" fill="#5a3416" opacity="1"/>
<ellipse cx="238" cy="233" rx="5" ry="4" fill="#a04119" opacity="1"/>
<ellipse cx="240" cy="250" rx="8" ry="10" fill="#286e2d" opacity="1"/>
<ellipse cx="258" cy="250" rx="20" ry="18" fill="#502614" opacity="1"/>
<ellipse cx="255" cy="271.5" rx="7" ry="6" fill="#af3419" opacity="1"/>
<ellipse cx="280" cy="270" rx="12" ry="18" fill="#2a4c1e" opacity="1"/>
<ellipse cx="265" cy="225" rx="15" ry="12" fill="#34501e" opacity="1"/>
<ellipse cx="245" cy="215" rx="12" ry="10" fill="#305a22" opacity="1"/></g>
</g>
<text x="163.8" y="178.5" font-family="Liberation Sans, sans-serif" font-size="7.9" fill="#fff">15 min</text>
<circle cx="218.6" cy="186" r="14" fill="none" stroke="#fff" stroke-width="1.9" stroke-dasharray="3.2 2.6"/>
<circle cx="213" cy="281.2" r="14" fill="none" stroke="#fff" stroke-width="1.9" stroke-dasharray="3.2 2.6"/>
<text x="238.7" y="190" font-family="Liberation Sans, sans-serif" font-size="8.2" fill="#fff">N1</text>
<text x="229.8" y="276.2" font-family="Liberation Sans, sans-serif" font-size="8.2" fill="#fff">N2</text>
<line x1="266.4" y1="285.1" x2="285.6" y2="285.1" stroke="#fff" stroke-width="1.5"/>
<clipPath id="c5"><rect x="23" y="315" width="131" height="125.5"/></clipPath>
<g clip-path="url(#c5)">
<rect x="23" y="315" width="131" height="125.5" fill="#4a2c14"/>
<filter id="f5_0" x="-20%" y="-20%" width="140%" height="140%"><feGaussianBlur stdDeviation="3.0"/></filter>
<g filter="url(#f5_0)"><ellipse cx="40" cy="330" rx="25" ry="20" fill="#284e20" opacity="1"/>
<ellipse cx="35" cy="316" rx="15" ry="4" fill="#b41e1e" opacity="1"/>
<ellipse cx="80" cy="335" rx="18" ry="20" fill="#cd201e" opacity="1"/>
<ellipse cx="95" cy="338" rx="8" ry="15" fill="#be1e1e" opacity="1"/>
<ellipse cx="125" cy="322" rx="30" ry="8" fill="#2a200f" opacity="1"/>
<ellipse cx="148" cy="345" rx="8" ry="12" fill="#641e14" opacity="1"/>
<ellipse cx="35" cy="410" rx="14" ry="30" fill="#d2241e" opacity="1"/>
<ellipse cx="44" cy="395" rx="12" ry="12" fill="#b9231c" opacity="1"/>
<ellipse cx="30" cy="432" rx="10" ry="8" fill="#c8231e" opacity="1"/>
<ellipse cx="90" cy="418" rx="12" ry="12" fill="#782816" opacity="1"/>
<ellipse cx="60" cy="400" rx="12" ry="12" fill="#2d642a" opacity="1"/>
<ellipse cx="67" cy="400" rx="6" ry="7" fill="#37873a" opacity="1"/>
<ellipse cx="65" cy="418" rx="8" ry="6" fill="#782d14" opacity="1"/>
<ellipse cx="80" cy="430" rx="20" ry="10" fill="#28441e" opacity="1"/>
<ellipse cx="100" cy="395" rx="15" ry="10" fill="#5a2314" opacity="1"/>
<ellipse cx="133" cy="405" rx="7" ry="12" fill="#4b963c" opacity="1" transform="rotate(-40 133 405)"/>
<ellipse cx="147" cy="419" rx="6" ry="8" fill="#46963c" opacity="1" transform="rotate(-40 147 419)"/>
<ellipse cx="148" cy="400" rx="7" ry="12" fill="#aa1e1e" opacity="1"/>
<ellipse cx="100" cy="430" rx="14" ry="10" fill="#7d1e14" opacity="1"/>
<ellipse cx="125" cy="432" rx="12" ry="8" fill="#8c2319" opacity="1"/>
<ellipse cx="85" cy="380" rx="15" ry="10" fill="#3c3719" opacity="1"/>
<ellipse cx="110" cy="385" rx="10" ry="8" fill="#502d14" opacity="1"/>
<ellipse cx="63" cy="400" rx="9" ry="10" fill="#307630" opacity="1"/>
<ellipse cx="90" cy="415" rx="10" ry="12" fill="#305524" opacity="1"/>
<ellipse cx="105" cy="400" rx="8" ry="8" fill="#782d16" opacity="1"/>
<ellipse cx="75" cy="425" rx="8" ry="6" fill="#3c5f26" opacity="1"/>
<ellipse cx="120" cy="420" rx="8" ry="8" fill="#465a23" opacity="1"/></g>
<filter id="f5_1" x="-20%" y="-20%" width="140%" height="140%"><feGaussianBlur stdDeviation="1.3"/></filter>
<g filter="url(#f5_1)"><ellipse cx="70" cy="351" rx="7.2" ry="14" fill="#6cc446" opacity="1"/>
<ellipse cx="38" cy="371" rx="14.5" ry="12.5" fill="#6ec446" opacity="1"/>
<ellipse cx="55" cy="364" rx="8" ry="5.5" fill="#69be44" opacity="1"/>
<ellipse cx="62" cy="360" rx="4" ry="5" fill="#69be44" opacity="1"/>
<ellipse cx="131" cy="339.5" rx="11" ry="12" fill="#70c646" opacity="1"/>
<ellipse cx="110" cy="348" rx="9" ry="17" fill="#4e9632" opacity="1"/>
<ellipse cx="134" cy="366" rx="19" ry="9.5" fill="#64bc44" opacity="1"/>
<ellipse cx="150" cy="362" rx="5" ry="7" fill="#64ba44" opacity="1"/><path d="M66.1,336.2 L73.8,336.8 L77.6,339.4 L77.6,345.7 L77.8,354.6 L75,359.7 L71.2,363.5 L66.1,367.3 L59.8,369.8 L53.5,369.8 L47.5,373.5 L45.8,377.3 L42,381 L34.4,385.5 L25.5,384.9 L23,378.5 L24.3,367.3 L26.8,362.2 L30.6,357.8 L37,355.9 L44.6,355.2 L52.2,357.1 L57.3,357.8 L59.8,354.6 L61.1,347 L62.3,339.4 Z" fill="#6cc446"/><path d="M111.8,368.6 C114,363 118,361 124.5,359.7 C130,358.5 136,356 142.3,353.3 C147,352 152,355 154,358 L154,374 C150,376 140,374 132,373.6 C128,374 127,378 127,383.8 C122,384 116,381 113,376.2 C112,373 111.5,370.5 111.8,368.6 Z" fill="#64bb44"/><path d="M118.2,328.6 C122,330 122.5,333 120,338 C118.5,343 119.5,349 116,356 C113,361 109,366 103,368.6 C99,368 99.5,362 99.8,352 C100,345 101,340 104.2,336.8 C108,332 113,329 118.2,328.6 Z" fill="#4e9a36"/></g>
</g>
<text x="26.8" y="326.2" font-family="Liberation Sans, sans-serif" font-size="7.9" fill="#fff">12 min</text>
<path d="M66.1,336.2 L73.8,336.8 L77.6,339.4 L77.6,345.7 L77.8,354.6 L75,359.7 L71.2,363.5 L66.1,367.3 L59.8,369.8 L53.5,369.8 L47.5,373.5 L45.8,377.3 L42,381 L34.4,385.5 L25.5,384.9 L23,378.5 L24.3,367.3 L26.8,362.2 L30.6,357.8 L37,355.9 L44.6,355.2 L52.2,357.1 L57.3,357.8 L59.8,354.6 L61.1,347 L62.3,339.4 Z" fill="none" stroke="#fff" stroke-width="1.8" stroke-dasharray="3.2 2.6" stroke-linejoin="round"/>
<path d="M118.2,328.6 C122,330 122.5,333 120,338 C118.5,343 119.5,349 116,356 C113,361 109,366 103,368.6 C99,368 99.5,362 99.8,352 C100,345 101,340 104.2,336.8 C108,332 113,329 118.2,328.6 Z" fill="none" stroke="#f2b214" stroke-width="1.8" stroke-dasharray="3.2 2.6" stroke-linejoin="round"/>
<path d="M111.8,368.6 C114,363 118,361 124.5,359.7 C130,358.5 136,356 142.3,353.3 C147,352 152,355 154,358 L154,374 C150,376 140,374 132,373.6 C128,374 127,378 127,383.8 C122,384 116,381 113,376.2 C112,373 111.5,370.5 111.8,368.6 Z" fill="none" stroke="#fff" stroke-width="1.8" stroke-dasharray="3.2 2.6" stroke-linejoin="round"/>
<text x="29.3" y="352.2" font-family="Liberation Sans, sans-serif" font-size="8.2" fill="#fff">E1</text>
<text x="136" y="329.4" font-family="Liberation Sans, sans-serif" font-size="8.2" fill="#fff">E2</text>
<text x="134.7" y="388.8" font-family="Liberation Sans, sans-serif" font-size="8.2" fill="#fff">E3</text>
<line x1="33.8" y1="434.7" x2="54.1" y2="434.7" stroke="#fff" stroke-width="1.5"/>
<clipPath id="c6"><rect x="160" y="315" width="132" height="125.5"/></clipPath>
<g clip-path="url(#c6)">
<rect x="160" y="315" width="132" height="125.5" fill="#4a2c14"/>
<filter id="f6_0" x="-20%" y="-20%" width="140%" height="140%"><feGaussianBlur stdDeviation="3.0"/></filter>
<g filter="url(#f6_0)"><ellipse cx="175" cy="325" rx="20" ry="14" fill="#cd231e" opacity="1"/>
<ellipse cx="190" cy="332" rx="12" ry="10" fill="#aa201c" opacity="1"/>
<ellipse cx="170" cy="352" rx="14" ry="14" fill="#285a23" opacity="1"/>
<ellipse cx="212" cy="355" rx="15" ry="18" fill="#c3201e" opacity="1"/>
<ellipse cx="260" cy="320" rx="35" ry="7" fill="#46190f" opacity="1"/>
<ellipse cx="272" cy="345" rx="22" ry="18" fill="#b41e1e" opacity="1"/>
<ellipse cx="262" cy="352" rx="7" ry="8" fill="#5a1c12" opacity="1"/>
<ellipse cx="240" cy="348" rx="8" ry="10" fill="#b41e1e" opacity="1"/>
<ellipse cx="175" cy="410" rx="18" ry="28" fill="#cd241e" opacity="1"/>
<ellipse cx="189" cy="408" rx="9" ry="9" fill="#506423" opacity="1"/>
<ellipse cx="200" cy="428" rx="10" ry="10" fill="#6e2814" opacity="1"/>
<ellipse cx="193" cy="425" rx="5" ry="5" fill="#3c5f23" opacity="1"/>
<ellipse cx="215" cy="420" rx="12" ry="18" fill="#481e0f" opacity="1"/>
<ellipse cx="245" cy="395" rx="16" ry="14" fill="#961e19" opacity="1"/>
<ellipse cx="235" cy="410" rx="12" ry="12" fill="#4b3e19" opacity="1"/>
<ellipse cx="260" cy="425" rx="18" ry="12" fill="#5a2010" opacity="1"/>
<ellipse cx="283" cy="432" rx="10" ry="8" fill="#961e19" opacity="1"/>
<ellipse cx="270" cy="400" rx="6" ry="5" fill="#961e19" opacity="1"/>
<ellipse cx="238" cy="402" rx="16" ry="9" fill="#962019" opacity="1"/>
<ellipse cx="225" cy="425" rx="10" ry="8" fill="#782314" opacity="1"/>
<ellipse cx="175" cy="432" rx="12" ry="8" fill="#aa231c" opacity="1"/></g>
<filter id="f6_1" x="-20%" y="-20%" width="140%" height="140%"><feGaussianBlur stdDeviation="1.3"/></filter>
<g filter="url(#f6_1)"><ellipse cx="218" cy="324" rx="13" ry="11" fill="#6cc446" opacity="1"/>
<ellipse cx="197" cy="344" rx="5.5" ry="9" fill="#69c246" opacity="1" transform="rotate(25 197 344)"/>
<ellipse cx="192" cy="360" rx="5.5" ry="12" fill="#69c246" opacity="1" transform="rotate(12 192 360)"/>
<ellipse cx="173" cy="380" rx="13" ry="12.5" fill="#6ec446" opacity="1"/>
<ellipse cx="186" cy="374" rx="5" ry="5" fill="#69c246" opacity="1"/>
<ellipse cx="251.4" cy="348.3" rx="13" ry="13" fill="#78c844" opacity="1"/>
<ellipse cx="236" cy="368" rx="8" ry="8" fill="#55ac3c" opacity="1"/>
<ellipse cx="214" cy="393" rx="12" ry="9" fill="#55ac3c" opacity="1" transform="rotate(-30 214 393)"/>
<ellipse cx="226" cy="380" rx="7" ry="7" fill="#55ac3c" opacity="1"/>
<ellipse cx="265" cy="375" rx="22" ry="8" fill="#5fb640" opacity="1" transform="rotate(8 265 375)"/>
<ellipse cx="282" cy="385" rx="10" ry="12" fill="#5fb840" opacity="1"/>
<ellipse cx="284" cy="413" rx="9" ry="6" fill="#64be44" opacity="1"/><path d="M204.4,314 L202.5,325 L200.6,334.3 L195.5,344.5 L190.5,354.6 L185.4,363.5 L175.2,363.5 L167.6,363.5 L162.5,369.8 L160.3,380 L162.5,390.1 L172.7,395.2 L182.8,387.6 L187.9,381.3 L195.5,374.9 L196.8,362.2 L198.1,349.5 L200.6,339.4 L210.8,335.6 L223.5,336.8 L231,333 L233.6,321.6 L231,315.3 Z" fill="#6cc446"/></g>
</g>
<text x="161.9" y="326.8" font-family="Liberation Sans, sans-serif" font-size="7.9" fill="#fff">15 min</text>
<path d="M204.4,314 L202.5,325 L200.6,334.3 L195.5,344.5 L190.5,354.6 L185.4,363.5 L175.2,363.5 L167.6,363.5 L162.5,369.8 L160.3,380 L162.5,390.1 L172.7,395.2 L182.8,387.6 L187.9,381.3 L195.5,374.9 L196.8,362.2 L198.1,349.5 L200.6,339.4 L210.8,335.6 L223.5,336.8 L231,333 L233.6,321.6 L231,315.3" fill="none" stroke="#fff" stroke-width="1.8" stroke-dasharray="3.2 2.6" stroke-linejoin="round"/>
<path d="M236.1,345.7 C240,344 244,346 247,352 C248,357 246,362 241.2,369.8 C238,375 235,380 233.6,382.5 C230,389 228,393 226,395.2 C222,400 218,402 211,403 C205,403 202,400 201.9,395.2 C202,391 205,388 210,385 C216,381 220,377 222,372 C224,365 225,360 227.3,354.6 C229,350 232,347 236.1,345.7 Z" fill="none" stroke="#f2b214" stroke-width="1.8" stroke-dasharray="3.2 2.6" stroke-linejoin="round"/>
<path d="M226,367.3 C230,364 234,362 240,362.5 C246,363 250,365 256.4,367.3 C262,368.5 270,368 276.8,367.3 C282,367 288,368 292,372 M292,402 C288,403 283,402 279.3,402.8 C276,405 275,408 275.5,412 C276,418 280,423 292,425.7 M248.8,377.5 C254,379 260,382 269.1,385 C274,387 278,390 282,398" fill="none" stroke="#fff" stroke-width="1.8" stroke-dasharray="3.2 2.6" stroke-linejoin="round"/>
<text x="168.2" y="360.4" font-family="Liberation Sans, sans-serif" font-size="8.2" fill="#fff">E1</text>
<text x="265.3" y="340.2" font-family="Liberation Sans, sans-serif" font-size="8.2" fill="#fff">E2</text>
<text x="255.8" y="408.6" font-family="Liberation Sans, sans-serif" font-size="8.2" fill="#fff">E3</text>
<line x1="168.2" y1="434.5" x2="188" y2="434.5" stroke="#fff" stroke-width="1.5"/>
<text x="417.2" y="16.2" font-family="Liberation Sans, sans-serif" font-size="8.73" text-anchor="middle" fill="#111">Nonexplorative cells</text>
<text x="331.9" y="27.2" font-family="Liberation Sans, sans-serif" font-size="7.05" fill="#111">Number of tracks: 26</text>
<line x1="422.2" y1="31.8" x2="422.2" y2="207.1" stroke="#8a8a8a" stroke-width="1.3"/>
<line x1="331.9" y1="119.4" x2="512.4" y2="119.4" stroke="#444" stroke-width="1"/>
<rect x="331.9" y="31.8" width="180.5" height="175.29999999999998" rx="1.5" fill="none" stroke="#111" stroke-width="1.3"/>
<line x1="333.43" y1="207.1" x2="333.43" y2="209.1" stroke="#111" stroke-width="0.9"/>
<line x1="331.9" y1="205.61" x2="329.9" y2="205.61" stroke="#111" stroke-width="0.9"/>
<line x1="340.83" y1="207.1" x2="340.83" y2="209.1" stroke="#111" stroke-width="0.9"/>
<line x1="331.9" y1="198.43" x2="329.9" y2="198.43" stroke="#111" stroke-width="0.9"/>
<line x1="348.22" y1="207.1" x2="348.22" y2="210.1" stroke="#111" stroke-width="0.9"/>
<line x1="331.9" y1="191.24" x2="328.9" y2="191.24" stroke="#111" stroke-width="0.9"/>
<text transform="translate(348.22,219.60) scale(0.82,1)" font-family="Liberation Sans, sans-serif" font-size="9" text-anchor="middle" fill="#111">−100</text>
<text transform="translate(326.8,194.44) scale(0.82,1)" font-family="Liberation Sans, sans-serif" font-size="9" text-anchor="end" fill="#111">−100</text>
<line x1="355.62" y1="207.1" x2="355.62" y2="209.1" stroke="#111" stroke-width="0.9"/>
<line x1="331.9" y1="184.06" x2="329.9" y2="184.06" stroke="#111" stroke-width="0.9"/>
<line x1="363.02" y1="207.1" x2="363.02" y2="209.1" stroke="#111" stroke-width="0.9"/>
<line x1="331.9" y1="176.88" x2="329.9" y2="176.88" stroke="#111" stroke-width="0.9"/>
<line x1="370.42" y1="207.1" x2="370.42" y2="209.1" stroke="#111" stroke-width="0.9"/>
<line x1="331.9" y1="169.69" x2="329.9" y2="169.69" stroke="#111" stroke-width="0.9"/>
<line x1="377.81" y1="207.1" x2="377.81" y2="209.1" stroke="#111" stroke-width="0.9"/>
<line x1="331.9" y1="162.51" x2="329.9" y2="162.51" stroke="#111" stroke-width="0.9"/>
<line x1="385.21" y1="207.1" x2="385.21" y2="210.1" stroke="#111" stroke-width="0.9"/>
<line x1="331.9" y1="155.32" x2="328.9" y2="155.32" stroke="#111" stroke-width="0.9"/>
<text transform="translate(385.21,219.60) scale(0.82,1)" font-family="Liberation Sans, sans-serif" font-size="9" text-anchor="middle" fill="#111">−50</text>
<text transform="translate(326.8,158.52) scale(0.82,1)" font-family="Liberation Sans, sans-serif" font-size="9" text-anchor="end" fill="#111">−50</text>
<line x1="392.61" y1="207.1" x2="392.61" y2="209.1" stroke="#111" stroke-width="0.9"/>
<line x1="331.9" y1="148.14" x2="329.9" y2="148.14" stroke="#111" stroke-width="0.9"/>
<line x1="400.01" y1="207.1" x2="400.01" y2="209.1" stroke="#111" stroke-width="0.9"/>
<line x1="331.9" y1="140.95" x2="329.9" y2="140.95" stroke="#111" stroke-width="0.9"/>
<line x1="407.40" y1="207.1" x2="407.40" y2="209.1" stroke="#111" stroke-width="0.9"/>
<line x1="331.9" y1="133.77" x2="329.9" y2="133.77" stroke="#111" stroke-width="0.9"/>
<line x1="414.80" y1="207.1" x2="414.80" y2="209.1" stroke="#111" stroke-width="0.9"/>
<line x1="331.9" y1="126.58" x2="329.9" y2="126.58" stroke="#111" stroke-width="0.9"/>
<line x1="422.20" y1="207.1" x2="422.20" y2="210.1" stroke="#111" stroke-width="0.9"/>
<line x1="331.9" y1="119.40" x2="328.9" y2="119.40" stroke="#111" stroke-width="0.9"/>
<text transform="translate(422.20,219.60) scale(0.82,1)" font-family="Liberation Sans, sans-serif" font-size="9" text-anchor="middle" fill="#111">0</text>
<text transform="translate(326.8,122.60) scale(0.82,1)" font-family="Liberation Sans, sans-serif" font-size="9" text-anchor="end" fill="#111">0</text>
<line x1="429.60" y1="207.1" x2="429.60" y2="209.1" stroke="#111" stroke-width="0.9"/>
<line x1="331.9" y1="112.22" x2="329.9" y2="112.22" stroke="#111" stroke-width="0.9"/>
<line x1="437.00" y1="207.1" x2="437.00" y2="209.1" stroke="#111" stroke-width="0.9"/>
<line x1="331.9" y1="105.03" x2="329.9" y2="105.03" stroke="#111" stroke-width="0.9"/>
<line x1="444.39" y1="207.1" x2="444.39" y2="209.1" stroke="#111" stroke-width="0.9"/>
<line x1="331.9" y1="97.85" x2="329.9" y2="97.85" stroke="#111" stroke-width="0.9"/>
<line x1="451.79" y1="207.1" x2="451.79" y2="209.1" stroke="#111" stroke-width="0.9"/>
<line x1="331.9" y1="90.66" x2="329.9" y2="90.66" stroke="#111" stroke-width="0.9"/>
<line x1="459.19" y1="207.1" x2="459.19" y2="210.1" stroke="#111" stroke-width="0.9"/>
<line x1="331.9" y1="83.48" x2="328.9" y2="83.48" stroke="#111" stroke-width="0.9"/>
<text transform="translate(459.19,219.60) scale(0.82,1)" font-family="Liberation Sans, sans-serif" font-size="9" text-anchor="middle" fill="#111">50</text>
<text transform="translate(326.8,86.68) scale(0.82,1)" font-family="Liberation Sans, sans-serif" font-size="9" text-anchor="end" fill="#111">50</text>
<line x1="466.59" y1="207.1" x2="466.59" y2="209.1" stroke="#111" stroke-width="0.9"/>
<line x1="331.9" y1="76.29" x2="329.9" y2="76.29" stroke="#111" stroke-width="0.9"/>
<line x1="473.98" y1="207.1" x2="473.98" y2="209.1" stroke="#111" stroke-width="0.9"/>
<line x1="331.9" y1="69.11" x2="329.9" y2="69.11" stroke="#111" stroke-width="0.9"/>
<line x1="481.38" y1="207.1" x2="481.38" y2="209.1" stroke="#111" stroke-width="0.9"/>
<line x1="331.9" y1="61.92" x2="329.9" y2="61.92" stroke="#111" stroke-width="0.9"/>
<line x1="488.78" y1="207.1" x2="488.78" y2="209.1" stroke="#111" stroke-width="0.9"/>
<line x1="331.9" y1="54.74" x2="329.9" y2="54.74" stroke="#111" stroke-width="0.9"/>
<line x1="496.18" y1="207.1" x2="496.18" y2="210.1" stroke="#111" stroke-width="0.9"/>
<line x1="331.9" y1="47.56" x2="328.9" y2="47.56" stroke="#111" stroke-width="0.9"/>
<text transform="translate(496.18,219.60) scale(0.82,1)" font-family="Liberation Sans, sans-serif" font-size="9" text-anchor="middle" fill="#111">100</text>
<text transform="translate(326.8,50.76) scale(0.82,1)" font-family="Liberation Sans, sans-serif" font-size="9" text-anchor="end" fill="#111">100</text>
<line x1="503.57" y1="207.1" x2="503.57" y2="209.1" stroke="#111" stroke-width="0.9"/>
<line x1="331.9" y1="40.37" x2="329.9" y2="40.37" stroke="#111" stroke-width="0.9"/>
<line x1="510.97" y1="207.1" x2="510.97" y2="209.1" stroke="#111" stroke-width="0.9"/>
<line x1="331.9" y1="33.19" x2="329.9" y2="33.19" stroke="#111" stroke-width="0.9"/>
<text x="421.3" y="229.3" font-family="Liberation Sans, sans-serif" font-size="8.5" stroke="#111" stroke-width="0.12" text-anchor="middle" textLength="34.3" lengthAdjust="spacingAndGlyphs" fill="#111">X axis [µm]</text>
<text transform="translate(315.2,122.8) rotate(-90)" font-family="Liberation Sans, sans-serif" font-size="8.5" stroke="#111" stroke-width="0.12" text-anchor="middle" textLength="33.6" lengthAdjust="spacingAndGlyphs" fill="#111">Y axis (µm)</text>
<polyline points="422.2,119.4 421.5,117.1 420.3,114.0 419.5,111.7 419.1,110.2 419.5,110.9" fill="none" stroke="#222" stroke-width="0.6"/>
<polyline points="422.6,119.4 423.4,116.3 424.9,114.0 426.5,112.1 426.9,111.7" fill="none" stroke="#555" stroke-width="0.6"/>
<polyline points="422.6,119.4 425.7,119.2 431.1,119.5 437.2,119.4 444.1,119.4" fill="none" stroke="#555" stroke-width="0.6"/>
<polyline points="422.6,119.8 428.0,119.8 433.4,119.0 437.2,118.6 438.0,116.3 438.8,114.8" fill="none" stroke="#222" stroke-width="0.6"/>
<polyline points="423.0,119.4 427.2,118.6 430.3,117.8 431.1,116.9" fill="none" stroke="#555" stroke-width="0.6"/>
<polyline points="423.0,119.8 425.7,120.9 431.1,122.5 433.4,121.7 436.5,122.3 438.8,122.5" fill="none" stroke="#555" stroke-width="0.6"/>
<polyline points="422.6,120.2 424.9,124.0 426.5,125.5 428.0,127.1 428.4,130.9" fill="none" stroke="#222" stroke-width="0.6"/>
<polyline points="422.2,120.2 421.1,124.0 418.8,124.8 417.2,125.5 415.7,126.3" fill="none" stroke="#555" stroke-width="0.6"/>
<polyline points="422.2,119.4 420.3,119.4 418.0,118.6 417.2,119.4" fill="none" stroke="#555" stroke-width="0.6"/>
<polyline points="422.2,119.0 418.8,116.3 418.0,115.5 418.4,113.2" fill="none" stroke="#222" stroke-width="0.6"/>
<polyline points="422.2,119.4 421.9,115.5 422.2,113.2 423.0,112.5" fill="none" stroke="#555" stroke-width="0.6"/>
<polyline points="422.6,119.4 424.1,117.8 424.5,116.3 425.7,117.1" fill="none" stroke="#555" stroke-width="0.6"/>
<polyline points="422.2,119.8 421.1,121.7 420.3,123.2 421.5,124.4" fill="none" stroke="#222" stroke-width="0.6"/>
<polyline points="422.6,119.8 423.4,122.5 422.6,124.8 423.4,127.1" fill="none" stroke="#555" stroke-width="0.6"/>
<polyline points="422.6,119.4 421.9,117.8 421.5,116.3 422.6,114.8" fill="none" stroke="#555" stroke-width="0.6"/>
<polyline points="422.6,119.8 426.5,120.5 428.8,121.7 430.3,124.0" fill="none" stroke="#222" stroke-width="0.6"/>
<polyline points="422.2,119.4 420.7,120.5 419.5,122.5 418.0,123.2" fill="none" stroke="#555" stroke-width="0.6"/>
<polyline points="422.6,119.4 424.5,119.8 426.5,121.3 427.6,123.2 426.5,124.8" fill="none" stroke="#555" stroke-width="0.6"/>
<polyline points="422.2,119.8 421.9,122.5 421.1,126.3 421.9,128.6" fill="none" stroke="#222" stroke-width="0.6"/>
<polyline points="422.6,119.4 428.8,120.2 432.6,120.5 434.9,121.1" fill="none" stroke="#555" stroke-width="0.6"/>
<polyline points="422.2,119.4 421.5,118.2 421.9,116.7 421.1,114.8 421.5,113.2" fill="none" stroke="#555" stroke-width="0.6"/>
<polyline points="422.6,119.8 423.8,121.7 425.7,122.8 427.2,122.5" fill="none" stroke="#222" stroke-width="0.6"/>
<polyline points="422.2,119.4 419.9,119.8 418.8,121.3 417.2,122.5" fill="none" stroke="#555" stroke-width="0.6"/>
<polyline points="422.6,119.4 423.4,118.2 423.0,116.7 423.8,115.5" fill="none" stroke="#555" stroke-width="0.6"/>
<polyline points="422.5,119.5 421.7,121.3 422.2,123.2 421.1,125.2 420.3,124.8" fill="none" stroke="#222" stroke-width="0.6"/>
<polyline points="422.6,119.4 424.9,119.4 427.2,118.2 428.8,117.5 429.5,116.3" fill="none" stroke="#555" stroke-width="0.6"/>
<polyline points="421.5,116.0 422.5,118.0 421.0,120.0 423.0,122.0 421.8,124.5" fill="none" stroke="#555" stroke-width="0.6"/>
<polyline points="422.8,115.5 421.2,117.5 423.5,119.5 421.5,121.5 423.0,124.0" fill="none" stroke="#222" stroke-width="0.6"/>
<polyline points="420.8,118.0 423.2,119.0 420.9,121.0 424.0,122.5 422.0,125.0" fill="none" stroke="#555" stroke-width="0.6"/>
<polyline points="421.8,113.5 420.5,116.0 422.0,117.0 420.6,119.0" fill="none" stroke="#555" stroke-width="0.6"/>
<text x="417.2" y="246.6" font-family="Liberation Sans, sans-serif" font-size="8.73" text-anchor="middle" fill="#111">Explorative cells</text>
<text x="331.9" y="257.4" font-family="Liberation Sans, sans-serif" font-size="7.05" fill="#111">Number of tracks: 27</text>
<line x1="422.2" y1="260.2" x2="422.2" y2="435.6" stroke="#8a8a8a" stroke-width="1.3"/>
<line x1="331.9" y1="348.4" x2="512.4" y2="348.4" stroke="#444" stroke-width="1"/>
<rect x="331.9" y="260.2" width="180.5" height="175.40000000000003" rx="1.5" fill="none" stroke="#111" stroke-width="1.3"/>
<line x1="333.43" y1="435.6" x2="333.43" y2="437.6" stroke="#111" stroke-width="0.9"/>
<line x1="331.9" y1="434.66" x2="329.9" y2="434.66" stroke="#111" stroke-width="0.9"/>
<line x1="340.83" y1="435.6" x2="340.83" y2="437.6" stroke="#111" stroke-width="0.9"/>
<line x1="331.9" y1="427.47" x2="329.9" y2="427.47" stroke="#111" stroke-width="0.9"/>
<line x1="348.22" y1="435.6" x2="348.22" y2="438.6" stroke="#111" stroke-width="0.9"/>
<line x1="331.9" y1="420.29" x2="328.9" y2="420.29" stroke="#111" stroke-width="0.9"/>
<text transform="translate(348.22,448.10) scale(0.82,1)" font-family="Liberation Sans, sans-serif" font-size="9" text-anchor="middle" fill="#111">−100</text>
<text transform="translate(326.8,423.49) scale(0.82,1)" font-family="Liberation Sans, sans-serif" font-size="9" text-anchor="end" fill="#111">−100</text>
<line x1="355.62" y1="435.6" x2="355.62" y2="437.6" stroke="#111" stroke-width="0.9"/>
<line x1="331.9" y1="413.10" x2="329.9" y2="413.10" stroke="#111" stroke-width="0.9"/>
<line x1="363.02" y1="435.6" x2="363.02" y2="437.6" stroke="#111" stroke-width="0.9"/>
<line x1="331.9" y1="405.91" x2="329.9" y2="405.91" stroke="#111" stroke-width="0.9"/>
<line x1="370.42" y1="435.6" x2="370.42" y2="437.6" stroke="#111" stroke-width="0.9"/>
<line x1="331.9" y1="398.72" x2="329.9" y2="398.72" stroke="#111" stroke-width="0.9"/>
<line x1="377.81" y1="435.6" x2="377.81" y2="437.6" stroke="#111" stroke-width="0.9"/>
<line x1="331.9" y1="391.53" x2="329.9" y2="391.53" stroke="#111" stroke-width="0.9"/>
<line x1="385.21" y1="435.6" x2="385.21" y2="438.6" stroke="#111" stroke-width="0.9"/>
<line x1="331.9" y1="384.34" x2="328.9" y2="384.34" stroke="#111" stroke-width="0.9"/>
<text transform="translate(385.21,448.10) scale(0.82,1)" font-family="Liberation Sans, sans-serif" font-size="9" text-anchor="middle" fill="#111">−50</text>
<text transform="translate(326.8,387.54) scale(0.82,1)" font-family="Liberation Sans, sans-serif" font-size="9" text-anchor="end" fill="#111">−50</text>
<line x1="392.61" y1="435.6" x2="392.61" y2="437.6" stroke="#111" stroke-width="0.9"/>
<line x1="331.9" y1="377.15" x2="329.9" y2="377.15" stroke="#111" stroke-width="0.9"/>
<line x1="400.01" y1="435.6" x2="400.01" y2="437.6" stroke="#111" stroke-width="0.9"/>
<line x1="331.9" y1="369.97" x2="329.9" y2="369.97" stroke="#111" stroke-width="0.9"/>
<line x1="407.40" y1="435.6" x2="407.40" y2="437.6" stroke="#111" stroke-width="0.9"/>
<line x1="331.9" y1="362.78" x2="329.9" y2="362.78" stroke="#111" stroke-width="0.9"/>
<line x1="414.80" y1="435.6" x2="414.80" y2="437.6" stroke="#111" stroke-width="0.9"/>
<line x1="331.9" y1="355.59" x2="329.9" y2="355.59" stroke="#111" stroke-width="0.9"/>
<line x1="422.20" y1="435.6" x2="422.20" y2="438.6" stroke="#111" stroke-width="0.9"/>
<line x1="331.9" y1="348.40" x2="328.9" y2="348.40" stroke="#111" stroke-width="0.9"/>
<text transform="translate(422.20,448.10) scale(0.82,1)" font-family="Liberation Sans, sans-serif" font-size="9" text-anchor="middle" fill="#111">0</text>
<text transform="translate(326.8,351.60) scale(0.82,1)" font-family="Liberation Sans, sans-serif" font-size="9" text-anchor="end" fill="#111">0</text>
<line x1="429.60" y1="435.6" x2="429.60" y2="437.6" stroke="#111" stroke-width="0.9"/>
<line x1="331.9" y1="341.21" x2="329.9" y2="341.21" stroke="#111" stroke-width="0.9"/>
<line x1="437.00" y1="435.6" x2="437.00" y2="437.6" stroke="#111" stroke-width="0.9"/>
<line x1="331.9" y1="334.02" x2="329.9" y2="334.02" stroke="#111" stroke-width="0.9"/>
<line x1="444.39" y1="435.6" x2="444.39" y2="437.6" stroke="#111" stroke-width="0.9"/>
<line x1="331.9" y1="326.83" x2="329.9" y2="326.83" stroke="#111" stroke-width="0.9"/>
<line x1="451.79" y1="435.6" x2="451.79" y2="437.6" stroke="#111" stroke-width="0.9"/>
<line x1="331.9" y1="319.65" x2="329.9" y2="319.65" stroke="#111" stroke-width="0.9"/>
<line x1="459.19" y1="435.6" x2="459.19" y2="438.6" stroke="#111" stroke-width="0.9"/>
<line x1="331.9" y1="312.46" x2="328.9" y2="312.46" stroke="#111" stroke-width="0.9"/>
<text transform="translate(459.19,448.10) scale(0.82,1)" font-family="Liberation Sans, sans-serif" font-size="9" text-anchor="middle" fill="#111">50</text>
<text transform="translate(326.8,315.66) scale(0.82,1)" font-family="Liberation Sans, sans-serif" font-size="9" text-anchor="end" fill="#111">50</text>
<line x1="466.59" y1="435.6" x2="466.59" y2="437.6" stroke="#111" stroke-width="0.9"/>
<line x1="331.9" y1="305.27" x2="329.9" y2="305.27" stroke="#111" stroke-width="0.9"/>
<line x1="473.98" y1="435.6" x2="473.98" y2="437.6" stroke="#111" stroke-width="0.9"/>
<line x1="331.9" y1="298.08" x2="329.9" y2="298.08" stroke="#111" stroke-width="0.9"/>
<line x1="481.38" y1="435.6" x2="481.38" y2="437.6" stroke="#111" stroke-width="0.9"/>
<line x1="331.9" y1="290.89" x2="329.9" y2="290.89" stroke="#111" stroke-width="0.9"/>
<line x1="488.78" y1="435.6" x2="488.78" y2="437.6" stroke="#111" stroke-width="0.9"/>
<line x1="331.9" y1="283.70" x2="329.9" y2="283.70" stroke="#111" stroke-width="0.9"/>
<line x1="496.18" y1="435.6" x2="496.18" y2="438.6" stroke="#111" stroke-width="0.9"/>
<line x1="331.9" y1="276.51" x2="328.9" y2="276.51" stroke="#111" stroke-width="0.9"/>
<text transform="translate(496.18,448.10) scale(0.82,1)" font-family="Liberation Sans, sans-serif" font-size="9" text-anchor="middle" fill="#111">100</text>
<text transform="translate(326.8,279.71) scale(0.82,1)" font-family="Liberation Sans, sans-serif" font-size="9" text-anchor="end" fill="#111">100</text>
<line x1="503.57" y1="435.6" x2="503.57" y2="437.6" stroke="#111" stroke-width="0.9"/>
<line x1="331.9" y1="269.33" x2="329.9" y2="269.33" stroke="#111" stroke-width="0.9"/>
<line x1="510.97" y1="435.6" x2="510.97" y2="437.6" stroke="#111" stroke-width="0.9"/>
<line x1="331.9" y1="262.14" x2="329.9" y2="262.14" stroke="#111" stroke-width="0.9"/>
<text x="421.3" y="457.8" font-family="Liberation Sans, sans-serif" font-size="8.5" stroke="#111" stroke-width="0.12" text-anchor="middle" textLength="34.3" lengthAdjust="spacingAndGlyphs" fill="#111">X axis [µm]</text>
<text transform="translate(315.2,351.9) rotate(-90)" font-family="Liberation Sans, sans-serif" font-size="8.5" stroke="#111" stroke-width="0.12" text-anchor="middle" textLength="33.6" lengthAdjust="spacingAndGlyphs" fill="#111">Y axis (µm)</text>
<polyline points="422.2,348.4 421.6,340.0 421.2,330.0 421.4,320.0 421.0,310.0 421.5,300.0 421.3,295.0 419.5,293.3 416.2,292.5 415.9,294.3 417.5,291.5 419.5,289.4" fill="none" stroke="#555" stroke-width="0.6"/>
<polyline points="405.4,303.5 411.5,310.0 410.8,317.7 412.3,323.8 408.5,324.6 415.4,326.9 416.9,331.5 420.0,339.2 421.5,348.5" fill="none" stroke="#777" stroke-width="0.6"/>
<polyline points="393.8,313.1 396.9,317.7 396.2,325.4 400.0,326.9 401.5,331.5 408.5,336.2 415.4,340.8 421.5,348.5" fill="none" stroke="#777" stroke-width="0.6"/>
<polyline points="387.7,339.2 386.9,333.1 390.8,329.7 395.4,330.8 400.0,333.1 407.7,336.2 413.8,340.8 421.5,348.5" fill="none" stroke="#777" stroke-width="0.6"/>
<polyline points="434.6,313.1 430.8,316.9 426.2,320.0 420.0,323.1 417.7,325.4 417.7,330.0 419.2,336.2 420.8,340.8 421.5,348.5" fill="none" stroke="#777" stroke-width="0.6"/>
<polyline points="435.4,321.5 432.3,326.9 429.2,333.1 426.2,339.2 423.8,343.8 421.5,348.5" fill="none" stroke="#777" stroke-width="0.6"/>
<polyline points="450.0,327.7 444.6,325.4 438.5,329.2 433.8,333.1 433.1,336.2 430.8,340.8 426.2,343.8 421.5,348.5" fill="none" stroke="#777" stroke-width="0.6"/>
<polyline points="421.5,348.5 430.8,343.8 441.5,340.8 444.6,333.1 447.7,340.8 452.3,348.5 453.8,348.8" fill="none" stroke="#777" stroke-width="0.6"/>
<polyline points="425.4,330.8 426.2,333.1 424.9,336.2" fill="none" stroke="#777" stroke-width="0.6"/>
<polyline points="386.9,351.5 390.8,350.8 395.4,353.1 392.3,353.7 387.7,352.3 396.9,353.8 403.1,356.5 409.2,353.1 415.4,350.8 421.5,348.5" fill="none" stroke="#555" stroke-width="0.6"/>
<polyline points="396.2,365.4 398.5,359.2 403.1,354.6 408.5,353.1 415.4,350.3 421.5,348.5" fill="none" stroke="#555" stroke-width="0.6"/>
<polyline points="403.1,373.8 407.7,371.5 413.8,370.0 417.7,367.7 419.2,362.3 420.8,354.6 421.5,348.5" fill="none" stroke="#777" stroke-width="0.6"/>
<polyline points="441.5,371.5 438.5,370.0 435.4,365.4 434.6,360.8 432.3,356.2 427.7,353.1 424.6,350.8 421.5,348.5" fill="none" stroke="#777" stroke-width="0.6"/>
<polyline points="418.5,360.8 420.0,356.2 423.1,354.6 426.2,357.7 426.2,360.8 420.8,361.1 418.5,360.8" fill="none" stroke="#777" stroke-width="0.6"/>
<polyline points="410.8,362.3 412.3,357.7 416.9,354.6 420.8,351.5 421.5,348.5" fill="none" stroke="#777" stroke-width="0.6"/>
<polyline points="406.2,337.7 404.6,340.8 407.7,343.8 415.4,345.4 421.5,348.5" fill="none" stroke="#777" stroke-width="0.6"/>
<polyline points="409.2,326.9 410.8,333.1 415.4,339.2 418.5,343.8 421.5,348.5" fill="none" stroke="#777" stroke-width="0.6"/>
<polyline points="421.5,348.5 426.2,344.2 433.1,342.3 438.5,343.1 443.8,343.8 441.5,342.6 433.8,342.0" fill="none" stroke="#222" stroke-width="0.6"/>
<polyline points="407.7,357.7 413.8,353.4 420.3,349.7" fill="none" stroke="#222" stroke-width="0.6"/>
<polyline points="416.9,358.5 418.5,353.8 420.3,350.3" fill="none" stroke="#222" stroke-width="0.6"/>
<polyline points="393.6,411.4 400.0,405.3 407.5,398.0 413.5,392.2 416.8,388.8 418.2,386.8 414.5,387.5 412.0,392.0 417.0,389.5 420.2,384.7 421.5,378.0 421.8,365.0 422.0,352.0" fill="none" stroke="#555" stroke-width="0.6"/>
<polyline points="422.0,352.0 421.6,362.0 421.4,374.0 421.2,385.8 423.8,390.3 426.5,397.0 429.2,405.4 431.5,412.0 433.8,419.2 436.0,423.5 438.5,426.9 442.0,430.0 446.3,433.2 443.5,432.1 440.8,431.2" fill="none" stroke="#555" stroke-width="0.6"/>
<polyline points="422.5,349.0 428.0,351.5 433.5,355.0 436.0,361.0 439.2,368.5 442.0,370.0 445.3,371.4" fill="none" stroke="#777" stroke-width="0.6"/>
<polyline points="421.5,348.5 427.7,340.8 430.8,334.6 435.4,328.5 440.0,326.9 443.1,328.5 447.7,334.6 452.3,348.5" fill="none" stroke="#777" stroke-width="0.6"/>
<polyline points="421.5,348.5 416.9,342.3 411.5,334.6 407.7,329.2 403.1,326.2" fill="none" stroke="#777" stroke-width="0.6"/>
<polyline points="421.5,348.5 429.2,351.5 435.4,354.6 438.5,360.8 443.1,362.3" fill="none" stroke="#777" stroke-width="0.6"/>
<polyline points="421.5,348.5 415.4,353.1 409.2,360.8 404.6,365.4 400.0,366.9" fill="none" stroke="#777" stroke-width="0.6"/>
<rect x="418" y="288" width="1.8" height="1.8" fill="#111"/>
<line x1="422.5" y1="289" x2="425" y2="289" stroke="#333" stroke-width="0.7"/>
<text x="76.5" y="489.6" font-family="Liberation Sans, sans-serif" font-size="8.7" text-anchor="middle" fill="#111">Displacement</text>
<rect x="50.2" y="597.1" width="23.40" height="14.20" fill="#e99aab"/>
<rect x="85" y="563.8" width="22.80" height="47.50" fill="#88a8c4"/>
<circle cx="59.6" cy="576.3" r="1.6" fill="#cf0a2c"/>
<circle cx="63.9" cy="576.3" r="1.6" fill="#cf0a2c"/>
<circle cx="61.8" cy="580.4" r="1.6" fill="#cf0a2c"/>
<circle cx="61.8" cy="583.2" r="1.6" fill="#cf0a2c"/>
<circle cx="63.9" cy="587.5" r="1.6" fill="#cf0a2c"/>
<circle cx="59.6" cy="589.9" r="1.6" fill="#cf0a2c"/>
<circle cx="63.9" cy="591.8" r="1.6" fill="#cf0a2c"/>
<circle cx="68.2" cy="591.6" r="1.6" fill="#cf0a2c"/>
<circle cx="72.5" cy="594.6" r="1.6" fill="#cf0a2c"/>
<circle cx="59.6" cy="595.7" r="1.6" fill="#cf0a2c"/>
<circle cx="55.4" cy="596.6" r="1.6" fill="#cf0a2c"/>
<circle cx="51.4" cy="597.5" r="1.6" fill="#cf0a2c"/>
<circle cx="68.2" cy="596.6" r="1.6" fill="#cf0a2c"/>
<circle cx="63.9" cy="597.5" r="1.6" fill="#cf0a2c"/>
<circle cx="72.5" cy="597.5" r="1.6" fill="#cf0a2c"/>
<circle cx="59.6" cy="600" r="1.6" fill="#cf0a2c"/>
<circle cx="63.9" cy="601.1" r="1.6" fill="#cf0a2c"/>
<circle cx="51.4" cy="603.2" r="1.6" fill="#cf0a2c"/>
<circle cx="55.4" cy="603.2" r="1.6" fill="#cf0a2c"/>
<circle cx="63.9" cy="603.2" r="1.6" fill="#cf0a2c"/>
<circle cx="68.2" cy="602.5" r="1.6" fill="#cf0a2c"/>
<circle cx="68.2" cy="605" r="1.6" fill="#cf0a2c"/>
<circle cx="59.6" cy="605" r="1.6" fill="#cf0a2c"/>
<circle cx="72.5" cy="604.6" r="1.6" fill="#cf0a2c"/>
<circle cx="63.9" cy="607.5" r="1.6" fill="#cf0a2c"/>
<circle cx="59.6" cy="609.3" r="1.6" fill="#cf0a2c"/>
<circle cx="96.3" cy="508.3" r="1.6" fill="#0c4c8a"/>
<circle cx="96.3" cy="525.6" r="1.6" fill="#0c4c8a"/>
<circle cx="96.3" cy="533.6" r="1.6" fill="#0c4c8a"/>
<circle cx="96.3" cy="543.3" r="1.6" fill="#0c4c8a"/>
<circle cx="96.3" cy="548.7" r="1.6" fill="#0c4c8a"/>
<circle cx="98.6" cy="558.3" r="1.6" fill="#0c4c8a"/>
<circle cx="102.6" cy="560.4" r="1.6" fill="#0c4c8a"/>
<circle cx="90" cy="561.9" r="1.6" fill="#0c4c8a"/>
<circle cx="94.3" cy="562.1" r="1.6" fill="#0c4c8a"/>
<circle cx="98.6" cy="564" r="1.6" fill="#0c4c8a"/>
<circle cx="94.3" cy="566.2" r="1.6" fill="#0c4c8a"/>
<circle cx="102.6" cy="566.9" r="1.6" fill="#0c4c8a"/>
<circle cx="85.9" cy="570" r="1.6" fill="#0c4c8a"/>
<circle cx="90" cy="570" r="1.6" fill="#0c4c8a"/>
<circle cx="94.3" cy="569.3" r="1.6" fill="#0c4c8a"/>
<circle cx="98.6" cy="570" r="1.6" fill="#0c4c8a"/>
<circle cx="102.6" cy="569.8" r="1.6" fill="#0c4c8a"/>
<circle cx="107.1" cy="571" r="1.6" fill="#0c4c8a"/>
<circle cx="94.3" cy="572.1" r="1.6" fill="#0c4c8a"/>
<circle cx="94.3" cy="574.5" r="1.6" fill="#0c4c8a"/>
<circle cx="98.6" cy="574.5" r="1.6" fill="#0c4c8a"/>
<circle cx="102.6" cy="575" r="1.6" fill="#0c4c8a"/>
<circle cx="94.3" cy="577.1" r="1.6" fill="#0c4c8a"/>
<circle cx="98.6" cy="577.7" r="1.6" fill="#0c4c8a"/>
<circle cx="94.3" cy="581.5" r="1.6" fill="#0c4c8a"/>
<circle cx="98.6" cy="581.5" r="1.6" fill="#0c4c8a"/>
<circle cx="96.4" cy="584.7" r="1.6" fill="#0c4c8a"/>
<path d="M58.30,594.3h7.2M61.90,594.3V598.2M58.30,598.2h7.2" stroke="#1a1a1a" stroke-width="0.9" fill="none"/>
<path d="M92.80,559.8h7.2M96.40,559.8V567.2M92.80,567.2h7.2" stroke="#1a1a1a" stroke-width="0.9" fill="none"/>
<path d="M39,496V611.3H113.6" stroke="#222" stroke-width="1.2" fill="none"/>
<line x1="36.2" y1="611.30" x2="39" y2="611.30" stroke="#222" stroke-width="1"/>
<text x="33.4" y="614.20" font-family="Liberation Sans, sans-serif" font-size="8.1" text-anchor="end" fill="#111">0</text>
<line x1="36.2" y1="583.25" x2="39" y2="583.25" stroke="#222" stroke-width="1"/>
<text x="33.4" y="586.15" font-family="Liberation Sans, sans-serif" font-size="8.1" text-anchor="end" fill="#111">50</text>
<line x1="36.2" y1="555.20" x2="39" y2="555.20" stroke="#222" stroke-width="1"/>
<text x="33.4" y="558.10" font-family="Liberation Sans, sans-serif" font-size="8.1" text-anchor="end" fill="#111">100</text>
<line x1="36.2" y1="527.15" x2="39" y2="527.15" stroke="#222" stroke-width="1"/>
<text x="33.4" y="530.05" font-family="Liberation Sans, sans-serif" font-size="8.1" text-anchor="end" fill="#111">150</text>
<line x1="36.2" y1="499.10" x2="39" y2="499.10" stroke="#222" stroke-width="1"/>
<text x="33.4" y="502.00" font-family="Liberation Sans, sans-serif" font-size="8.1" text-anchor="end" fill="#111">200</text>
<line x1="61.9" y1="611.3" x2="61.9" y2="614.5" stroke="#222" stroke-width="1"/>
<text x="61.9" y="623.3" font-family="Liberation Sans, sans-serif" font-size="7.5" text-anchor="middle" fill="#111">Non exp.</text>
<line x1="96.4" y1="611.3" x2="96.4" y2="614.5" stroke="#222" stroke-width="1"/>
<text x="96.4" y="623.3" font-family="Liberation Sans, sans-serif" font-size="7.5" text-anchor="middle" fill="#111">Exp.</text>
<text transform="translate(13.7,555.5) rotate(-90)" x="0" y="0" font-family="Liberation Sans, sans-serif" font-size="8.6" text-anchor="middle" textLength="71" lengthAdjust="spacingAndGlyphs" stroke="#111" stroke-width="0.12" fill="#111">Total displacement (µm)</text>
<path d="M61.8,568.5V501.8H96.3V504.3" stroke="#333" stroke-width="0.9" fill="none"/>
<circle cx="74.55" cy="497.10" r="1.15" fill="#111"/>
<circle cx="77.55" cy="497.10" r="1.15" fill="#111"/>
<circle cx="80.55" cy="497.10" r="1.15" fill="#111"/>
<circle cx="83.55" cy="497.10" r="1.15" fill="#111"/>
<text x="209.4" y="489.6" font-family="Liberation Sans, sans-serif" font-size="8.7" text-anchor="middle" fill="#111">Euclidean distance</text>
<rect x="182.4" y="605.0" width="24.30" height="6.30" fill="#e99aab"/>
<rect x="219.1" y="581.7" width="24.30" height="29.60" fill="#88a8c4"/>
<circle cx="194.4" cy="589.1" r="1.6" fill="#cf0a2c"/>
<circle cx="195.6" cy="594.6" r="1.6" fill="#cf0a2c"/>
<circle cx="193.1" cy="595.7" r="1.6" fill="#cf0a2c"/>
<circle cx="189.9" cy="600" r="1.6" fill="#cf0a2c"/>
<circle cx="194.6" cy="602.1" r="1.6" fill="#cf0a2c"/>
<circle cx="198.9" cy="602.1" r="1.6" fill="#cf0a2c"/>
<circle cx="192.8" cy="602.8" r="1.6" fill="#cf0a2c"/>
<circle cx="183.1" cy="605.4" r="1.6" fill="#cf0a2c"/>
<circle cx="186.5" cy="605.6" r="1.6" fill="#cf0a2c"/>
<circle cx="190" cy="606" r="1.6" fill="#cf0a2c"/>
<circle cx="193.5" cy="605.5" r="1.6" fill="#cf0a2c"/>
<circle cx="197" cy="605.8" r="1.6" fill="#cf0a2c"/>
<circle cx="200.5" cy="605.5" r="1.6" fill="#cf0a2c"/>
<circle cx="204" cy="606" r="1.6" fill="#cf0a2c"/>
<circle cx="206.5" cy="607.5" r="1.6" fill="#cf0a2c"/>
<circle cx="185.3" cy="608.9" r="1.6" fill="#cf0a2c"/>
<circle cx="188.8" cy="608.5" r="1.6" fill="#cf0a2c"/>
<circle cx="192.3" cy="608.8" r="1.6" fill="#cf0a2c"/>
<circle cx="195.8" cy="608.3" r="1.6" fill="#cf0a2c"/>
<circle cx="199.3" cy="608.8" r="1.6" fill="#cf0a2c"/>
<circle cx="202.8" cy="608.4" r="1.6" fill="#cf0a2c"/>
<circle cx="192.1" cy="611.4" r="1.6" fill="#cf0a2c"/>
<circle cx="196.7" cy="611.1" r="1.6" fill="#cf0a2c"/>
<circle cx="188" cy="610.5" r="1.6" fill="#cf0a2c"/>
<circle cx="201" cy="610.8" r="1.6" fill="#cf0a2c"/>
<circle cx="204.5" cy="609.5" r="1.6" fill="#cf0a2c"/>
<circle cx="183.5" cy="608" r="1.6" fill="#cf0a2c"/>
<circle cx="231.1" cy="524.8" r="1.6" fill="#0c4c8a"/>
<circle cx="231.1" cy="550.2" r="1.6" fill="#0c4c8a"/>
<circle cx="231.1" cy="562" r="1.6" fill="#0c4c8a"/>
<circle cx="231.1" cy="564.2" r="1.6" fill="#0c4c8a"/>
<circle cx="231.1" cy="570.2" r="1.6" fill="#0c4c8a"/>
<circle cx="223.2" cy="575.6" r="1.6" fill="#0c4c8a"/>
<circle cx="227" cy="575.6" r="1.6" fill="#0c4c8a"/>
<circle cx="231.1" cy="575.6" r="1.6" fill="#0c4c8a"/>
<circle cx="235" cy="576.6" r="1.6" fill="#0c4c8a"/>
<circle cx="239.1" cy="578.8" r="1.6" fill="#0c4c8a"/>
<circle cx="223.2" cy="578.5" r="1.6" fill="#0c4c8a"/>
<circle cx="227" cy="579.3" r="1.6" fill="#0c4c8a"/>
<circle cx="231.1" cy="578.5" r="1.6" fill="#0c4c8a"/>
<circle cx="235.4" cy="584" r="1.6" fill="#0c4c8a"/>
<circle cx="231.1" cy="584.8" r="1.6" fill="#0c4c8a"/>
<circle cx="227" cy="585.6" r="1.6" fill="#0c4c8a"/>
<circle cx="227" cy="589.3" r="1.6" fill="#0c4c8a"/>
<circle cx="231.1" cy="588.8" r="1.6" fill="#0c4c8a"/>
<circle cx="235.4" cy="588.3" r="1.6" fill="#0c4c8a"/>
<circle cx="227" cy="592.8" r="1.6" fill="#0c4c8a"/>
<circle cx="231.1" cy="593.6" r="1.6" fill="#0c4c8a"/>
<circle cx="235.4" cy="592.8" r="1.6" fill="#0c4c8a"/>
<circle cx="227" cy="599.4" r="1.6" fill="#0c4c8a"/>
<circle cx="231.1" cy="599.9" r="1.6" fill="#0c4c8a"/>
<circle cx="235.4" cy="600.7" r="1.6" fill="#0c4c8a"/>
<circle cx="231.1" cy="610.7" r="1.6" fill="#0c4c8a"/>
<path d="M190.95,603.5h7.2M194.55,603.5V606.8M190.95,606.8h7.2" stroke="#1a1a1a" stroke-width="0.9" fill="none"/>
<path d="M227.65,578.2h7.2M231.25,578.2V584.8M227.65,584.8h7.2" stroke="#1a1a1a" stroke-width="0.9" fill="none"/>
<path d="M169.8,496V611.3H248" stroke="#222" stroke-width="1.2" fill="none"/>
<line x1="167.0" y1="611.30" x2="169.8" y2="611.30" stroke="#222" stroke-width="1"/>
<text x="164.20000000000002" y="614.20" font-family="Liberation Sans, sans-serif" font-size="8.1" text-anchor="end" fill="#111">0</text>
<line x1="167.0" y1="573.90" x2="169.8" y2="573.90" stroke="#222" stroke-width="1"/>
<text x="164.20000000000002" y="576.80" font-family="Liberation Sans, sans-serif" font-size="8.1" text-anchor="end" fill="#111">50</text>
<line x1="167.0" y1="536.50" x2="169.8" y2="536.50" stroke="#222" stroke-width="1"/>
<text x="164.20000000000002" y="539.40" font-family="Liberation Sans, sans-serif" font-size="8.1" text-anchor="end" fill="#111">100</text>
<line x1="167.0" y1="499.10" x2="169.8" y2="499.10" stroke="#222" stroke-width="1"/>
<text x="164.20000000000002" y="502.00" font-family="Liberation Sans, sans-serif" font-size="8.1" text-anchor="end" fill="#111">150</text>
<line x1="194.55" y1="611.3" x2="194.55" y2="614.5" stroke="#222" stroke-width="1"/>
<text x="194.55" y="623.3" font-family="Liberation Sans, sans-serif" font-size="7.5" text-anchor="middle" fill="#111">Non exp.</text>
<line x1="231.25" y1="611.3" x2="231.25" y2="614.5" stroke="#222" stroke-width="1"/>
<text x="231.25" y="623.3" font-family="Liberation Sans, sans-serif" font-size="7.5" text-anchor="middle" fill="#111">Exp.</text>
<text transform="translate(144.5,555.5) rotate(-90)" x="0" y="0" font-family="Liberation Sans, sans-serif" font-size="8.6" text-anchor="middle" textLength="70.3" lengthAdjust="spacingAndGlyphs" stroke="#111" stroke-width="0.12" fill="#111">Euclidean distance (µm)</text>
<path d="M194.6,582.5V511.6H231.1V517.4" stroke="#333" stroke-width="0.9" fill="none"/>
<circle cx="208.35" cy="506.90" r="1.15" fill="#111"/>
<circle cx="211.35" cy="506.90" r="1.15" fill="#111"/>
<circle cx="214.35" cy="506.90" r="1.15" fill="#111"/>
<circle cx="217.35" cy="506.90" r="1.15" fill="#111"/>
<text x="342.6" y="489.6" font-family="Liberation Sans, sans-serif" font-size="8.7" text-anchor="middle" fill="#111">Velocity</text>
<rect x="313.2" y="597.1" width="25.80" height="14.20" fill="#e99aab"/>
<rect x="352.2" y="568.3" width="26.30" height="43.00" fill="#88a8c4"/>
<circle cx="323.9" cy="579.4" r="1.6" fill="#cf0a2c"/>
<circle cx="328" cy="579.4" r="1.6" fill="#cf0a2c"/>
<circle cx="326.1" cy="583.4" r="1.6" fill="#cf0a2c"/>
<circle cx="326.1" cy="585.8" r="1.6" fill="#cf0a2c"/>
<circle cx="326.1" cy="590" r="1.6" fill="#cf0a2c"/>
<circle cx="330.1" cy="591.8" r="1.6" fill="#cf0a2c"/>
<circle cx="321.9" cy="593.6" r="1.6" fill="#cf0a2c"/>
<circle cx="326.1" cy="594" r="1.6" fill="#cf0a2c"/>
<circle cx="326.1" cy="596.1" r="1.6" fill="#cf0a2c"/>
<circle cx="330.1" cy="597.5" r="1.6" fill="#cf0a2c"/>
<circle cx="317.9" cy="597.7" r="1.6" fill="#cf0a2c"/>
<circle cx="334" cy="597.1" r="1.6" fill="#cf0a2c"/>
<circle cx="338" cy="597.9" r="1.6" fill="#cf0a2c"/>
<circle cx="321.9" cy="599.1" r="1.6" fill="#cf0a2c"/>
<circle cx="326.1" cy="599.1" r="1.6" fill="#cf0a2c"/>
<circle cx="330.1" cy="599.9" r="1.6" fill="#cf0a2c"/>
<circle cx="317.9" cy="601.9" r="1.6" fill="#cf0a2c"/>
<circle cx="317.9" cy="605.6" r="1.6" fill="#cf0a2c"/>
<circle cx="321.9" cy="604" r="1.6" fill="#cf0a2c"/>
<circle cx="326.1" cy="603.5" r="1.6" fill="#cf0a2c"/>
<circle cx="326.1" cy="605.6" r="1.6" fill="#cf0a2c"/>
<circle cx="330.1" cy="604" r="1.6" fill="#cf0a2c"/>
<circle cx="334" cy="605.5" r="1.6" fill="#cf0a2c"/>
<circle cx="338" cy="604" r="1.6" fill="#cf0a2c"/>
<circle cx="328" cy="608.3" r="1.6" fill="#cf0a2c"/>
<circle cx="323.9" cy="610.1" r="1.6" fill="#cf0a2c"/>
<circle cx="365.2" cy="517.5" r="1.6" fill="#0c4c8a"/>
<circle cx="365.2" cy="533.7" r="1.6" fill="#0c4c8a"/>
<circle cx="365.2" cy="540.8" r="1.6" fill="#0c4c8a"/>
<circle cx="365.2" cy="549.7" r="1.6" fill="#0c4c8a"/>
<circle cx="365.2" cy="554.7" r="1.6" fill="#0c4c8a"/>
<circle cx="358.3" cy="563.3" r="1.6" fill="#0c4c8a"/>
<circle cx="363" cy="565" r="1.6" fill="#0c4c8a"/>
<circle cx="368" cy="565.8" r="1.6" fill="#0c4c8a"/>
<circle cx="372.7" cy="567" r="1.6" fill="#0c4c8a"/>
<circle cx="358.3" cy="570" r="1.6" fill="#0c4c8a"/>
<circle cx="363" cy="570" r="1.6" fill="#0c4c8a"/>
<circle cx="368" cy="570" r="1.6" fill="#0c4c8a"/>
<circle cx="372.7" cy="569.5" r="1.6" fill="#0c4c8a"/>
<circle cx="353.8" cy="573.5" r="1.6" fill="#0c4c8a"/>
<circle cx="358.3" cy="573.8" r="1.6" fill="#0c4c8a"/>
<circle cx="363" cy="573.5" r="1.6" fill="#0c4c8a"/>
<circle cx="368" cy="573.8" r="1.6" fill="#0c4c8a"/>
<circle cx="372.7" cy="573.2" r="1.6" fill="#0c4c8a"/>
<circle cx="377.7" cy="573.5" r="1.6" fill="#0c4c8a"/>
<circle cx="363" cy="577" r="1.6" fill="#0c4c8a"/>
<circle cx="368" cy="577" r="1.6" fill="#0c4c8a"/>
<circle cx="372.7" cy="576.5" r="1.6" fill="#0c4c8a"/>
<circle cx="363" cy="580" r="1.6" fill="#0c4c8a"/>
<circle cx="368" cy="580" r="1.6" fill="#0c4c8a"/>
<circle cx="372.7" cy="579.8" r="1.6" fill="#0c4c8a"/>
<circle cx="368" cy="582" r="1.6" fill="#0c4c8a"/>
<circle cx="372.7" cy="581.8" r="1.6" fill="#0c4c8a"/>
<circle cx="363" cy="584" r="1.6" fill="#0c4c8a"/>
<circle cx="368" cy="584" r="1.6" fill="#0c4c8a"/>
<circle cx="365.2" cy="587.5" r="1.6" fill="#0c4c8a"/>
<path d="M322.50,595.2h7.2M326.10,595.2V599.1M322.50,599.1h7.2" stroke="#1a1a1a" stroke-width="0.9" fill="none"/>
<path d="M361.75,564.7h7.2M365.35,564.7V571.3M361.75,571.3h7.2" stroke="#1a1a1a" stroke-width="0.9" fill="none"/>
<path d="M299.3,496V611.3H385.3" stroke="#222" stroke-width="1.2" fill="none"/>
<line x1="296.5" y1="611.30" x2="299.3" y2="611.30" stroke="#222" stroke-width="1"/>
<text x="293.7" y="614.20" font-family="Liberation Sans, sans-serif" font-size="8.1" text-anchor="end" fill="#111">0</text>
<line x1="296.5" y1="588.86" x2="299.3" y2="588.86" stroke="#222" stroke-width="1"/>
<text x="293.7" y="591.76" font-family="Liberation Sans, sans-serif" font-size="8.1" text-anchor="end" fill="#111">2</text>
<line x1="296.5" y1="566.42" x2="299.3" y2="566.42" stroke="#222" stroke-width="1"/>
<text x="293.7" y="569.32" font-family="Liberation Sans, sans-serif" font-size="8.1" text-anchor="end" fill="#111">4</text>
<line x1="296.5" y1="543.98" x2="299.3" y2="543.98" stroke="#222" stroke-width="1"/>
<text x="293.7" y="546.88" font-family="Liberation Sans, sans-serif" font-size="8.1" text-anchor="end" fill="#111">6</text>
<line x1="296.5" y1="521.54" x2="299.3" y2="521.54" stroke="#222" stroke-width="1"/>
<text x="293.7" y="524.44" font-family="Liberation Sans, sans-serif" font-size="8.1" text-anchor="end" fill="#111">8</text>
<line x1="296.5" y1="499.10" x2="299.3" y2="499.10" stroke="#222" stroke-width="1"/>
<text x="293.7" y="502.00" font-family="Liberation Sans, sans-serif" font-size="8.1" text-anchor="end" fill="#111">10</text>
<line x1="326.1" y1="611.3" x2="326.1" y2="614.5" stroke="#222" stroke-width="1"/>
<text x="326.1" y="623.3" font-family="Liberation Sans, sans-serif" font-size="7.5" text-anchor="middle" fill="#111">Non exp.</text>
<line x1="365.35" y1="611.3" x2="365.35" y2="614.5" stroke="#222" stroke-width="1"/>
<text x="365.35" y="623.3" font-family="Liberation Sans, sans-serif" font-size="7.5" text-anchor="middle" fill="#111">Exp.</text>
<text transform="translate(280.2,555.5) rotate(-90)" x="0" y="0" font-family="Liberation Sans, sans-serif" font-size="8.6" text-anchor="middle" textLength="54" lengthAdjust="spacingAndGlyphs" stroke="#111" stroke-width="0.12" fill="#111">Velocity [µm/min]</text>
<path d="M326.1,572.9V504.3H365.2V510" stroke="#333" stroke-width="0.9" fill="none"/>
<circle cx="341.15" cy="499.60" r="1.15" fill="#111"/>
<circle cx="344.15" cy="499.60" r="1.15" fill="#111"/>
<circle cx="347.15" cy="499.60" r="1.15" fill="#111"/>
<circle cx="350.15" cy="499.60" r="1.15" fill="#111"/>
<text x="475.2" y="489.6" font-family="Liberation Sans, sans-serif" font-size="8.7" text-anchor="middle" fill="#111">Linear progression</text>
<rect x="448.7" y="584.7" width="22.20" height="26.60" fill="#e99aab"/>
<rect x="482.2" y="575.7" width="21.80" height="35.60" fill="#88a8c4"/>
<circle cx="459.6" cy="536.7" r="1.6" fill="#cf0a2c"/>
<circle cx="459.6" cy="539.4" r="1.6" fill="#cf0a2c"/>
<circle cx="459.6" cy="546.5" r="1.6" fill="#cf0a2c"/>
<circle cx="459.6" cy="572.5" r="1.6" fill="#cf0a2c"/>
<circle cx="457.2" cy="576.2" r="1.6" fill="#cf0a2c"/>
<circle cx="462.2" cy="576.8" r="1.6" fill="#cf0a2c"/>
<circle cx="454.6" cy="579.3" r="1.6" fill="#cf0a2c"/>
<circle cx="464.6" cy="580.6" r="1.6" fill="#cf0a2c"/>
<circle cx="459.6" cy="581" r="1.6" fill="#cf0a2c"/>
<circle cx="464.6" cy="582.9" r="1.6" fill="#cf0a2c"/>
<circle cx="454.6" cy="585.3" r="1.6" fill="#cf0a2c"/>
<circle cx="459.6" cy="585.3" r="1.6" fill="#cf0a2c"/>
<circle cx="449.7" cy="590.5" r="1.6" fill="#cf0a2c"/>
<circle cx="454.6" cy="590.5" r="1.6" fill="#cf0a2c"/>
<circle cx="459.6" cy="590.5" r="1.6" fill="#cf0a2c"/>
<circle cx="464.6" cy="592" r="1.6" fill="#cf0a2c"/>
<circle cx="469.6" cy="591.4" r="1.6" fill="#cf0a2c"/>
<circle cx="454.6" cy="594.4" r="1.6" fill="#cf0a2c"/>
<circle cx="459.6" cy="594.4" r="1.6" fill="#cf0a2c"/>
<circle cx="454.6" cy="598.6" r="1.6" fill="#cf0a2c"/>
<circle cx="459.6" cy="600.6" r="1.6" fill="#cf0a2c"/>
<circle cx="454.6" cy="602.9" r="1.6" fill="#cf0a2c"/>
<circle cx="464.6" cy="604.2" r="1.6" fill="#cf0a2c"/>
<circle cx="459.6" cy="606.5" r="1.6" fill="#cf0a2c"/>
<circle cx="459.6" cy="611.4" r="1.6" fill="#cf0a2c"/>
<circle cx="493.3" cy="549.3" r="1.6" fill="#0c4c8a"/>
<circle cx="493.3" cy="554.5" r="1.6" fill="#0c4c8a"/>
<circle cx="488.5" cy="557.9" r="1.6" fill="#0c4c8a"/>
<circle cx="498" cy="558.8" r="1.6" fill="#0c4c8a"/>
<circle cx="493.3" cy="559.3" r="1.6" fill="#0c4c8a"/>
<circle cx="488.5" cy="561.3" r="1.6" fill="#0c4c8a"/>
<circle cx="498" cy="561.3" r="1.6" fill="#0c4c8a"/>
<circle cx="493.3" cy="563.8" r="1.6" fill="#0c4c8a"/>
<circle cx="488.5" cy="564.4" r="1.6" fill="#0c4c8a"/>
<circle cx="498" cy="564.4" r="1.6" fill="#0c4c8a"/>
<circle cx="490.9" cy="568.3" r="1.6" fill="#0c4c8a"/>
<circle cx="495.6" cy="568.3" r="1.6" fill="#0c4c8a"/>
<circle cx="493.3" cy="571.2" r="1.6" fill="#0c4c8a"/>
<circle cx="488.5" cy="576" r="1.6" fill="#0c4c8a"/>
<circle cx="493.3" cy="576.9" r="1.6" fill="#0c4c8a"/>
<circle cx="498" cy="576" r="1.6" fill="#0c4c8a"/>
<circle cx="490.9" cy="580" r="1.6" fill="#0c4c8a"/>
<circle cx="495.6" cy="580" r="1.6" fill="#0c4c8a"/>
<circle cx="493.3" cy="583.8" r="1.6" fill="#0c4c8a"/>
<circle cx="488.5" cy="587.6" r="1.6" fill="#0c4c8a"/>
<circle cx="498" cy="588.8" r="1.6" fill="#0c4c8a"/>
<circle cx="493.3" cy="588.6" r="1.6" fill="#0c4c8a"/>
<circle cx="493.3" cy="591.2" r="1.6" fill="#0c4c8a"/>
<circle cx="493.3" cy="595" r="1.6" fill="#0c4c8a"/>
<circle cx="493.3" cy="599.5" r="1.6" fill="#0c4c8a"/>
<circle cx="493.3" cy="604.5" r="1.6" fill="#0c4c8a"/>
<circle cx="493.3" cy="610.5" r="1.6" fill="#0c4c8a"/>
<path d="M456.20,581h7.2M459.80,581V588.3M456.20,588.3h7.2" stroke="#1a1a1a" stroke-width="0.9" fill="none"/>
<path d="M489.50,572.1h7.2M493.10,572.1V578.3M489.50,578.3h7.2" stroke="#1a1a1a" stroke-width="0.9" fill="none"/>
<path d="M437.2,496V611.3H511.9" stroke="#222" stroke-width="1.2" fill="none"/>
<line x1="434.4" y1="611.30" x2="437.2" y2="611.30" stroke="#222" stroke-width="1"/>
<text x="431.59999999999997" y="614.20" font-family="Liberation Sans, sans-serif" font-size="8.1" text-anchor="end" fill="#111">0.0</text>
<line x1="434.4" y1="573.90" x2="437.2" y2="573.90" stroke="#222" stroke-width="1"/>
<text x="431.59999999999997" y="576.80" font-family="Liberation Sans, sans-serif" font-size="8.1" text-anchor="end" fill="#111">0.5</text>
<line x1="434.4" y1="536.50" x2="437.2" y2="536.50" stroke="#222" stroke-width="1"/>
<text x="431.59999999999997" y="539.40" font-family="Liberation Sans, sans-serif" font-size="8.1" text-anchor="end" fill="#111">1.0</text>
<line x1="434.4" y1="499.10" x2="437.2" y2="499.10" stroke="#222" stroke-width="1"/>
<text x="431.59999999999997" y="502.00" font-family="Liberation Sans, sans-serif" font-size="8.1" text-anchor="end" fill="#111">1.5</text>
<line x1="459.79999999999995" y1="611.3" x2="459.79999999999995" y2="614.5" stroke="#222" stroke-width="1"/>
<text x="459.79999999999995" y="623.3" font-family="Liberation Sans, sans-serif" font-size="7.5" text-anchor="middle" fill="#111">Non exp.</text>
<line x1="493.1" y1="611.3" x2="493.1" y2="614.5" stroke="#222" stroke-width="1"/>
<text x="493.1" y="623.3" font-family="Liberation Sans, sans-serif" font-size="7.5" text-anchor="middle" fill="#111">Exp.</text>
<text transform="translate(414.4,555.5) rotate(-90)" x="0" y="0" font-family="Liberation Sans, sans-serif" font-size="8.6" text-anchor="middle" textLength="52" lengthAdjust="spacingAndGlyphs" stroke="#111" stroke-width="0.12" fill="#111">Linear progression</text>
<path d="M459.6,534.5V524.2H493.3V542.3" stroke="#333" stroke-width="0.9" fill="none"/>
<text x="476.45000000000005" y="521.0" font-family="Liberation Sans, sans-serif" font-size="8" text-anchor="middle" fill="#111">ns</text>
</svg>
</body></html>
